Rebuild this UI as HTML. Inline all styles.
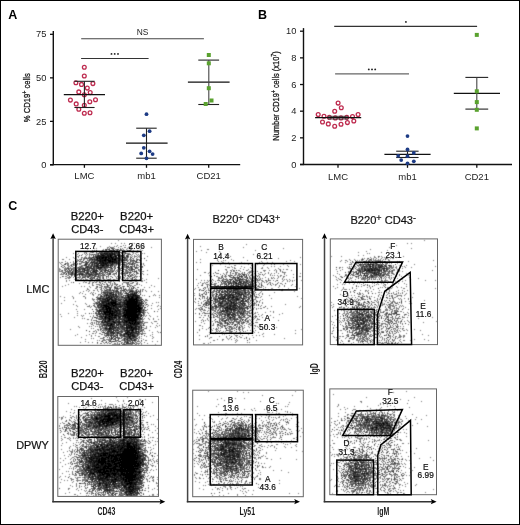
<!DOCTYPE html><html><head><meta charset="utf-8"><style>html,body{margin:0;padding:0;background:#fff;overflow:hidden;}svg{display:block;font-family:"Liberation Sans",sans-serif;will-change:transform;}</style></head><body><svg width="520" height="525" viewBox="0 0 520 525" font-family='"Liberation Sans", sans-serif'>
<rect x="0" y="0" width="520" height="525" fill="#fff"/>
<defs><filter id="bl" filterUnits="userSpaceOnUse" x="0" y="0" width="520" height="525"><feConvolveMatrix order="3" kernelMatrix="0.0192 0.1001 0.0192 0.1001 0.5228 0.1001 0.0192 0.1001 0.0192" divisor="1" preserveAlpha="false"/></filter></defs>
<g filter="url(#bl)"><path d="M118 240h1M111 243h1M115 243h1M121 243h1M124 243h1M132 243h1M134 243h1M88 245h1M117 245h1M123 245h1M125 245h1M131 245h2M100 246h1M109 246h1M114 246h1M116 246h1M120 246h2M129 246h1M131 246h1M107 247h2M111 247h3M118 247h1M124 247h2M128 247h4M142 247h1M151 247h1M94 248h1M96 248h1M107 248h1M109 248h1M113 248h2M120 248h1M122 248h1M127 248h1M134 248h1M141 248h1M87 249h1M103 249h1M107 249h1M112 249h1M115 249h2M121 249h1M123 249h1M126 249h1M130 249h1M140 249h1M92 250h1M94 250h1M103 250h1M105 250h1M112 250h1M116 250h1M123 250h2M128 250h1M133 250h1M137 250h1M142 250h1M92 251h3M96 251h4M101 251h1M104 251h1M106 251h1M108 251h3M126 251h1M129 251h1M131 251h2M84 252h3M90 252h2M93 252h1M103 252h1M113 252h1M119 252h1M122 252h2M132 252h2M136 252h2M73 253h1M78 253h1M84 253h1M89 253h1M96 253h2M99 253h1M118 253h1M121 253h1M124 253h1M126 253h4M133 253h1M135 253h1M142 253h1M144 253h1M77 254h1M82 254h1M85 254h1M87 254h1M89 254h3M93 254h1M95 254h3M116 254h1M120 254h1M122 254h1M127 254h1M129 254h1M132 254h1M136 254h1M138 254h1M86 255h1M89 255h1M91 255h1M96 255h1M113 255h1M124 255h1M128 255h1M131 255h1M134 255h1M137 255h1M139 255h1M77 256h2M85 256h1M89 256h1M94 256h1M122 256h2M130 256h1M132 256h1M134 256h3M138 256h2M147 256h1M66 257h1M73 257h1M78 257h1M81 257h2M84 257h3M88 257h1M90 257h2M94 257h1M118 257h1M121 257h1M126 257h1M128 257h1M130 257h1M134 257h1M137 257h1M139 257h1M74 258h1M81 258h1M83 258h1M85 258h1M87 258h1M89 258h1M92 258h2M95 258h1M126 258h2M132 258h2M136 258h1M141 258h1M62 259h2M69 259h1M77 259h1M79 259h2M83 259h2M87 259h1M118 259h1M125 259h1M127 259h1M129 259h3M133 259h1M136 259h1M138 259h2M75 260h1M77 260h1M80 260h1M87 260h2M90 260h2M93 260h1M127 260h2M131 260h1M137 260h1M146 260h1M65 261h1M73 261h1M77 261h1M80 261h2M88 261h2M92 261h1M95 261h2M118 261h1M120 261h1M122 261h1M124 261h1M131 261h4M59 262h1M61 262h2M67 262h1M70 262h1M73 262h1M76 262h1M81 262h2M84 262h2M98 262h1M119 262h1M121 262h2M126 262h1M128 262h3M132 262h1M135 262h1M138 262h2M60 263h1M66 263h3M73 263h1M80 263h2M89 263h1M91 263h1M93 263h1M120 263h1M123 263h2M126 263h2M129 263h3M133 263h1M135 263h1M141 263h1M143 263h1M61 264h1M67 264h2M71 264h2M74 264h1M77 264h1M79 264h2M84 264h1M87 264h2M93 264h1M95 264h1M109 264h1M114 264h2M117 264h1M119 264h3M125 264h3M130 264h1M133 264h2M136 264h2M140 264h2M143 264h1M62 265h2M67 265h2M70 265h1M73 265h2M81 265h3M89 265h2M93 265h1M113 265h4M118 265h3M123 265h1M125 265h1M128 265h1M132 265h1M136 265h3M144 265h1M68 266h2M71 266h2M76 266h1M79 266h2M82 266h1M85 266h1M89 266h1M92 266h1M99 266h1M111 266h1M115 266h1M121 266h1M124 266h2M132 266h2M136 266h1M139 266h1M141 266h1M62 267h2M65 267h1M67 267h2M70 267h1M73 267h1M76 267h2M79 267h1M81 267h3M95 267h1M113 267h3M119 267h1M121 267h1M123 267h3M127 267h1M129 267h2M132 267h1M134 267h1M137 267h2M141 267h2M59 268h1M64 268h3M69 268h6M76 268h3M80 268h1M86 268h1M88 268h1M95 268h1M102 268h2M106 268h2M110 268h1M114 268h1M118 268h3M123 268h1M126 268h1M129 268h2M136 268h2M59 269h2M64 269h2M69 269h1M72 269h3M81 269h1M85 269h2M91 269h1M95 269h1M98 269h1M101 269h1M103 269h2M106 269h1M109 269h4M117 269h1M119 269h2M124 269h3M129 269h2M139 269h1M59 270h1M61 270h1M64 270h1M70 270h1M74 270h1M78 270h1M80 270h1M83 270h1M89 270h2M92 270h1M99 270h2M102 270h2M111 270h4M116 270h2M120 270h1M122 270h1M125 270h1M127 270h1M130 270h1M132 270h1M134 270h1M136 270h1M138 270h2M147 270h1M59 271h4M65 271h1M67 271h1M69 271h1M73 271h2M77 271h1M86 271h1M89 271h1M98 271h1M102 271h1M107 271h1M110 271h2M115 271h1M119 271h1M122 271h1M125 271h4M130 271h1M133 271h1M139 271h1M142 271h2M62 272h3M67 272h1M69 272h2M73 272h3M78 272h2M81 272h3M85 272h1M100 272h1M103 272h3M109 272h4M124 272h3M128 272h1M131 272h1M134 272h1M137 272h1M61 273h1M63 273h1M69 273h2M73 273h1M76 273h1M78 273h1M83 273h1M90 273h1M92 273h1M94 273h1M98 273h1M100 273h1M102 273h2M105 273h1M107 273h2M113 273h2M116 273h1M120 273h1M125 273h1M129 273h2M133 273h1M136 273h1M138 273h1M140 273h1M142 273h1M60 274h4M65 274h1M68 274h2M73 274h1M76 274h1M85 274h1M87 274h1M93 274h1M99 274h2M103 274h1M106 274h3M112 274h3M116 274h1M121 274h2M124 274h2M131 274h1M136 274h1M140 274h1M143 274h1M147 274h1M67 275h2M72 275h1M77 275h1M81 275h1M83 275h2M86 275h3M91 275h1M94 275h1M96 275h1M99 275h2M102 275h1M104 275h2M114 275h1M118 275h1M125 275h1M131 275h3M135 275h1M63 276h1M65 276h2M71 276h1M79 276h2M82 276h3M86 276h1M90 276h3M96 276h1M99 276h2M102 276h2M107 276h2M110 276h2M115 276h1M117 276h2M122 276h1M125 276h1M129 276h1M131 276h1M134 276h4M139 276h1M60 277h1M67 277h3M73 277h1M76 277h2M79 277h2M85 277h1M90 277h1M92 277h1M97 277h2M100 277h1M102 277h1M106 277h1M108 277h1M116 277h1M118 277h3M122 277h3M127 277h1M129 277h1M133 277h1M136 277h1M65 278h2M68 278h2M75 278h1M79 278h1M81 278h2M85 278h1M89 278h1M91 278h1M93 278h1M96 278h1M99 278h2M102 278h1M106 278h1M110 278h1M116 278h5M122 278h1M124 278h1M126 278h3M130 278h2M135 278h1M142 278h1M158 278h1M74 279h1M77 279h2M80 279h2M83 279h1M85 279h3M90 279h1M92 279h1M95 279h2M100 279h1M103 279h2M107 279h1M109 279h2M113 279h2M118 279h1M121 279h2M125 279h1M127 279h1M131 279h1M135 279h1M139 279h1M146 279h1M66 280h1M69 280h1M83 280h1M86 280h1M91 280h2M98 280h4M105 280h2M109 280h2M113 280h1M115 280h1M117 280h3M122 280h4M132 280h2M137 280h1M142 280h1M144 280h1M66 281h1M84 281h1M89 281h2M94 281h1M96 281h2M99 281h1M101 281h1M103 281h1M105 281h1M108 281h1M110 281h2M113 281h1M119 281h1M129 281h3M135 281h2M141 281h2M71 282h1M83 282h1M85 282h2M89 282h1M92 282h1M95 282h2M100 282h1M104 282h2M108 282h3M123 282h5M132 282h1M137 282h1M146 282h1M79 283h1M88 283h2M92 283h1M100 283h1M106 283h1M110 283h1M112 283h1M114 283h2M122 283h1M126 283h3M130 283h3M136 283h2M68 284h1M92 284h1M96 284h4M101 284h1M103 284h2M106 284h1M110 284h1M112 284h1M114 284h3M122 284h1M128 284h2M136 284h2M139 284h1M65 285h1M92 285h2M99 285h3M108 285h2M111 285h2M119 285h2M127 285h1M129 285h3M134 285h2M141 285h1M151 285h1M62 286h1M81 286h1M84 286h1M89 286h1M96 286h1M101 286h2M105 286h2M108 286h1M111 286h1M114 286h2M117 286h3M122 286h1M124 286h1M130 286h1M133 286h1M154 286h1M90 287h1M96 287h2M99 287h3M104 287h5M110 287h2M116 287h2M121 287h1M123 287h1M129 287h1M131 287h1M134 287h1M137 287h2M144 287h1M149 287h1M87 288h1M95 288h2M103 288h1M105 288h2M109 288h1M114 288h1M118 288h3M125 288h1M129 288h1M132 288h1M135 288h1M87 289h2M97 289h1M100 289h2M104 289h1M106 289h1M108 289h1M112 289h1M114 289h1M116 289h3M121 289h1M123 289h1M126 289h1M128 289h5M136 289h2M140 289h1M142 289h2M86 290h1M89 290h1M93 290h2M97 290h1M101 290h2M104 290h1M107 290h2M111 290h1M114 290h2M121 290h1M127 290h3M133 290h1M135 290h1M138 290h1M142 290h1M145 290h1M83 291h1M88 291h1M98 291h1M101 291h1M103 291h4M108 291h4M114 291h1M120 291h2M123 291h2M127 291h1M134 291h2M137 291h1M139 291h1M142 291h1M146 291h1M151 291h1M158 291h1M80 292h1M91 292h1M93 292h1M101 292h2M114 292h2M117 292h1M119 292h1M121 292h1M123 292h1M125 292h1M128 292h1M130 292h2M133 292h1M139 292h2M79 293h1M82 293h1M90 293h1M92 293h1M95 293h1M103 293h1M106 293h1M108 293h1M112 293h1M116 293h2M119 293h1M121 293h2M124 293h1M138 293h1M140 293h1M85 294h1M92 294h2M98 294h3M102 294h3M108 294h1M119 294h2M122 294h1M126 294h1M137 294h1M154 294h1M93 295h1M98 295h1M100 295h1M103 295h1M114 295h1M117 295h5M124 295h1M142 295h1M144 295h1M153 295h1M155 295h1M159 295h1M60 296h1M72 296h1M83 296h2M97 296h1M103 296h1M105 296h1M107 296h1M119 296h2M123 296h1M126 296h1M64 297h1M73 297h1M85 297h1M97 297h3M101 297h2M104 297h2M115 297h1M118 297h1M120 297h1M141 297h1M159 297h1M73 298h1M85 298h1M92 298h1M113 298h1M117 298h1M119 298h5M140 298h2M92 299h3M96 299h2M101 299h1M122 299h1M124 299h1M139 299h1M145 299h2M64 300h1M93 300h1M97 300h1M99 300h1M110 300h1M117 300h1M121 300h2M145 300h3M75 301h1M94 301h1M97 301h2M100 301h1M118 301h2M122 301h1M140 301h1M95 302h1M97 302h1M117 302h1M142 302h2M145 302h2M156 302h1M158 302h1M61 303h1M85 303h1M93 303h3M98 303h1M121 303h1M145 303h1M152 303h1M73 304h1M86 304h1M94 304h1M96 304h2M142 304h1M144 304h1M147 304h1M76 305h1M89 305h1M94 305h1M142 305h1M145 305h1M148 305h1M151 305h1M158 305h1M77 306h1M87 306h3M91 306h1M95 306h1M99 306h1M141 306h2M147 306h1M157 306h1M160 306h1M90 307h1M95 307h3M122 307h1M96 308h1M98 308h3M121 308h1M144 308h1M151 308h1M160 308h1M76 309h1M84 309h1M95 309h1M97 309h1M142 309h1M144 309h1M147 309h1M158 309h1M96 310h1M121 310h1M144 310h1M146 310h1M77 311h1M96 311h1M142 311h1M144 311h1M157 311h1M95 312h2M102 312h1M121 312h1M144 312h2M147 312h1M68 313h1M77 313h1M85 313h1M91 313h1M93 313h1M97 313h1M142 313h1M144 313h1M148 313h1M60 314h1M96 314h2M101 314h1M122 314h1M144 314h1M77 315h1M81 315h1M83 315h1M93 315h1M99 315h1M102 315h1M104 315h1M143 315h2M146 315h1M149 315h1M61 316h1M82 316h1M90 316h1M93 316h1M97 316h2M139 316h1M143 316h1M145 316h1M150 316h1M157 316h1M74 317h1M92 317h1M96 317h2M99 317h1M103 317h1M117 317h1M82 318h1M84 318h1M92 318h1M97 318h4M117 318h1M142 318h1M144 318h1M148 318h1M153 318h1M87 319h2M91 319h1M98 319h1M102 319h1M115 319h1M142 319h2M149 319h1M153 319h1M158 319h1M91 320h1M93 320h3M106 320h1M114 320h1M117 320h1M121 320h1M138 320h1M140 320h1M142 320h1M96 321h1M98 321h3M103 321h1M141 321h1M143 321h1M154 321h3M91 322h2M94 322h1M96 322h1M98 322h2M142 322h1M144 322h4M151 322h1M87 323h1M90 323h1M92 323h1M94 323h1M96 323h1M98 323h1M100 323h3M104 323h2M117 323h1M121 323h2M140 323h5M152 323h1M157 323h1M91 324h2M96 324h7M122 324h1M140 324h2M93 325h1M99 325h1M101 325h1M115 325h1M119 325h1M138 325h2M141 325h2M144 325h1M156 325h1M159 325h1M78 326h1M89 326h1M91 326h1M95 326h1M97 326h1M99 326h3M104 326h2M107 326h1M115 326h1M119 326h1M124 326h1M140 326h1M146 326h1M150 326h1M157 326h1M79 327h1M99 327h2M102 327h3M107 327h1M119 327h1M137 327h1M140 327h1M142 327h2M146 327h1M155 327h1M91 328h1M93 328h1M100 328h4M116 328h1M120 328h1M140 328h1M144 328h3M70 329h1M97 329h2M101 329h1M103 329h2M114 329h2M118 329h1M120 329h2M125 329h1M128 329h1M140 329h3M95 330h1M98 330h1M100 330h1M103 330h3M107 330h1M120 330h1M122 330h2M134 330h1M139 330h2M142 330h2M149 330h1M93 331h2M96 331h1M101 331h1M103 331h1M105 331h1M116 331h3M123 331h1M130 331h1M134 331h1M139 331h1M141 331h2M144 331h1M157 331h1M96 332h1M106 332h1M109 332h1M115 332h1M119 332h2M137 332h1M142 332h1M152 332h1M158 332h1M92 333h2M95 333h1M99 333h2M104 333h1M109 333h1M115 333h2M121 333h1M123 333h1M139 333h7M77 334h1M89 334h1M101 334h2M104 334h1M106 334h1M109 334h2M112 334h1M115 334h2M119 334h1M122 334h1M135 334h2M139 334h1M142 334h1M152 334h1M75 335h1M86 335h1M91 335h1M95 335h1M104 335h2M109 335h1M113 335h1M115 335h1M119 335h1M125 335h2M136 335h1M138 335h1M150 335h1M91 336h1M98 336h2M105 336h2M108 336h1M110 336h1M120 336h3M137 336h1M139 336h1M141 336h1M146 336h1M152 336h1M81 337h1M104 337h1M112 337h1M115 337h1M118 337h2M122 337h1M124 337h2M131 337h1M136 337h1M138 337h2M153 337h1M91 338h1M93 338h1M100 338h4M109 338h2M117 338h1M120 338h2M123 338h1M126 338h1M134 338h2M139 338h1M141 338h1M152 338h1M85 339h1M103 339h2M106 339h5M114 339h1M122 339h2M125 339h1M128 339h2M132 339h2M136 339h1M138 339h1M143 339h1M97 340h1M99 340h1M102 340h4M108 340h2M116 340h1M118 340h1M121 340h3M125 340h2M130 340h1M136 340h1M138 340h1M145 340h2M85 341h1M101 341h1M106 341h1M111 341h1M115 341h2M118 341h1M124 341h1M126 341h1M128 341h2M134 341h2M138 341h2M141 341h1M152 341h1M157 341h1M80 342h1M88 342h1M92 342h1M103 342h1M105 342h1M108 342h1M111 342h1M117 342h1M121 342h2M125 342h1M130 342h2M135 342h2M140 342h1M144 342h1M97 343h1M100 343h2M104 343h1M107 343h1M109 343h2M114 343h2M117 343h1M119 343h1M123 343h2M131 343h1M133 343h1M136 343h4M141 343h1M147 343h1M112 344h7M126 344h5M132 344h1M136 344h1M138 344h1M141 344h1M155 344h1" stroke="#7c7c7c" stroke-width="1" fill="none" transform="translate(0,0.5)" shape-rendering="crispEdges"/><path d="M110 247h1M111 248h2M105 249h2M108 249h2M117 249h2M120 249h1M131 249h1M96 250h1M102 250h1M106 250h1M109 250h3M113 250h2M117 250h1M119 250h4M127 250h1M129 250h1M103 251h1M105 251h1M112 251h6M123 251h2M138 251h1M92 252h1M96 252h1M99 252h2M105 252h1M109 252h2M115 252h1M117 252h2M120 252h2M124 252h2M86 253h1M101 253h2M108 253h1M115 253h2M119 253h1M92 254h1M94 254h1M98 254h1M104 254h1M118 254h1M124 254h1M128 254h1M130 254h1M79 255h1M81 255h1M93 255h1M95 255h1M100 255h1M105 255h2M120 255h1M122 255h2M126 255h2M93 256h1M95 256h1M112 256h1M120 256h1M124 256h1M126 256h1M128 256h1M89 257h1M95 257h1M114 257h1M119 257h2M124 257h2M127 257h1M131 257h1M84 258h1M88 258h1M90 258h1M107 258h1M120 258h2M125 258h1M130 258h1M144 258h1M81 259h1M89 259h3M93 259h1M95 259h1M98 259h1M117 259h1M120 259h1M123 259h2M78 260h1M83 260h1M89 260h1M92 260h1M94 260h2M117 260h1M120 260h1M122 260h2M125 260h2M130 260h1M132 260h3M136 260h1M139 260h2M76 261h1M79 261h1M82 261h1M85 261h2M93 261h1M98 261h1M107 261h1M119 261h1M121 261h1M130 261h1M135 261h2M75 262h1M83 262h1M86 262h3M90 262h1M94 262h2M117 262h1M120 262h1M125 262h1M133 262h1M136 262h2M65 263h1M74 263h1M77 263h1M79 263h1M85 263h3M90 263h1M97 263h1M108 263h1M111 263h1M113 263h1M115 263h1M118 263h2M134 263h1M64 264h2M73 264h1M76 264h1M91 264h1M96 264h1M107 264h1M110 264h1M113 264h1M116 264h1M118 264h1M122 264h1M129 264h1M132 264h1M71 265h1M76 265h1M85 265h2M88 265h1M91 265h2M95 265h1M98 265h1M105 265h1M109 265h1M112 265h1M124 265h1M126 265h1M64 266h1M81 266h1M86 266h1M88 266h1M90 266h1M94 266h2M100 266h2M104 266h2M107 266h2M112 266h1M118 266h1M123 266h1M126 266h1M128 266h1M131 266h1M134 266h1M142 266h1M74 267h1M78 267h1M85 267h1M87 267h5M94 267h1M97 267h1M103 267h1M105 267h4M110 267h2M117 267h2M126 267h1M135 267h2M67 268h2M75 268h1M81 268h2M85 268h1M89 268h2M93 268h2M96 268h1M99 268h1M104 268h2M112 268h1M115 268h1M122 268h1M127 268h1M131 268h2M66 269h1M68 269h1M79 269h2M82 269h2M88 269h2M92 269h2M100 269h1M102 269h1M108 269h1M114 269h1M123 269h1M131 269h4M138 269h1M141 269h1M62 270h1M65 270h1M67 270h1M71 270h1M73 270h1M76 270h1M79 270h1M82 270h1M87 270h2M91 270h1M94 270h1M101 270h1M104 270h2M107 270h2M110 270h1M126 270h1M129 270h1M131 270h1M66 271h1M68 271h1M70 271h1M75 271h2M79 271h2M82 271h1M87 271h2M92 271h1M95 271h3M104 271h1M108 271h1M112 271h2M117 271h1M123 271h1M132 271h1M134 271h3M65 272h1M68 272h1M71 272h1M76 272h2M80 272h1M86 272h1M88 272h1M90 272h5M99 272h1M102 272h1M106 272h2M116 272h1M121 272h1M127 272h1M129 272h2M64 273h1M68 273h1M71 273h1M74 273h1M79 273h3M85 273h2M88 273h2M91 273h1M93 273h1M95 273h2M109 273h1M115 273h1M121 273h1M123 273h2M126 273h2M137 273h1M66 274h1M70 274h3M75 274h1M78 274h1M80 274h1M83 274h2M89 274h1M92 274h1M94 274h2M97 274h2M102 274h1M104 274h1M110 274h1M129 274h1M132 274h1M134 274h1M71 275h1M76 275h1M82 275h1M85 275h1M90 275h1M92 275h1M98 275h1M101 275h1M103 275h1M108 275h1M124 275h1M127 275h2M62 276h1M69 276h1M74 276h2M85 276h1M87 276h3M94 276h2M97 276h2M120 276h1M128 276h1M130 276h1M70 277h1M78 277h1M82 277h3M87 277h1M91 277h1M93 277h2M99 277h1M103 277h1M112 277h1M132 277h1M134 277h1M76 278h1M92 278h1M94 278h1M97 278h1M103 278h1M132 278h1M76 279h1M91 279h1M97 279h3M108 279h1M132 279h1M134 279h1M136 279h1M134 280h1M102 281h1M73 282h1M93 282h1M99 282h1M114 282h1M128 282h1M133 282h1M102 283h1M107 284h1M117 284h1M127 284h1M107 285h1M116 285h1M97 286h1M104 286h1M107 286h1M123 286h1M127 286h2M132 286h1M109 287h1M114 287h2M120 287h1M133 287h1M101 288h1M115 288h2M121 288h1M123 288h1M131 288h1M107 289h1M109 289h2M124 289h2M106 290h1M109 290h2M112 290h1M116 290h1M120 290h1M123 290h2M126 290h1M130 290h3M140 290h1M107 291h1M113 291h1M115 291h4M125 291h1M129 291h1M133 291h1M136 291h1M138 291h1M140 291h1M104 292h7M113 292h1M116 292h1M120 292h1M126 292h1M132 292h1M135 292h1M137 292h1M101 293h1M104 293h2M115 293h1M118 293h1M120 293h1M125 293h1M128 293h1M130 293h2M133 293h1M135 293h1M105 294h1M109 294h3M114 294h2M121 294h1M127 294h1M136 294h1M101 295h1M105 295h1M109 295h1M111 295h2M123 295h1M125 295h2M129 295h1M131 295h1M139 295h1M100 296h1M102 296h1M110 296h1M112 296h1M114 296h1M116 296h1M118 296h1M121 296h2M125 296h1M138 296h2M149 296h1M96 297h1M100 297h1M103 297h1M110 297h1M113 297h1M117 297h1M119 297h1M121 297h1M123 297h3M130 297h1M134 297h1M139 297h2M97 298h2M101 298h1M103 298h2M108 298h1M112 298h1M116 298h1M125 298h3M138 298h1M98 299h3M106 299h1M113 299h2M117 299h4M123 299h1M127 299h1M140 299h2M101 300h4M116 300h1M123 300h1M141 300h1M143 300h1M99 301h1M109 301h1M120 301h2M123 301h1M125 301h1M138 301h2M144 301h1M96 302h1M98 302h1M101 302h1M107 302h1M121 302h1M96 303h1M99 303h1M101 303h1M104 303h2M118 303h1M122 303h2M142 303h1M98 304h1M100 304h1M102 304h1M121 304h2M140 304h1M93 305h1M98 305h3M117 305h3M121 305h1M123 305h1M125 305h1M94 306h1M97 306h2M102 306h1M110 306h1M117 306h1M123 306h1M143 306h1M101 307h1M112 307h1M114 307h1M118 307h1M124 307h1M144 307h2M101 308h1M104 308h1M115 308h1M120 308h1M126 308h1M142 308h1M92 309h1M96 309h1M112 309h1M116 309h1M120 309h3M97 310h2M101 310h2M105 310h1M113 310h1M122 310h1M141 310h2M93 311h1M97 311h2M118 311h1M121 311h3M141 311h1M143 311h1M154 311h1M99 312h1M118 312h1M122 312h1M143 312h1M89 313h1M95 313h2M98 313h2M103 313h1M115 313h1M121 313h1M137 313h1M98 314h1M100 314h1M117 314h1M121 314h1M140 314h1M143 314h1M96 315h2M100 315h2M119 315h3M139 315h2M142 315h1M100 316h1M107 316h1M113 316h1M117 316h1M121 316h1M94 317h1M100 317h2M122 317h2M140 317h1M142 317h1M96 318h1M101 318h1M103 318h1M113 318h1M120 318h4M139 318h1M99 319h1M101 319h1M104 319h1M106 319h2M114 319h1M118 319h2M122 319h1M125 319h1M139 319h3M96 320h1M103 320h2M111 320h2M118 320h1M123 320h1M137 320h1M139 320h1M97 321h1M101 321h1M110 321h2M115 321h2M120 321h2M123 321h1M137 321h1M139 321h2M142 321h1M108 322h5M116 322h1M121 322h2M140 322h2M103 323h1M106 323h1M113 323h1M115 323h2M120 323h1M123 323h1M125 323h1M127 323h1M103 324h1M106 324h1M108 324h2M117 324h1M119 324h1M121 324h1M125 324h1M129 324h1M139 324h1M143 324h1M102 325h2M105 325h1M113 325h2M116 325h1M118 325h1M120 325h4M125 325h1M127 325h1M132 325h1M137 325h1M143 325h1M102 326h1M108 326h2M111 326h1M114 326h1M118 326h1M121 326h1M123 326h1M133 326h2M106 327h1M111 327h1M113 327h1M116 327h1M120 327h4M125 327h1M104 328h1M107 328h1M112 328h1M114 328h1M117 328h3M121 328h5M137 328h3M105 329h4M111 329h1M116 329h2M119 329h1M122 329h2M129 329h1M137 329h1M139 329h1M86 330h1M102 330h1M106 330h1M109 330h2M115 330h2M121 330h1M124 330h1M136 330h1M138 330h1M89 331h1M108 331h1M110 331h3M119 331h4M124 331h3M102 332h3M107 332h2M113 332h1M116 332h1M121 332h2M135 332h1M139 332h1M160 332h1M106 333h3M111 333h2M118 333h3M129 333h1M133 333h2M138 333h1M107 334h2M111 334h1M117 334h1M120 334h1M125 334h1M131 334h1M134 334h1M137 334h2M106 335h2M111 335h1M114 335h1M121 335h3M129 335h1M135 335h1M144 335h1M113 336h3M117 336h1M123 336h1M126 336h2M131 336h1M135 336h2M103 337h1M107 337h1M109 337h1M113 337h1M117 337h1M121 337h1M126 337h3M132 337h2M114 338h2M118 338h2M125 338h1M128 338h1M132 338h1M136 338h1M115 339h1M118 339h1M110 340h1M115 340h1M117 340h1M127 340h3M131 340h2M135 340h1M141 340h1M102 341h1M109 341h2M112 341h3M119 341h2M125 341h1M130 341h1M132 341h1M137 341h1M97 342h1M106 342h1M124 342h1M126 342h1M128 342h1M132 342h2M121 343h1M127 343h4M132 343h1M122 344h2M125 344h1M131 344h1M135 344h1" stroke="#404040" stroke-width="1" fill="none" transform="translate(0,0.5)" shape-rendering="crispEdges"/><path d="M113 249h1M130 250h1M111 251h1M118 251h2M101 252h2M104 252h1M106 252h1M108 252h1M111 252h2M116 252h1M98 253h1M100 253h1M103 253h1M105 253h3M110 253h2M113 253h2M117 253h1M125 253h1M100 254h1M102 254h2M106 254h4M111 254h1M115 254h1M117 254h1M119 254h1M97 255h3M101 255h1M108 255h2M112 255h1M115 255h3M96 256h4M101 256h2M104 256h1M107 256h1M109 256h1M114 256h1M121 256h1M127 256h1M92 257h1M97 257h2M100 257h1M109 257h1M115 257h2M122 257h1M94 258h1M96 258h1M98 258h1M100 258h1M104 258h1M110 258h1M113 258h2M116 258h1M118 258h1M124 258h1M94 259h1M96 259h1M99 259h1M101 259h3M109 259h1M111 259h1M116 259h1M119 259h1M121 259h1M126 259h1M137 259h1M96 260h2M99 260h1M101 260h1M106 260h1M111 260h1M113 260h1M116 260h1M118 260h1M121 260h1M124 260h1M91 261h1M97 261h1M101 261h1M103 261h2M106 261h1M114 261h3M127 261h1M91 262h3M96 262h2M100 262h2M104 262h3M110 262h2M113 262h1M115 262h1M123 262h2M92 263h1M95 263h1M100 263h3M104 263h1M106 263h1M109 263h2M114 263h1M116 263h2M128 263h1M132 263h1M85 264h2M92 264h1M94 264h1M97 264h2M100 264h6M108 264h1M111 264h2M123 264h2M131 264h1M84 265h1M94 265h1M96 265h2M100 265h2M104 265h1M106 265h1M108 265h1M110 265h2M134 265h1M61 266h1M87 266h1M91 266h1M93 266h1M96 266h1M98 266h1M102 266h2M106 266h1M110 266h1M114 266h1M127 266h1M130 266h1M80 267h1M86 267h1M93 267h1M96 267h1M102 267h1M104 267h1M109 267h1M128 267h1M131 267h1M79 268h1M83 268h2M87 268h1M91 268h2M97 268h1M100 268h2M111 268h1M121 268h1M135 268h1M71 269h1M75 269h2M78 269h1M87 269h1M94 269h1M96 269h1M99 269h1M128 269h1M69 270h1M75 270h1M84 270h3M95 270h3M106 270h1M121 270h1M72 271h1M78 271h1M81 271h1M83 271h2M90 271h1M93 271h2M100 271h2M105 271h1M109 271h1M72 272h1M84 272h1M87 272h1M95 272h2M136 272h1M66 273h1M72 273h1M75 273h1M82 273h1M87 273h1M97 273h1M101 273h1M110 273h1M74 274h1M77 274h1M79 274h1M81 274h2M86 274h1M88 274h1M91 274h1M96 274h1M109 274h1M79 275h1M89 275h1M93 275h1M95 275h1M130 275h1M106 276h1M88 277h1M90 278h1M110 288h1M117 288h1M133 288h1M105 290h1M113 290h1M117 290h1M122 290h1M136 290h1M131 291h2M103 292h1M111 292h2M118 292h1M129 292h1M134 292h1M136 292h1M107 293h1M109 293h3M113 293h1M126 293h2M132 293h1M106 294h1M118 294h1M128 294h5M134 294h2M140 294h1M104 295h1M107 295h2M110 295h1M113 295h1M115 295h2M128 295h1M130 295h1M132 295h1M134 295h1M138 295h1M101 296h1M106 296h1M108 296h2M111 296h1M113 296h1M115 296h1M117 296h1M127 296h1M129 296h2M133 296h5M107 297h1M109 297h1M112 297h1M114 297h1M122 297h1M126 297h2M135 297h1M99 298h2M102 298h1M105 298h1M107 298h1M109 298h1M111 298h1M114 298h1M118 298h1M124 298h1M128 298h1M134 298h1M137 298h1M139 298h1M102 299h4M108 299h1M110 299h1M115 299h2M121 299h1M128 299h1M137 299h2M142 299h1M100 300h1M105 300h2M109 300h1M114 300h1M119 300h2M127 300h1M135 300h1M138 300h1M140 300h1M101 301h3M105 301h2M110 301h1M112 301h1M114 301h1M116 301h2M124 301h1M141 301h2M99 302h1M103 302h4M109 302h1M116 302h1M118 302h3M122 302h5M138 302h1M140 302h2M97 303h1M102 303h2M110 303h1M116 303h2M119 303h2M125 303h1M137 303h5M99 304h1M103 304h3M107 304h1M110 304h1M113 304h2M120 304h1M123 304h2M137 304h1M141 304h1M146 304h1M97 305h1M101 305h2M108 305h2M111 305h1M116 305h1M120 305h1M122 305h1M124 305h1M139 305h3M143 305h1M100 306h1M103 306h1M112 306h1M115 306h1M118 306h2M121 306h2M126 306h1M139 306h2M98 307h3M104 307h1M107 307h1M116 307h2M119 307h3M123 307h1M125 307h1M137 307h1M141 307h2M102 308h1M105 308h1M114 308h1M116 308h1M118 308h1M123 308h1M99 309h3M103 309h2M108 309h1M111 309h1M114 309h1M117 309h3M124 309h1M140 309h1M143 309h1M99 310h2M103 310h2M108 310h1M111 310h1M114 310h1M117 310h1M119 310h2M123 310h1M137 310h1M143 310h1M145 310h1M99 311h1M101 311h2M114 311h2M117 311h1M119 311h2M125 311h1M98 312h1M101 312h1M111 312h1M113 312h1M116 312h2M119 312h2M125 312h1M138 312h1M140 312h2M100 313h3M106 313h3M114 313h1M116 313h1M118 313h3M122 313h3M139 313h2M143 313h1M99 314h1M102 314h1M110 314h1M113 314h2M118 314h3M141 314h1M106 315h3M110 315h1M118 315h1M122 315h1M99 316h1M101 316h4M111 316h1M115 316h2M119 316h2M122 316h1M126 316h1M140 316h2M95 317h1M102 317h1M106 317h1M108 317h1M110 317h1M112 317h1M119 317h1M124 317h1M130 317h1M104 318h1M106 318h2M110 318h2M114 318h3M119 318h1M124 318h3M136 318h1M138 318h1M140 318h2M100 319h1M108 319h1M117 319h1M121 319h1M124 319h1M126 319h2M137 319h1M102 320h1M107 320h2M110 320h1M113 320h1M115 320h2M119 320h1M122 320h1M126 320h1M106 321h2M117 321h3M124 321h1M128 321h1M130 321h1M134 321h1M138 321h1M101 322h7M117 322h4M124 322h2M127 322h2M131 322h1M133 322h1M136 322h1M138 322h2M107 323h4M112 323h1M114 323h1M118 323h2M124 323h1M126 323h1M128 323h1M133 323h1M136 323h2M104 324h2M112 324h3M123 324h2M126 324h1M128 324h1M131 324h1M135 324h1M137 324h1M104 325h1M106 325h2M112 325h1M117 325h1M124 325h1M131 325h1M133 325h4M140 325h1M106 326h1M110 326h1M113 326h1M116 326h1M120 326h1M127 326h3M136 326h2M141 326h1M105 327h1M109 327h1M112 327h1M114 327h1M117 327h2M124 327h1M127 327h2M130 327h1M133 327h1M135 327h1M138 327h2M141 327h1M105 328h1M108 328h1M110 328h1M113 328h1M115 328h1M126 328h1M129 328h2M132 328h1M134 328h2M141 328h1M100 329h1M110 329h1M112 329h2M126 329h1M130 329h2M135 329h1M143 329h1M108 330h1M111 330h1M113 330h2M117 330h1M125 330h1M127 330h1M135 330h1M141 330h1M107 331h1M113 331h1M115 331h1M128 331h2M131 331h3M135 331h3M140 331h1M110 332h3M114 332h1M117 332h1M125 332h2M128 332h1M132 332h1M134 332h1M136 332h1M138 332h1M105 333h1M110 333h1M113 333h2M117 333h1M125 333h1M127 333h2M131 333h2M135 333h3M113 334h1M121 334h1M123 334h2M127 334h1M132 334h2M108 335h1M110 335h1M112 335h1M116 335h2M120 335h1M124 335h1M127 335h1M130 335h2M133 335h2M137 335h1M111 336h1M124 336h2M128 336h1M132 336h1M134 336h1M130 337h1M134 337h2M111 338h1M127 338h1M129 338h2M133 338h1M137 338h1M111 339h1M124 339h1M126 339h1M130 339h1M134 339h2M124 340h1M133 340h1M127 341h1M127 342h1M126 343h1M134 343h1M119 344h1M124 344h1" stroke="#1c1c1c" stroke-width="1" fill="none" transform="translate(0,0.5)" shape-rendering="crispEdges"/><path d="M107 252h1M114 252h1M104 253h1M109 253h1M112 253h1M122 253h1M101 254h1M105 254h1M110 254h1M112 254h3M102 255h3M107 255h1M110 255h2M114 255h1M118 255h2M121 255h1M100 256h1M103 256h1M105 256h2M108 256h1M110 256h2M113 256h1M115 256h2M118 256h2M93 257h1M96 257h1M99 257h1M101 257h8M110 257h4M117 257h1M123 257h1M86 258h1M91 258h1M97 258h1M99 258h1M101 258h3M105 258h2M108 258h2M111 258h2M115 258h1M117 258h1M119 258h1M92 259h1M97 259h1M100 259h1M104 259h5M110 259h1M112 259h4M98 260h1M100 260h1M102 260h4M107 260h4M112 260h1M114 260h2M119 260h1M94 261h1M99 261h2M102 261h1M105 261h1M108 261h6M117 261h1M99 262h1M102 262h2M107 262h3M112 262h1M114 262h1M116 262h1M118 262h1M94 263h1M96 263h1M98 263h2M103 263h1M105 263h1M107 263h1M112 263h1M89 264h1M106 264h1M99 265h1M102 265h2M107 265h1M97 266h1M98 267h4M98 268h1M84 269h1M105 269h1M77 270h1M93 270h1M99 273h1M90 274h1M74 275h1M130 291h1M134 293h1M136 293h1M107 294h1M112 294h2M116 294h1M133 294h1M106 295h1M127 295h1M133 295h1M135 295h3M104 296h1M128 296h1M131 296h2M106 297h1M108 297h1M111 297h1M116 297h1M128 297h2M131 297h3M136 297h3M106 298h1M110 298h1M115 298h1M129 298h5M135 298h2M107 299h1M109 299h1M111 299h2M125 299h2M129 299h8M107 300h2M111 300h3M115 300h1M118 300h1M124 300h3M128 300h7M136 300h2M139 300h1M104 301h1M107 301h2M111 301h1M113 301h1M115 301h1M126 301h12M102 302h1M108 302h1M110 302h6M127 302h11M139 302h1M100 303h1M106 303h4M111 303h5M124 303h1M126 303h11M143 303h1M101 304h1M106 304h1M108 304h2M111 304h2M115 304h5M125 304h12M138 304h2M103 305h5M110 305h1M112 305h4M126 305h13M101 306h1M104 306h6M111 306h1M113 306h2M116 306h1M120 306h1M124 306h2M127 306h12M102 307h2M105 307h2M108 307h4M113 307h1M115 307h1M126 307h11M138 307h3M103 308h1M106 308h8M117 308h1M122 308h1M124 308h2M127 308h15M102 309h1M105 309h3M109 309h2M113 309h1M115 309h1M123 309h1M125 309h15M141 309h1M106 310h2M109 310h2M112 310h1M115 310h2M118 310h1M124 310h13M138 310h3M100 311h1M103 311h11M116 311h1M124 311h1M126 311h15M103 312h8M112 312h1M114 312h2M123 312h2M126 312h12M139 312h1M142 312h1M104 313h2M109 313h5M117 313h1M125 313h12M138 313h1M103 314h7M111 314h2M115 314h2M123 314h17M103 315h1M105 315h1M109 315h1M111 315h7M123 315h16M141 315h1M105 316h2M108 316h3M112 316h1M114 316h1M118 316h1M123 316h3M127 316h12M104 317h2M107 317h1M109 317h1M111 317h1M113 317h4M118 317h1M120 317h1M125 317h5M131 317h9M102 318h1M105 318h1M108 318h2M112 318h1M118 318h1M127 318h9M137 318h1M103 319h1M105 319h1M109 319h5M116 319h1M120 319h1M123 319h1M128 319h9M138 319h1M105 320h1M109 320h1M124 320h2M127 320h10M102 321h1M104 321h2M108 321h2M112 321h3M122 321h1M125 321h3M129 321h1M131 321h3M135 321h2M113 322h3M123 322h1M126 322h1M129 322h2M132 322h1M134 322h2M137 322h1M111 323h1M129 323h4M134 323h2M138 323h2M107 324h1M110 324h2M116 324h1M118 324h1M120 324h1M127 324h1M130 324h1M132 324h3M136 324h1M138 324h1M108 325h4M126 325h1M128 325h3M112 326h1M122 326h1M126 326h1M130 326h3M135 326h1M138 326h2M110 327h1M115 327h1M126 327h1M129 327h1M131 327h2M134 327h1M136 327h1M106 328h1M109 328h1M111 328h1M127 328h2M131 328h1M133 328h1M136 328h1M109 329h1M124 329h1M127 329h1M132 329h3M136 329h1M138 329h1M118 330h1M126 330h1M128 330h6M109 331h1M127 331h1M138 331h1M118 332h1M127 332h1M129 332h3M133 332h1M124 333h1M126 333h1M130 333h1M126 334h1M128 334h3M141 334h1M128 335h1M132 335h1M129 336h2M133 336h1M111 337h1M116 337h1M129 337h1M112 338h1M124 338h1M131 338h1M113 339h1M127 339h1M131 339h1M134 340h1" stroke="#000000" stroke-width="1" fill="none" transform="translate(0,0.5)" shape-rendering="crispEdges"/>
<path d="M246 244h1M200 246h1M266 246h1M243 247h1M283 248h1M207 249h2M201 250h1M255 250h1M196 251h1M219 251h1M206 252h1M220 252h1M225 254h1M253 254h1M228 255h1M230 256h1M226 257h1M243 257h1M300 257h1M278 258h1M200 259h1M217 259h1M231 259h1M266 259h1M217 260h1M223 260h1M225 260h1M233 260h1M247 260h1M290 260h1M218 261h1M221 261h1M261 261h1M286 261h1M294 261h1M196 262h1M200 262h1M222 262h2M228 262h1M241 262h1M259 262h1M262 262h1M267 262h1M272 262h1M225 263h1M239 263h1M244 263h1M266 263h1M220 264h1M229 264h1M248 264h1M257 264h1M264 264h1M271 264h1M283 264h1M300 264h1M212 265h1M234 265h2M251 265h1M263 265h1M287 265h1M225 266h1M231 266h1M241 266h1M271 266h1M274 266h1M280 266h1M288 266h1M227 267h3M232 267h1M234 267h1M244 267h1M250 267h1M262 267h1M267 267h1M234 268h2M240 268h1M251 268h1M261 268h2M268 268h1M278 268h1M197 269h1M225 269h2M232 269h1M243 269h1M248 269h1M275 269h1M279 269h2M283 269h1M286 269h2M226 270h1M230 270h2M234 270h1M238 270h2M246 270h2M251 270h1M263 270h3M269 270h1M274 270h1M276 270h1M291 270h1M227 271h1M231 271h1M233 271h2M240 271h1M249 271h3M253 271h1M255 271h1M257 271h1M264 271h1M276 271h1M280 271h1M282 271h1M204 272h2M209 272h1M226 272h2M236 272h2M242 272h1M248 272h4M260 272h2M268 272h1M276 272h1M282 272h4M208 273h1M213 273h1M216 273h3M223 273h1M226 273h1M230 273h1M232 273h2M235 273h2M238 273h2M241 273h2M244 273h1M247 273h1M249 273h1M254 273h1M258 273h1M265 273h1M268 273h1M271 273h1M274 273h1M278 273h1M284 273h1M300 273h1M220 274h1M224 274h1M226 274h1M230 274h1M235 274h2M238 274h2M245 274h2M248 274h1M251 274h2M259 274h2M264 274h1M270 274h1M284 274h1M293 274h1M200 275h1M209 275h1M229 275h2M232 275h1M234 275h2M237 275h3M248 275h1M250 275h3M256 275h1M258 275h1M263 275h1M270 275h1M272 275h1M274 275h1M277 275h1M280 275h2M286 275h1M210 276h1M216 276h2M221 276h2M224 276h3M230 276h1M237 276h1M244 276h2M253 276h2M259 276h1M278 276h1M280 276h1M283 276h2M299 276h2M218 277h2M221 277h1M225 277h1M230 277h1M232 277h1M235 277h2M239 277h1M242 277h1M244 277h1M246 277h1M249 277h2M252 277h3M259 277h1M265 277h1M271 277h1M273 277h1M278 277h1M283 277h1M293 277h1M218 278h4M226 278h1M232 278h3M239 278h1M242 278h2M246 278h1M249 278h3M253 278h3M258 278h1M260 278h1M262 278h1M268 278h1M271 278h2M274 278h1M277 278h1M282 278h1M196 279h1M218 279h1M222 279h3M226 279h2M234 279h1M236 279h3M243 279h1M245 279h1M248 279h1M250 279h2M254 279h1M256 279h1M259 279h2M268 279h1M282 279h1M284 279h1M286 279h1M289 279h1M296 279h1M201 280h1M204 280h1M207 280h1M209 280h1M211 280h1M213 280h1M217 280h2M221 280h1M223 280h1M226 280h1M228 280h1M231 280h1M240 280h4M245 280h1M248 280h2M252 280h1M254 280h1M256 280h4M261 280h2M265 280h2M269 280h2M273 280h1M276 280h1M283 280h1M287 280h1M290 280h1M292 280h1M294 280h1M301 280h1M208 281h1M211 281h1M215 281h1M220 281h1M223 281h1M227 281h2M232 281h1M235 281h2M242 281h1M245 281h1M248 281h3M252 281h3M257 281h1M262 281h2M266 281h2M275 281h1M282 281h1M287 281h1M289 281h1M292 281h1M200 282h1M204 282h1M206 282h2M212 282h1M218 282h1M223 282h2M229 282h1M231 282h2M247 282h2M250 282h1M252 282h1M254 282h1M256 282h1M258 282h1M261 282h1M264 282h1M266 282h1M269 282h2M278 282h1M198 283h1M202 283h2M205 283h1M210 283h2M214 283h3M221 283h3M225 283h1M232 283h1M234 283h1M239 283h1M244 283h1M246 283h1M251 283h4M259 283h1M261 283h1M268 283h1M270 283h1M272 283h1M280 283h2M202 284h1M206 284h3M212 284h4M220 284h3M224 284h1M229 284h1M234 284h2M237 284h1M241 284h2M244 284h1M253 284h1M256 284h1M259 284h1M273 284h1M275 284h2M282 284h1M292 284h1M296 284h1M197 285h1M201 285h1M207 285h1M209 285h1M215 285h1M217 285h1M224 285h1M228 285h1M230 285h1M243 285h1M247 285h1M253 285h4M258 285h1M262 285h1M271 285h1M275 285h1M279 285h1M284 285h1M291 285h1M211 286h1M215 286h1M217 286h2M220 286h1M222 286h1M229 286h1M232 286h1M235 286h1M240 286h1M242 286h1M248 286h1M250 286h2M254 286h1M257 286h1M259 286h1M261 286h1M263 286h1M279 286h1M284 286h1M295 286h1M198 287h1M204 287h2M207 287h1M211 287h1M214 287h1M219 287h1M222 287h1M225 287h3M234 287h1M236 287h1M239 287h2M249 287h2M253 287h1M259 287h3M265 287h1M278 287h1M195 288h1M205 288h1M208 288h1M210 288h3M215 288h1M218 288h2M221 288h2M224 288h1M227 288h3M231 288h1M234 288h1M239 288h1M242 288h1M245 288h1M248 288h1M251 288h1M255 288h1M257 288h2M263 288h1M271 288h2M288 288h1M299 288h1M194 289h1M199 289h2M204 289h1M208 289h1M211 289h1M214 289h1M216 289h2M219 289h2M222 289h3M232 289h1M241 289h1M247 289h3M254 289h1M256 289h2M268 289h1M279 289h1M282 289h1M201 290h2M206 290h1M208 290h3M213 290h1M216 290h1M218 290h1M229 290h2M232 290h1M239 290h2M246 290h2M252 290h1M254 290h2M281 290h2M212 291h4M218 291h1M223 291h1M228 291h1M232 291h1M234 291h1M236 291h1M241 291h3M247 291h1M249 291h1M251 291h1M253 291h2M261 291h1M294 291h1M204 292h1M210 292h3M216 292h2M224 292h2M228 292h1M231 292h1M243 292h1M248 292h1M250 292h1M253 292h1M260 292h1M274 292h1M194 293h1M199 293h1M203 293h2M206 293h1M212 293h1M215 293h1M219 293h1M221 293h1M232 293h2M240 293h1M243 293h1M246 293h1M251 293h1M253 293h2M259 293h1M262 293h1M199 294h1M201 294h1M206 294h1M210 294h1M212 294h3M224 294h1M236 294h1M244 294h1M246 294h1M249 294h2M253 294h2M256 294h1M258 294h1M262 294h1M194 295h1M200 295h1M202 295h1M210 295h1M213 295h1M215 295h1M218 295h1M220 295h1M234 295h2M237 295h1M245 295h4M252 295h1M259 295h1M269 295h1M200 296h1M202 296h1M204 296h1M207 296h1M212 296h2M217 296h1M220 296h1M226 296h1M231 296h1M239 296h1M241 296h1M248 296h2M251 296h2M254 296h2M261 296h1M297 296h1M202 297h1M204 297h1M209 297h1M213 297h4M238 297h1M244 297h2M247 297h1M249 297h4M255 297h4M260 297h1M195 298h1M202 298h1M204 298h1M206 298h2M211 298h1M214 298h1M216 298h2M230 298h1M234 298h1M240 298h1M245 298h2M255 298h1M271 298h1M301 298h1M195 299h1M200 299h1M207 299h1M209 299h1M213 299h1M224 299h1M229 299h1M240 299h1M244 299h2M249 299h1M251 299h1M253 299h3M262 299h1M204 300h2M208 300h1M214 300h1M216 300h1M218 300h1M220 300h1M231 300h1M239 300h2M247 300h2M251 300h3M256 300h1M260 300h1M194 301h1M198 301h1M203 301h1M206 301h2M209 301h2M213 301h2M216 301h1M220 301h1M227 301h1M232 301h1M238 301h2M247 301h1M250 301h1M252 301h2M256 301h1M259 301h1M195 302h1M201 302h1M207 302h2M211 302h1M213 302h1M217 302h2M223 302h3M229 302h1M235 302h1M237 302h1M244 302h1M248 302h2M251 302h1M254 302h1M256 302h1M259 302h1M262 302h1M198 303h1M201 303h1M204 303h2M208 303h2M215 303h1M223 303h2M238 303h2M252 303h2M255 303h1M262 303h1M204 304h2M212 304h1M214 304h2M217 304h1M219 304h1M222 304h2M228 304h1M232 304h1M240 304h1M243 304h1M245 304h1M248 304h2M251 304h1M253 304h2M256 304h1M285 304h1M198 305h3M203 305h1M205 305h1M207 305h2M214 305h1M226 305h1M241 305h1M246 305h1M248 305h1M250 305h1M252 305h3M256 305h1M261 305h1M211 306h1M213 306h1M217 306h1M219 306h1M224 306h2M236 306h1M240 306h1M242 306h1M244 306h1M246 306h1M249 306h1M252 306h1M260 306h1M271 306h1M300 306h1M200 307h2M205 307h2M208 307h1M210 307h2M218 307h2M221 307h2M231 307h1M237 307h1M243 307h2M249 307h2M252 307h1M254 307h1M263 307h2M299 307h1M196 308h1M198 308h2M201 308h2M208 308h2M212 308h3M216 308h1M220 308h1M223 308h1M238 308h1M245 308h2M250 308h1M252 308h2M256 308h1M258 308h1M260 308h2M267 308h1M195 309h1M199 309h3M204 309h1M212 309h2M215 309h2M218 309h3M222 309h1M236 309h1M238 309h1M241 309h1M243 309h1M251 309h1M253 309h1M256 309h1M200 310h1M203 310h3M208 310h1M210 310h1M212 310h4M217 310h1M221 310h1M229 310h1M232 310h1M237 310h1M239 310h3M243 310h1M249 310h1M251 310h1M201 311h1M207 311h1M214 311h1M217 311h1M219 311h2M225 311h1M230 311h1M235 311h1M240 311h1M242 311h1M245 311h2M248 311h2M270 311h1M273 311h1M203 312h2M213 312h1M216 312h3M223 312h2M228 312h1M233 312h1M235 312h1M238 312h1M242 312h1M244 312h2M247 312h3M251 312h2M255 312h1M257 312h1M265 312h1M273 312h1M195 313h1M202 313h1M204 313h1M206 313h5M212 313h1M214 313h1M217 313h5M223 313h3M235 313h2M238 313h2M244 313h3M250 313h2M254 313h2M282 313h1M199 314h1M211 314h3M218 314h2M221 314h1M223 314h1M226 314h1M238 314h1M241 314h1M244 314h1M246 314h2M253 314h1M258 314h1M262 314h1M279 314h1M201 315h1M204 315h2M213 315h2M220 315h1M224 315h1M226 315h1M234 315h1M236 315h2M241 315h1M243 315h3M247 315h1M249 315h2M255 315h1M261 315h1M270 315h1M208 316h1M213 316h1M215 316h1M217 316h1M219 316h1M221 316h3M225 316h1M229 316h1M235 316h1M238 316h1M240 316h2M252 316h1M254 316h2M259 316h1M268 316h1M199 317h2M203 317h1M209 317h1M211 317h1M214 317h1M217 317h3M221 317h2M224 317h5M233 317h1M235 317h1M241 317h1M243 317h3M247 317h1M251 317h1M253 317h1M262 317h1M273 317h1M207 318h1M219 318h4M225 318h1M228 318h1M231 318h2M235 318h2M239 318h2M247 318h1M252 318h1M254 318h1M257 318h1M202 319h1M207 319h1M219 319h3M223 319h1M227 319h1M229 319h1M231 319h2M238 319h1M240 319h2M246 319h1M249 319h1M251 319h1M253 319h1M257 319h3M201 320h1M203 320h1M205 320h1M208 320h1M214 320h1M223 320h1M227 320h1M230 320h3M235 320h2M239 320h1M244 320h1M247 320h2M250 320h1M256 320h1M264 320h1M278 320h1M195 321h1M203 321h1M210 321h1M212 321h1M215 321h2M219 321h2M222 321h2M228 321h2M231 321h1M233 321h1M235 321h1M237 321h5M243 321h1M245 321h2M248 321h1M251 321h2M201 322h1M215 322h1M217 322h1M219 322h3M224 322h1M226 322h1M231 322h1M236 322h2M241 322h2M247 322h2M251 322h1M255 322h3M204 323h1M213 323h1M219 323h1M222 323h1M224 323h1M226 323h1M230 323h1M232 323h2M237 323h1M239 323h1M242 323h2M246 323h1M249 323h2M252 323h2M213 324h1M220 324h3M228 324h1M231 324h1M234 324h1M236 324h2M242 324h1M248 324h2M251 324h1M259 324h1M199 325h2M212 325h2M217 325h4M222 325h2M225 325h3M237 325h1M240 325h2M244 325h1M250 325h2M254 325h2M202 326h1M217 326h1M220 326h3M225 326h1M228 326h1M231 326h1M233 326h1M236 326h2M241 326h2M248 326h1M255 326h1M257 326h1M260 326h1M265 326h1M218 327h1M221 327h2M225 327h1M227 327h1M229 327h4M234 327h1M238 327h1M240 327h1M242 327h1M244 327h1M249 327h1M258 327h1M276 327h1M202 328h1M208 328h1M213 328h1M218 328h1M220 328h1M228 328h2M232 328h4M238 328h1M242 328h2M254 328h1M199 329h1M206 329h1M211 329h1M215 329h3M226 329h1M229 329h4M238 329h3M242 329h1M262 329h1M301 329h1M199 330h1M212 330h1M216 330h1M218 330h1M220 330h1M228 330h3M234 330h1M242 330h1M247 330h1M250 330h1M255 330h1M295 330h1M216 331h2M223 331h1M225 331h1M229 331h2M232 331h1M240 331h1M245 331h1M253 331h1M197 332h1M209 332h1M215 332h1M221 332h2M229 332h3M235 332h1M239 332h2M254 332h1M258 332h1M213 333h1M215 333h1M226 333h1M231 333h1M233 333h1M236 333h1M238 333h1M263 333h1M295 333h1M209 334h1M222 334h1M224 334h1M234 334h1M240 334h1M248 334h1M262 334h1M274 334h1M199 335h1M207 335h1M229 335h1M235 335h3M242 335h1M252 335h1M256 335h1M259 335h1M207 336h1M219 336h1M226 336h1M236 336h1M239 336h1M263 336h1M210 337h2M226 337h1M237 337h1M240 337h2M253 337h1M209 338h1M227 338h1M229 338h1M234 338h1M244 338h1M246 338h1M249 338h1M284 338h1M199 339h1M217 339h1M222 339h2M228 339h1M231 339h1M236 339h1M249 339h1M213 340h2M222 340h1M235 340h1M237 340h1M256 340h1M236 341h1M210 342h1M235 342h1M247 342h1M249 342h1M203 343h2M208 343h1" stroke="#7c7c7c" stroke-width="1" fill="none" transform="translate(0,0.5)" shape-rendering="crispEdges"/><path d="M274 264h1M218 270h1M233 270h1M236 270h1M280 270h1M215 272h1M230 272h1M235 272h1M244 272h1M240 274h1M242 274h3M262 274h1M214 275h1M222 275h1M225 275h1M228 275h1M231 275h1M241 275h1M243 275h2M211 276h1M229 276h1M233 276h1M240 276h2M249 276h1M257 276h1M222 277h1M231 277h1M233 277h1M237 277h1M241 277h1M245 277h1M247 277h1M223 278h1M237 278h1M240 278h1M256 278h1M212 279h1M225 279h1M230 279h3M240 279h1M244 279h1M246 279h1M257 279h1M219 280h1M222 280h1M227 280h1M230 280h1M235 280h1M237 280h2M247 280h1M251 280h1M253 280h1M268 280h1M277 280h1M222 281h1M224 281h3M229 281h2M237 281h1M240 281h2M243 281h2M246 281h1M251 281h1M225 282h1M227 282h2M233 282h2M238 282h1M241 282h1M244 282h2M251 282h1M255 282h1M224 283h1M226 283h1M228 283h1M230 283h1M237 283h1M240 283h2M245 283h1M248 283h1M250 283h1M277 283h1M285 283h1M211 284h1M225 284h2M231 284h1M236 284h1M243 284h1M245 284h2M248 284h5M255 284h1M261 284h1M267 284h1M270 284h1M202 285h1M214 285h1M218 285h1M226 285h2M231 285h1M233 285h1M235 285h1M237 285h2M241 285h1M246 285h1M249 285h1M251 285h2M261 285h1M207 286h1M216 286h1M224 286h3M228 286h1M231 286h1M234 286h1M236 286h1M241 286h1M244 286h1M246 286h2M249 286h1M258 286h1M210 287h1M216 287h1M224 287h1M228 287h1M231 287h2M241 287h1M245 287h1M247 287h1M251 287h1M254 287h1M256 287h1M203 288h1M214 288h1M216 288h1M220 288h1M233 288h1M240 288h1M243 288h2M249 288h1M252 288h2M256 288h1M226 289h1M228 289h1M230 289h1M238 289h1M243 289h1M245 289h1M250 289h1M265 289h1M199 290h1M214 290h1M217 290h1M219 290h2M222 290h1M224 290h2M228 290h1M235 290h4M241 290h5M250 290h1M205 291h1M222 291h1M224 291h1M227 291h1M231 291h1M235 291h1M238 291h3M244 291h2M248 291h1M252 291h1M206 292h1M208 292h1M213 292h1M218 292h2M221 292h1M223 292h1M226 292h1M229 292h1M237 292h6M244 292h1M246 292h2M251 292h2M255 292h1M220 293h1M227 293h3M237 293h1M241 293h2M244 293h1M248 293h2M252 293h1M205 294h1M219 294h2M222 294h2M227 294h3M232 294h1M234 294h1M238 294h1M245 294h1M247 294h2M252 294h1M199 295h1M212 295h1M216 295h1M221 295h2M225 295h1M227 295h2M231 295h1M239 295h2M244 295h1M203 296h1M215 296h2M218 296h1M222 296h1M227 296h1M229 296h1M235 296h1M238 296h1M240 296h1M243 296h1M246 296h1M250 296h1M256 296h1M207 297h1M211 297h1M219 297h1M221 297h1M223 297h1M225 297h1M228 297h1M235 297h3M239 297h1M241 297h1M246 297h1M248 297h1M209 298h2M213 298h1M221 298h1M225 298h1M227 298h1M229 298h1M231 298h1M238 298h2M243 298h1M248 298h1M251 298h1M208 299h1M214 299h1M216 299h1M219 299h2M222 299h1M225 299h3M230 299h1M232 299h2M235 299h1M239 299h1M242 299h1M248 299h1M207 300h1M210 300h3M215 300h1M217 300h1M219 300h1M222 300h3M227 300h1M233 300h3M237 300h2M243 300h1M250 300h1M208 301h1M215 301h1M217 301h3M221 301h1M223 301h2M226 301h1M228 301h2M233 301h4M240 301h1M242 301h4M248 301h1M257 301h1M205 302h2M209 302h1M216 302h1M221 302h1M226 302h2M230 302h1M238 302h1M242 302h2M247 302h1M206 303h2M210 303h1M213 303h2M219 303h1M225 303h1M228 303h3M232 303h1M234 303h1M236 303h1M240 303h1M242 303h1M245 303h1M248 303h1M250 303h1M254 303h1M206 304h1M208 304h2M218 304h1M221 304h1M225 304h2M230 304h1M233 304h1M235 304h2M238 304h2M241 304h1M258 304h1M206 305h1M211 305h1M215 305h2M218 305h1M221 305h3M225 305h1M227 305h2M231 305h1M237 305h1M239 305h2M242 305h4M251 305h1M258 305h1M202 306h1M204 306h1M212 306h1M214 306h2M218 306h1M220 306h1M228 306h2M232 306h1M234 306h1M238 306h1M241 306h1M247 306h2M265 306h1M212 307h2M215 307h3M223 307h2M228 307h1M235 307h1M239 307h4M246 307h2M211 308h1M215 308h1M219 308h1M226 308h1M232 308h3M240 308h1M242 308h1M244 308h1M248 308h1M202 309h1M211 309h1M223 309h1M226 309h1M228 309h1M235 309h1M237 309h1M240 309h1M247 309h1M218 310h1M223 310h2M228 310h1M230 310h1M234 310h1M236 310h1M242 310h1M244 310h1M250 310h1M215 311h1M228 311h2M234 311h1M237 311h2M241 311h1M243 311h2M247 311h1M210 312h1M219 312h3M225 312h3M229 312h1M231 312h2M234 312h1M236 312h2M239 312h3M199 313h1M205 313h1M215 313h1M226 313h5M232 313h1M234 313h1M237 313h1M243 313h1M247 313h1M249 313h1M216 314h1M220 314h1M222 314h1M230 314h1M232 314h2M235 314h1M237 314h1M242 314h2M208 315h1M219 315h1M221 315h1M228 315h1M232 315h2M238 315h2M242 315h1M248 315h1M216 316h1M230 316h1M232 316h1M239 316h1M243 316h2M249 316h1M256 316h1M213 317h1M232 317h1M238 317h2M242 317h1M248 317h1M255 317h1M223 318h2M227 318h1M229 318h1M233 318h2M237 318h1M241 318h1M246 318h1M222 319h1M228 319h1M230 319h1M233 319h4M242 319h2M219 320h1M221 320h2M224 320h1M228 320h1M234 320h1M240 320h1M245 320h1M217 321h1M224 321h2M234 321h1M236 321h1M247 321h1M218 322h1M227 322h1M229 322h2M232 322h2M238 322h2M244 322h1M220 323h2M225 323h1M227 323h2M238 323h1M241 323h1M217 324h1M229 324h1M232 324h1M239 324h1M224 325h1M234 325h2M224 326h1M229 326h2M239 326h1M209 327h1M239 327h1M216 328h1M225 328h2M231 328h1M239 328h1M226 330h2M239 330h1M219 331h1M231 331h1M236 331h1M243 331h1M205 336h1M231 336h1M230 337h1M246 337h1M247 340h1" stroke="#404040" stroke-width="1" fill="none" transform="translate(0,0.5)" shape-rendering="crispEdges"/><path d="M246 275h1M239 276h1M242 276h1M246 276h1M234 277h1M238 277h1M235 278h1M238 278h1M247 278h1M229 279h1M235 279h1M241 279h2M236 280h1M246 280h1M233 281h1M247 281h1M221 282h1M230 282h1M235 282h1M239 282h2M243 282h1M246 282h1M249 282h1M229 283h1M233 283h1M238 283h1M242 283h2M247 283h1M210 284h1M233 284h1M238 284h2M220 285h1M232 285h1M242 285h1M245 285h1M248 285h1M230 286h1M233 286h1M239 286h1M245 286h1M253 286h1M221 287h1M223 287h1M229 287h2M233 287h1M235 287h1M244 287h1M246 287h1M235 288h4M241 288h1M246 288h1M221 289h1M229 289h1M231 289h1M234 289h4M239 289h2M244 289h1M251 289h2M203 290h1M233 290h2M248 290h1M251 290h1M216 291h1M219 291h1M221 291h1M225 291h2M230 291h1M237 291h1M222 292h1M227 292h1M230 292h1M232 292h1M234 292h2M245 292h1M249 292h1M216 293h1M224 293h2M231 293h1M235 293h2M238 293h2M245 293h1M202 294h1M216 294h2M225 294h2M231 294h1M233 294h1M235 294h1M237 294h1M239 294h5M219 295h1M224 295h1M230 295h1M233 295h1M236 295h1M238 295h1M241 295h1M243 295h1M250 295h2M254 295h1M221 296h1M223 296h3M228 296h1M230 296h1M232 296h3M236 296h1M244 296h2M218 297h1M220 297h1M222 297h1M224 297h1M227 297h1M230 297h3M234 297h1M240 297h1M243 297h1M199 298h1M215 298h1M220 298h1M222 298h1M232 298h2M235 298h2M241 298h2M244 298h1M249 298h1M215 299h1M217 299h1M223 299h1M228 299h1M234 299h1M236 299h1M243 299h1M247 299h1M225 300h1M228 300h2M232 300h1M236 300h1M242 300h1M245 300h2M225 301h1M230 301h1M246 301h1M215 302h1M219 302h2M222 302h1M228 302h1M232 302h3M236 302h1M239 302h2M218 303h1M220 303h2M226 303h2M231 303h1M233 303h1M237 303h1M243 303h2M203 304h1M220 304h1M224 304h1M227 304h1M229 304h1M244 304h1M220 305h1M224 305h1M229 305h1M232 305h5M216 306h1M221 306h1M223 306h1M226 306h2M230 306h1M233 306h1M235 306h1M237 306h1M243 306h1M250 306h1M220 307h1M225 307h1M229 307h1M232 307h3M245 307h1M222 308h1M224 308h2M227 308h5M236 308h2M239 308h1M241 308h1M243 308h1M247 308h1M227 309h1M230 309h4M239 309h1M244 309h1M220 310h1M222 310h1M225 310h3M233 310h1M235 310h1M245 310h1M221 311h1M223 311h1M226 311h2M231 311h1M233 311h1M239 311h1M230 312h1M222 313h1M233 313h1M240 313h3M224 314h2M227 314h3M231 314h1M240 314h1M217 315h1M225 315h1M229 315h1M231 315h1M235 315h1M224 316h1M227 316h2M233 316h2M250 316h1M230 317h2M234 317h1M240 317h1M230 318h1M215 319h1M226 319h1M237 319h1M245 319h1M225 320h2M242 320h1M225 322h1M243 322h1M218 324h1M227 324h1M235 324h1M236 327h1M236 329h1" stroke="#1c1c1c" stroke-width="1" fill="none" transform="translate(0,0.5)" shape-rendering="crispEdges"/><path d="M239 279h1M252 279h1M233 280h1M239 280h1M234 281h1M239 281h1M236 282h1M231 283h1M235 283h2M228 284h1M240 284h1M236 285h1M240 285h1M244 285h1M250 285h1M237 286h2M252 286h1M238 287h1M242 287h2M230 288h1M227 289h1M233 289h1M227 290h1M231 290h1M229 291h1M233 291h1M233 292h1M236 292h1M221 294h1M230 294h1M226 295h1M229 295h1M232 295h1M237 296h1M229 297h1M233 297h1M218 298h2M223 298h2M226 298h1M228 298h1M237 298h1M221 299h1M231 299h1M237 299h2M230 300h1M241 300h1M222 301h1M231 301h1M241 301h1M231 302h1M222 303h1M235 303h1M241 303h1M231 304h1M234 304h1M242 304h1M219 305h1M230 305h1M222 306h1M231 306h1M239 306h1M226 307h2M230 307h1M236 307h1M238 307h1M235 308h1M225 309h1M229 309h1M234 309h1M242 309h1M231 310h1M238 310h1M222 311h1M224 311h1M243 312h1M234 314h1M227 315h1M229 317h1" stroke="#000000" stroke-width="1" fill="none" transform="translate(0,0.5)" shape-rendering="crispEdges"/>
<path d="M424 240h1M407 243h1M411 243h1M396 245h1M389 247h1M411 248h1M370 249h1M387 250h1M366 251h1M398 251h1M358 252h1M381 252h1M367 253h1M369 253h1M358 255h1M363 255h1M331 256h1M341 256h1M374 256h1M379 256h1M381 256h1M403 256h1M370 257h1M374 257h2M378 257h1M382 257h1M384 257h1M386 257h1M393 257h1M396 257h1M362 258h1M364 258h1M367 258h1M371 258h1M373 258h1M376 258h1M381 258h1M385 258h1M387 258h1M390 258h1M392 258h2M349 259h1M354 259h1M361 259h1M363 259h1M367 259h1M369 259h1M371 259h1M373 259h1M375 259h1M378 259h1M380 259h1M383 259h1M388 259h1M341 260h1M345 260h2M350 260h1M357 260h1M359 260h1M361 260h2M368 260h3M373 260h8M382 260h1M388 260h2M433 260h1M340 261h1M347 261h1M356 261h1M363 261h1M365 261h2M375 261h3M379 261h1M381 261h2M385 261h1M389 261h1M397 261h1M399 261h1M408 261h1M345 262h1M350 262h1M352 262h2M355 262h2M360 262h1M364 262h1M367 262h1M370 262h2M373 262h2M377 262h1M385 262h1M387 262h1M399 262h1M351 263h1M355 263h1M357 263h1M360 263h1M364 263h4M371 263h2M374 263h1M377 263h1M380 263h1M385 263h1M389 263h1M391 263h1M397 263h1M401 263h1M349 264h3M354 264h1M356 264h1M362 264h1M366 264h1M374 264h2M380 264h1M382 264h1M385 264h2M414 264h1M354 265h1M358 265h2M361 265h2M365 265h1M367 265h1M374 265h1M377 265h1M386 265h1M391 265h1M393 265h1M399 265h1M406 265h1M349 266h1M351 266h1M354 266h2M358 266h1M360 266h2M368 266h1M374 266h1M376 266h2M384 266h1M390 266h1M393 266h1M396 266h1M402 266h1M404 266h1M435 266h1M339 267h2M342 267h1M347 267h1M349 267h1M354 267h1M356 267h1M359 267h1M363 267h1M365 267h1M367 267h2M374 267h1M377 267h1M382 267h2M387 267h7M395 267h2M405 267h1M411 267h1M339 268h1M348 268h2M351 268h1M353 268h1M358 268h3M363 268h1M366 268h1M378 268h1M380 268h2M388 268h1M391 268h2M396 268h1M402 268h1M336 269h1M342 269h1M350 269h1M353 269h1M356 269h3M360 269h1M363 269h1M380 269h1M382 269h1M388 269h1M390 269h1M393 269h2M397 269h2M340 270h1M350 270h1M361 270h1M363 270h1M385 270h1M387 270h1M391 270h1M393 270h2M397 270h2M432 270h1M337 271h1M348 271h6M355 271h1M358 271h1M361 271h1M373 271h1M376 271h1M380 271h1M383 271h1M386 271h3M390 271h2M397 271h1M399 271h1M402 271h1M351 272h1M353 272h1M355 272h1M359 272h1M361 272h1M365 272h1M367 272h1M381 272h1M384 272h2M389 272h1M391 272h2M396 272h2M337 273h1M368 273h4M377 273h1M383 273h2M388 273h2M391 273h1M393 273h1M396 273h1M406 273h1M339 274h1M345 274h2M348 274h1M352 274h2M355 274h2M358 274h1M366 274h2M370 274h1M379 274h1M381 274h2M385 274h1M387 274h2M393 274h2M399 274h1M333 275h1M346 275h2M350 275h1M352 275h1M354 275h1M358 275h1M360 275h1M373 275h1M377 275h1M381 275h1M384 275h1M386 275h2M389 275h1M391 275h1M396 275h1M399 275h1M408 275h1M335 276h1M340 276h2M344 276h1M346 276h1M357 276h1M361 276h1M363 276h1M366 276h1M370 276h1M374 276h4M380 276h4M389 276h1M395 276h2M401 276h1M336 277h1M341 277h1M348 277h1M350 277h1M352 277h1M356 277h1M358 277h1M360 277h1M362 277h3M369 277h2M373 277h4M378 277h1M384 277h1M386 277h1M388 277h2M391 277h1M393 277h1M409 277h1M338 278h1M347 278h2M350 278h2M361 278h2M364 278h4M371 278h1M373 278h1M375 278h1M379 278h1M383 278h1M385 278h1M389 278h1M391 278h1M394 278h1M397 278h1M418 278h1M336 279h1M339 279h2M349 279h1M355 279h1M361 279h5M367 279h3M373 279h3M377 279h1M381 279h1M385 279h1M390 279h1M402 279h1M410 279h1M337 280h1M341 280h1M348 280h1M351 280h1M364 280h1M382 280h1M384 280h4M405 280h1M425 280h1M435 280h1M348 281h1M352 281h2M355 281h1M358 281h1M360 281h1M365 281h1M367 281h1M369 281h1M372 281h1M380 281h3M384 281h2M388 281h1M390 281h1M395 281h1M397 281h3M402 281h1M340 282h1M348 282h2M352 282h1M374 282h1M378 282h1M380 282h1M382 282h3M343 283h1M345 283h1M349 283h1M354 283h1M357 283h1M359 283h1M372 283h1M374 283h1M377 283h1M381 283h1M383 283h1M387 283h1M393 283h2M398 283h1M404 283h1M337 284h1M342 284h1M344 284h1M353 284h1M361 284h1M365 284h1M367 284h1M376 284h1M378 284h1M384 284h2M392 284h1M406 284h1M356 285h1M363 285h2M369 285h1M374 285h1M383 285h1M385 285h1M391 285h1M333 286h1M358 286h1M361 286h1M369 286h1M384 286h1M396 286h1M406 286h1M337 287h1M343 287h1M352 287h1M367 287h1M370 287h1M380 287h1M382 287h1M387 287h2M392 287h1M397 287h1M401 287h1M335 288h1M343 288h1M352 288h1M356 288h1M370 288h1M387 288h1M390 288h2M403 288h2M435 288h1M342 289h1M344 289h3M349 289h1M373 289h1M388 289h2M341 290h1M355 290h1M360 290h1M365 290h2M368 290h1M379 290h1M389 290h1M398 290h1M402 290h1M407 290h1M345 291h1M350 291h1M353 291h1M365 291h1M367 291h1M371 291h1M386 291h1M389 291h1M396 291h1M404 291h1M350 292h1M359 292h1M368 292h1M378 292h2M381 292h1M386 292h1M388 292h1M393 292h1M398 292h1M402 292h1M346 293h2M359 293h2M362 293h1M375 293h1M388 293h2M393 293h1M396 293h1M398 293h1M400 293h1M402 293h1M406 293h1M413 293h1M340 294h1M358 294h3M363 294h1M379 294h1M387 294h1M394 294h3M405 294h1M342 295h1M348 295h1M351 295h1M354 295h1M362 295h1M366 295h1M378 295h1M381 295h1M386 295h1M389 295h1M391 295h2M397 295h5M404 295h1M347 296h1M359 296h1M362 296h2M366 296h2M369 296h1M371 296h1M378 296h1M383 296h1M389 296h1M391 296h2M396 296h2M401 296h1M348 297h1M352 297h1M355 297h1M360 297h1M362 297h1M367 297h1M369 297h1M374 297h1M380 297h1M382 297h2M387 297h1M394 297h2M412 297h1M346 298h1M349 298h2M357 298h1M362 298h2M370 298h1M377 298h1M380 298h1M387 298h1M389 298h2M392 298h2M398 298h1M400 298h1M404 298h1M408 298h1M344 299h1M346 299h2M351 299h1M354 299h1M356 299h1M358 299h2M361 299h1M363 299h3M367 299h1M370 299h1M377 299h1M379 299h1M381 299h2M393 299h1M399 299h1M401 299h1M408 299h1M343 300h1M345 300h1M348 300h1M352 300h2M355 300h1M360 300h1M374 300h2M377 300h1M381 300h1M384 300h1M386 300h1M393 300h1M401 300h1M424 300h1M345 301h1M347 301h2M351 301h2M355 301h1M357 301h1M364 301h1M376 301h1M378 301h1M385 301h1M390 301h1M392 301h3M405 301h1M409 301h1M331 302h1M343 302h1M348 302h1M356 302h3M363 302h1M365 302h1M369 302h1M372 302h3M377 302h2M382 302h1M387 302h2M391 302h1M394 302h2M397 302h1M342 303h1M350 303h1M356 303h1M359 303h1M361 303h1M363 303h1M366 303h2M369 303h1M371 303h1M378 303h1M382 303h1M384 303h1M390 303h3M395 303h1M397 303h1M401 303h1M409 303h1M411 303h1M333 304h1M344 304h1M350 304h2M357 304h1M360 304h1M364 304h1M368 304h1M374 304h1M378 304h1M382 304h3M386 304h1M388 304h1M390 304h1M393 304h1M398 304h1M331 305h1M345 305h2M356 305h1M359 305h3M363 305h1M365 305h1M367 305h1M370 305h1M372 305h1M376 305h1M378 305h1M381 305h2M387 305h1M389 305h5M395 305h2M400 305h1M402 305h1M333 306h1M341 306h1M346 306h1M354 306h1M356 306h3M362 306h1M367 306h3M374 306h1M377 306h1M379 306h2M385 306h1M388 306h3M392 306h3M399 306h1M401 306h1M403 306h1M332 307h1M340 307h2M343 307h2M348 307h1M353 307h1M361 307h2M364 307h2M369 307h1M373 307h3M377 307h1M385 307h1M389 307h2M394 307h1M396 307h1M399 307h1M405 307h1M343 308h2M347 308h1M351 308h3M358 308h4M366 308h1M368 308h1M370 308h3M386 308h1M389 308h2M393 308h2M396 308h3M403 308h1M338 309h1M345 309h3M357 309h3M366 309h1M369 309h3M373 309h1M376 309h2M385 309h3M390 309h3M396 309h1M398 309h1M408 309h1M334 310h1M337 310h1M341 310h1M343 310h2M348 310h1M350 310h1M355 310h2M360 310h1M362 310h2M365 310h3M375 310h2M380 310h1M385 310h3M389 310h1M392 310h1M395 310h3M344 311h1M346 311h2M350 311h1M353 311h3M359 311h3M365 311h3M371 311h2M376 311h1M380 311h1M383 311h2M391 311h2M394 311h3M398 311h1M400 311h2M344 312h1M347 312h1M351 312h2M354 312h1M361 312h1M363 312h2M370 312h1M372 312h1M376 312h1M380 312h3M386 312h2M394 312h1M403 312h1M407 312h1M339 313h1M343 313h2M346 313h3M351 313h1M353 313h2M356 313h1M358 313h1M368 313h2M371 313h1M373 313h1M375 313h1M378 313h2M385 313h1M389 313h1M391 313h2M408 313h1M342 314h1M345 314h2M348 314h1M350 314h8M364 314h4M369 314h1M371 314h1M378 314h2M384 314h2M393 314h2M396 314h1M404 314h1M406 314h1M335 315h1M350 315h4M355 315h1M358 315h1M369 315h1M375 315h1M379 315h2M382 315h1M385 315h2M388 315h1M391 315h1M404 315h1M408 315h1M332 316h1M340 316h1M343 316h1M346 316h1M349 316h1M354 316h2M358 316h2M361 316h1M363 316h3M370 316h1M374 316h1M376 316h1M379 316h1M381 316h1M384 316h1M386 316h1M388 316h1M395 316h1M402 316h1M338 317h1M345 317h1M347 317h2M350 317h3M362 317h1M366 317h1M371 317h1M373 317h3M386 317h1M388 317h1M390 317h3M395 317h1M398 317h1M402 317h3M407 317h1M432 317h1M340 318h1M344 318h1M346 318h1M348 318h1M354 318h3M358 318h1M361 318h1M367 318h1M369 318h3M374 318h1M376 318h2M379 318h1M383 318h1M385 318h2M388 318h1M392 318h2M395 318h2M398 318h3M418 318h1M336 319h1M344 319h1M347 319h2M350 319h2M356 319h1M359 319h1M364 319h1M368 319h2M373 319h1M390 319h1M394 319h1M397 319h1M402 319h1M339 320h1M342 320h1M346 320h2M349 320h2M354 320h1M364 320h1M368 320h1M371 320h1M373 320h2M378 320h2M390 320h2M396 320h2M401 320h1M407 320h1M331 321h1M340 321h1M343 321h1M347 321h1M351 321h3M370 321h5M382 321h1M385 321h1M387 321h2M390 321h1M392 321h1M395 321h2M398 321h1M400 321h1M404 321h1M408 321h1M436 321h1M333 322h1M339 322h1M341 322h1M345 322h1M349 322h1M354 322h1M359 322h1M362 322h1M365 322h3M370 322h2M377 322h3M387 322h1M389 322h2M396 322h1M398 322h1M400 322h1M409 322h1M423 322h1M345 323h2M349 323h1M351 323h1M353 323h1M355 323h2M359 323h1M368 323h3M374 323h1M377 323h1M379 323h1M381 323h5M388 323h2M393 323h1M395 323h2M400 323h1M402 323h1M332 324h1M340 324h1M345 324h1M348 324h2M351 324h3M364 324h1M367 324h2M371 324h1M374 324h1M378 324h1M381 324h2M385 324h3M393 324h1M402 324h1M408 324h1M334 325h1M342 325h1M348 325h1M352 325h1M356 325h1M360 325h1M362 325h2M367 325h1M371 325h1M377 325h5M387 325h1M390 325h1M392 325h1M395 325h1M397 325h1M345 326h3M351 326h1M353 326h1M356 326h1M366 326h1M369 326h2M374 326h4M379 326h1M381 326h1M383 326h1M387 326h1M393 326h1M397 326h2M400 326h1M403 326h1M333 327h1M336 327h1M345 327h4M352 327h1M355 327h1M359 327h2M364 327h2M367 327h1M369 327h2M372 327h1M376 327h4M383 327h1M386 327h1M389 327h4M396 327h1M333 328h1M344 328h1M346 328h1M352 328h1M354 328h2M364 328h1M371 328h1M375 328h3M381 328h2M386 328h2M393 328h3M398 328h1M400 328h1M402 328h2M337 329h1M343 329h2M347 329h1M351 329h1M353 329h1M358 329h1M368 329h1M370 329h1M373 329h1M378 329h2M381 329h1M386 329h1M388 329h1M393 329h1M395 329h1M397 329h1M402 329h1M406 329h1M414 329h1M333 330h1M338 330h1M340 330h2M345 330h1M352 330h2M355 330h2M360 330h1M363 330h1M371 330h4M376 330h1M379 330h1M385 330h1M387 330h1M390 330h1M394 330h1M396 330h2M399 330h1M403 330h2M407 330h1M420 330h1M332 331h1M349 331h1M352 331h2M356 331h1M358 331h1M360 331h2M363 331h1M365 331h1M369 331h2M372 331h1M374 331h1M376 331h1M381 331h3M386 331h1M389 331h1M391 331h2M394 331h2M397 331h1M400 331h1M337 332h1M347 332h1M349 332h3M357 332h1M359 332h2M362 332h3M366 332h2M370 332h1M374 332h1M381 332h1M386 332h1M392 332h1M398 332h1M331 333h2M342 333h1M352 333h1M355 333h2M362 333h3M373 333h1M375 333h1M380 333h1M387 333h1M389 333h2M392 333h1M394 333h2M406 333h1M347 334h2M353 334h1M360 334h4M365 334h4M370 334h2M374 334h1M376 334h1M378 334h1M380 334h1M386 334h1M393 334h1M399 334h1M422 334h1M346 335h3M352 335h1M355 335h1M357 335h2M360 335h2M363 335h4M369 335h2M373 335h1M377 335h1M379 335h1M385 335h2M389 335h2M393 335h1M399 335h2M403 335h2M428 335h1M333 336h1M339 336h2M342 336h2M347 336h1M357 336h3M364 336h1M366 336h1M369 336h2M374 336h1M379 336h1M381 336h1M389 336h2M392 336h1M395 336h2M399 336h3M403 336h2M334 337h1M336 337h1M346 337h1M350 337h4M358 337h1M360 337h1M362 337h1M366 337h1M368 337h1M375 337h1M380 337h1M382 337h1M390 337h1M393 337h1M395 337h1M398 337h3M403 337h1M339 338h1M345 338h1M350 338h2M353 338h2M357 338h1M359 338h5M365 338h2M382 338h1M384 338h1M390 338h1M397 338h1M336 339h1M352 339h2M356 339h2M359 339h2M362 339h1M364 339h1M366 339h3M371 339h1M382 339h1M384 339h1M387 339h1M389 339h1M394 339h1M400 339h1M414 339h1M424 339h1M336 340h1M341 340h1M348 340h2M356 340h4M361 340h2M365 340h1M367 340h1M369 340h1M372 340h2M377 340h1M379 340h1M381 340h1M384 340h1M386 340h1M392 340h3M399 340h1M403 340h2M410 340h1M428 340h1M342 341h1M349 341h1M358 341h1M360 341h2M365 341h3M370 341h2M373 341h1M386 341h1M388 341h1M390 341h1M393 341h1M400 341h1M340 342h1M353 342h1M358 342h1M360 342h1M362 342h1M367 342h1M372 342h1M377 342h4M382 342h1M384 342h2M388 342h1M391 342h2M398 342h1M401 342h1M343 343h1M351 343h1M363 343h1M368 343h1M373 343h2M381 343h3M388 343h2M394 343h2" stroke="#7c7c7c" stroke-width="1" fill="none" transform="translate(0,0.5)" shape-rendering="crispEdges"/><path d="M378 256h1M368 258h1M386 258h1M362 259h1M370 259h1M385 259h1M355 260h1M366 260h1M371 260h1M352 261h1M364 261h1M368 261h2M372 261h1M378 261h1M384 261h1M359 262h1M365 262h2M368 262h1M375 262h2M378 262h3M382 262h1M391 262h1M356 263h1M358 263h1M362 263h1M373 263h1M386 263h2M359 264h1M361 264h1M363 264h3M371 264h1M376 264h4M381 264h1M383 264h1M395 264h1M357 265h1M360 265h1M363 265h1M368 265h3M375 265h2M379 265h2M382 265h1M385 265h1M388 265h1M390 265h1M362 266h2M365 266h2M371 266h3M379 266h1M381 266h1M383 266h1M389 266h1M391 266h1M400 266h1M336 267h1M362 267h1M364 267h1M366 267h1M369 267h1M384 267h1M386 267h1M350 268h1M355 268h1M361 268h2M365 268h1M368 268h2M372 268h2M376 268h1M385 268h3M359 269h1M361 269h2M366 269h2M370 269h1M373 269h1M375 269h1M381 269h1M383 269h2M387 269h1M357 270h1M359 270h2M362 270h1M366 270h1M370 270h1M376 270h2M380 270h1M384 270h1M386 270h1M389 270h1M392 270h1M399 270h1M356 271h1M359 271h1M362 271h1M364 271h1M367 271h2M370 271h3M374 271h2M377 271h2M384 271h2M389 271h1M392 271h1M345 272h1M348 272h1M354 272h1M356 272h1M358 272h1M360 272h1M362 272h1M366 272h1M368 272h2M372 272h2M375 272h2M378 272h2M382 272h2M388 272h1M349 273h2M353 273h1M356 273h2M360 273h1M362 273h2M365 273h3M373 273h1M375 273h1M379 273h2M385 273h1M387 273h1M392 273h1M351 274h1M357 274h1M368 274h1M371 274h1M373 274h3M383 274h2M386 274h1M345 275h1M353 275h1M359 275h1M361 275h1M363 275h1M365 275h2M370 275h2M374 275h3M378 275h3M388 275h1M355 276h2M358 276h1M367 276h1M371 276h3M379 276h1M385 276h1M342 277h1M365 277h1M368 277h1M371 277h2M380 277h2M358 278h1M363 278h1M369 278h1M381 278h1M371 279h1M379 279h1M367 280h1M381 280h1M394 280h1M377 281h2M363 283h1M392 283h1M367 285h1M392 285h1M356 286h1M372 286h1M385 287h1M378 288h1M354 292h1M357 293h1M368 293h1M372 293h1M391 293h1M344 294h1M383 295h1M358 296h1M364 296h1M361 297h1M392 297h1M351 298h1M361 298h1M369 298h1M362 299h1M358 300h1M389 300h1M354 301h1M367 301h2M371 301h1M401 301h1M346 302h1M359 302h1M364 302h1M368 302h1M392 302h1M399 302h1M401 302h1M358 303h1M396 303h1M352 304h2M358 304h2M361 304h1M363 304h1M371 304h1M375 304h1M389 304h1M355 305h1M358 305h1M362 305h1M352 306h1M363 306h2M352 307h1M354 307h1M356 307h2M359 307h1M368 307h1M371 307h1M388 307h1M350 308h1M354 308h1M356 308h1M367 308h1M354 309h2M360 309h1M362 309h2M368 309h1M380 309h1M402 309h1M351 310h1M361 310h1M368 310h1M372 310h1M394 310h1M351 311h1M356 311h1M368 311h1M370 311h1M377 311h1M349 312h2M353 312h1M356 312h4M362 312h1M375 312h1M383 312h1M391 312h1M395 312h1M352 313h1M355 313h1M357 313h1M360 313h3M364 313h3M372 313h1M386 313h2M393 313h3M359 314h1M361 314h1M370 314h1M375 314h2M386 314h1M388 314h4M398 314h2M405 314h1M345 315h1M347 315h1M356 315h2M361 315h2M366 315h2M370 315h2M376 315h1M396 315h1M347 316h1M352 316h1M356 316h1M360 316h1M366 316h1M368 316h1M378 316h1M387 316h1M392 316h1M399 316h1M349 317h1M353 317h2M356 317h1M358 317h1M360 317h2M363 317h3M368 317h1M370 317h1M378 317h1M381 317h1M387 317h1M343 318h1M350 318h2M357 318h1M359 318h1M364 318h1M372 318h1M381 318h1M397 318h1M352 319h1M354 319h2M358 319h1M361 319h2M365 319h3M370 319h1M372 319h1M376 319h2M385 319h1M387 319h2M392 319h1M344 320h1M351 320h2M356 320h3M360 320h1M363 320h1M366 320h1M376 320h1M384 320h1M388 320h2M348 321h1M356 321h1M362 321h1M365 321h3M377 321h1M386 321h1M391 321h1M401 321h1M348 322h1M352 322h2M356 322h2M361 322h1M368 322h1M372 322h1M376 322h1M388 322h1M392 322h1M350 323h1M352 323h1M357 323h2M360 323h1M362 323h1M366 323h1M371 323h2M375 323h1M394 323h1M405 323h1M355 324h1M359 324h2M362 324h2M366 324h1M372 324h1M375 324h2M389 324h1M397 324h1M346 325h1M349 325h2M354 325h2M365 325h2M369 325h1M343 326h1M352 326h1M355 326h1M362 326h1M364 326h1M367 326h1M372 326h1M390 326h1M396 326h1M349 327h2M353 327h2M357 327h2M361 327h2M368 327h1M371 327h1M397 327h1M347 328h1M350 328h1M353 328h1M356 328h6M363 328h1M365 328h1M367 328h4M373 328h1M378 328h1M388 328h2M346 329h1M356 329h2M361 329h7M369 329h1M391 329h1M349 330h1M359 330h1M362 330h1M364 330h2M367 330h1M375 330h1M347 331h1M366 331h1M368 331h1M378 331h1M387 331h1M352 332h1M358 332h1M365 332h1M379 332h1M382 332h2M389 332h1M396 332h1M357 333h3M361 333h1M365 333h1M367 333h2M377 333h1M352 334h1M356 334h1M358 334h2M375 334h1M388 334h1M351 335h1M353 335h1M356 335h1M372 335h1M388 335h1M348 336h1M354 336h1M360 336h1M362 336h1M365 336h1M371 336h1M354 337h1M363 337h2M376 337h1M387 337h2M349 338h1M367 338h1M369 338h1M374 338h1M386 338h1M395 338h1M363 339h1M373 339h1M392 339h1M364 340h1M370 340h1M388 340h1M348 341h1M362 341h2M370 342h1M386 342h1M395 342h1M387 343h1M391 343h1M397 343h1" stroke="#404040" stroke-width="1" fill="none" transform="translate(0,0.5)" shape-rendering="crispEdges"/><path d="M380 261h1M361 262h1M384 262h1M368 263h1M370 263h1M375 263h2M382 263h1M360 264h1M367 264h4M372 265h2M378 265h1M381 265h1M384 265h1M389 265h1M364 266h1M367 266h1M375 266h1M378 266h1M380 266h1M385 266h2M361 267h1M370 267h1M372 267h1M375 267h2M378 267h2M381 267h1M370 268h1M374 268h2M377 268h1M379 268h1M382 268h3M389 268h1M364 269h2M368 269h2M371 269h2M374 269h1M376 269h4M386 269h1M358 270h1M367 270h1M369 270h1M371 270h1M374 270h2M378 270h2M381 270h1M360 271h1M363 271h1M369 271h1M379 271h1M381 271h1M370 272h2M374 272h1M377 272h1M358 273h1M364 273h1M372 273h1M376 273h1M378 273h1M360 274h1M364 274h1M376 274h3M380 274h1M364 275h1M367 275h1M382 275h2M365 276h1M369 276h1M367 277h1M354 290h1M386 297h1M356 301h1M365 306h1M339 307h1M357 308h1M363 308h2M365 309h1M357 310h1M359 310h1M364 310h1M357 311h1M364 311h1M397 311h1M367 312h2M371 312h1M396 312h1M359 313h1M396 313h1M362 314h2M368 314h1M373 314h1M397 314h1M343 315h1M354 315h1M359 315h1M363 315h1M365 315h1M368 315h1M353 316h1M357 316h1M362 316h1M367 316h1M371 316h2M355 317h1M359 317h1M367 317h1M369 317h1M352 318h2M360 318h1M362 318h2M365 318h1M368 318h1M357 319h1M360 319h1M363 319h1M353 320h1M355 320h1M359 320h1M361 320h2M365 320h1M367 320h1M394 320h1M354 321h2M357 321h1M359 321h1M363 321h1M369 321h1M358 322h1M363 322h2M374 322h1M348 323h1M354 323h1M361 323h1M363 323h2M373 323h1M391 323h1M356 324h2M361 324h1M369 324h1M353 325h1M358 325h2M364 325h1M368 325h1M358 326h1M360 326h1M363 326h1M365 326h1M371 326h1M385 326h1M351 327h1M356 327h1M366 327h1M343 328h1M351 328h1M362 328h1M366 328h1M355 329h1M359 329h1M354 330h1M361 330h1M366 330h1M368 330h1M359 331h1M362 331h1M367 331h1M355 332h2M361 332h1M354 333h1M360 333h1M378 333h1M357 334h1M364 334h1M354 335h1M384 335h1M374 337h1M392 343h1" stroke="#1c1c1c" stroke-width="1" fill="none" transform="translate(0,0.5)" shape-rendering="crispEdges"/><path d="M372 264h2M366 265h1M369 266h2M382 266h1M373 267h1M380 267h1M364 268h1M367 268h1M371 268h1M364 270h2M368 270h1M372 270h2M383 270h1M366 271h1M374 273h1M381 273h1M372 275h1M363 311h1M366 312h1M358 314h1M360 314h1M369 316h1M357 317h1M369 320h2M364 321h1M360 322h1M358 324h1M365 324h1M357 326h1M359 326h1M363 327h1" stroke="#000000" stroke-width="1" fill="none" transform="translate(0,0.5)" shape-rendering="crispEdges"/>
<path d="M116 397h1M127 397h1M91 398h1M139 399h2M145 399h1M101 400h1M117 400h1M123 400h1M140 400h1M118 401h1M123 401h1M128 401h1M152 402h1M68 403h1M105 403h1M124 403h1M99 404h1M101 404h1M109 404h4M115 404h1M122 404h1M126 404h1M85 405h1M89 405h1M92 405h1M98 405h1M105 405h1M113 405h1M119 405h1M122 405h1M132 405h1M136 405h1M74 406h1M76 406h1M88 406h1M96 406h1M100 406h1M102 406h1M104 406h2M110 406h1M113 406h1M115 406h1M122 406h2M126 406h1M128 406h1M130 406h1M132 406h3M137 406h1M142 406h1M79 407h1M83 407h1M86 407h1M93 407h1M100 407h1M103 407h1M105 407h1M108 407h2M113 407h1M115 407h2M118 407h2M122 407h2M128 407h1M133 407h1M144 407h1M85 408h1M95 408h1M104 408h1M108 408h2M112 408h4M117 408h3M121 408h2M124 408h1M127 408h1M130 408h1M133 408h1M138 408h1M140 408h1M71 409h1M83 409h2M94 409h2M100 409h1M104 409h1M109 409h2M113 409h4M122 409h1M125 409h1M130 409h1M133 409h1M136 409h5M142 409h1M74 410h1M84 410h1M86 410h2M94 410h2M102 410h1M104 410h1M106 410h1M113 410h2M117 410h1M119 410h1M121 410h2M126 410h2M135 410h1M137 410h1M66 411h1M81 411h1M89 411h2M96 411h1M98 411h1M104 411h1M122 411h1M124 411h1M126 411h4M131 411h2M135 411h1M137 411h5M146 411h1M70 412h1M74 412h1M79 412h1M85 412h1M87 412h1M91 412h6M100 412h1M104 412h1M107 412h1M117 412h1M119 412h1M121 412h1M127 412h1M129 412h1M131 412h3M135 412h2M138 412h1M143 412h1M145 412h1M73 413h1M83 413h3M90 413h1M92 413h1M96 413h1M98 413h1M100 413h1M106 413h1M127 413h1M135 413h1M138 413h2M142 413h1M148 413h1M82 414h1M86 414h2M90 414h1M92 414h2M96 414h1M121 414h1M131 414h6M139 414h1M141 414h2M70 415h1M76 415h1M80 415h1M85 415h2M89 415h2M92 415h1M95 415h1M127 415h1M130 415h5M138 415h1M143 415h2M146 415h1M153 415h1M63 416h1M72 416h2M76 416h1M80 416h1M84 416h1M88 416h1M90 416h1M98 416h1M111 416h1M124 416h1M126 416h1M131 416h3M135 416h2M150 416h1M59 417h1M61 417h2M65 417h1M70 417h2M74 417h1M76 417h1M82 417h1M86 417h2M90 417h1M93 417h1M121 417h1M133 417h1M135 417h1M137 417h1M139 417h1M142 417h1M144 417h1M61 418h2M71 418h1M76 418h1M79 418h1M82 418h1M86 418h2M90 418h1M121 418h1M124 418h1M128 418h1M130 418h1M133 418h3M139 418h1M142 418h1M61 419h1M69 419h1M74 419h1M77 419h1M79 419h1M83 419h2M91 419h1M131 419h4M138 419h1M157 419h1M69 420h2M75 420h1M77 420h1M80 420h1M83 420h1M87 420h4M92 420h1M98 420h1M125 420h1M128 420h1M133 420h1M141 420h3M65 421h2M71 421h1M73 421h2M78 421h2M84 421h1M86 421h1M91 421h1M93 421h1M120 421h1M122 421h1M124 421h1M126 421h2M129 421h2M134 421h1M136 421h1M139 421h1M62 422h1M68 422h1M72 422h1M74 422h1M79 422h1M93 422h1M123 422h1M130 422h1M133 422h2M137 422h1M141 422h2M146 422h1M60 423h1M63 423h2M75 423h1M79 423h2M83 423h2M86 423h3M96 423h1M101 423h1M114 423h1M119 423h2M129 423h4M135 423h1M139 423h1M141 423h1M66 424h2M69 424h1M75 424h1M79 424h1M82 424h2M87 424h1M90 424h1M92 424h1M94 424h1M97 424h1M105 424h1M117 424h1M125 424h1M130 424h3M134 424h1M137 424h1M139 424h1M141 424h3M147 424h1M151 424h1M153 424h1M59 425h1M64 425h4M69 425h1M71 425h2M79 425h1M81 425h2M84 425h2M87 425h1M92 425h1M115 425h2M118 425h1M120 425h1M122 425h1M124 425h1M126 425h1M129 425h1M138 425h1M142 425h2M59 426h1M64 426h1M67 426h1M72 426h3M77 426h1M82 426h1M84 426h2M91 426h2M110 426h1M112 426h3M117 426h1M119 426h2M122 426h2M128 426h2M135 426h1M138 426h1M140 426h1M143 426h1M148 426h1M155 426h1M62 427h1M65 427h1M71 427h1M73 427h2M77 427h1M81 427h4M87 427h1M89 427h3M100 427h1M104 427h1M107 427h2M110 427h1M114 427h3M118 427h1M120 427h1M123 427h1M125 427h2M135 427h2M138 427h2M141 427h3M145 427h1M147 427h1M59 428h2M62 428h1M67 428h4M72 428h2M75 428h1M79 428h2M82 428h1M87 428h1M89 428h1M91 428h1M94 428h1M97 428h1M100 428h1M104 428h1M108 428h6M115 428h2M120 428h1M122 428h1M125 428h1M127 428h1M130 428h1M134 428h2M137 428h5M144 428h1M157 428h1M63 429h1M66 429h1M69 429h1M72 429h1M77 429h1M79 429h3M83 429h4M89 429h4M95 429h3M103 429h1M106 429h3M110 429h1M112 429h1M114 429h1M117 429h2M120 429h2M124 429h1M126 429h2M129 429h1M135 429h1M140 429h2M143 429h2M146 429h2M66 430h1M69 430h1M75 430h1M77 430h1M82 430h1M86 430h1M88 430h1M94 430h1M96 430h1M99 430h1M104 430h2M109 430h2M112 430h1M116 430h2M119 430h1M121 430h1M123 430h1M126 430h1M128 430h2M131 430h1M138 430h1M142 430h1M149 430h1M155 430h1M61 431h1M64 431h2M67 431h1M70 431h1M73 431h1M77 431h6M86 431h2M90 431h1M93 431h1M96 431h2M99 431h2M102 431h2M107 431h1M114 431h1M116 431h2M119 431h2M123 431h1M128 431h1M130 431h1M137 431h1M60 432h1M68 432h1M75 432h1M78 432h1M80 432h5M87 432h3M92 432h2M95 432h1M102 432h1M104 432h1M106 432h3M112 432h1M114 432h1M119 432h1M121 432h1M127 432h1M130 432h1M134 432h1M137 432h1M139 432h2M144 432h1M152 432h1M68 433h1M70 433h1M73 433h1M76 433h3M80 433h2M83 433h1M86 433h1M88 433h2M93 433h2M96 433h1M103 433h1M107 433h1M109 433h1M112 433h1M120 433h1M122 433h1M126 433h1M130 433h1M133 433h1M135 433h3M157 433h1M68 434h1M70 434h4M79 434h1M81 434h1M86 434h2M90 434h1M94 434h2M99 434h2M104 434h2M107 434h1M110 434h1M113 434h1M119 434h1M126 434h1M130 434h1M135 434h2M140 434h2M143 434h1M148 434h1M64 435h1M71 435h2M74 435h1M76 435h2M86 435h4M93 435h2M98 435h2M102 435h4M108 435h1M111 435h1M113 435h1M115 435h1M117 435h1M119 435h1M121 435h1M124 435h2M127 435h2M131 435h1M136 435h1M139 435h1M148 435h1M61 436h1M80 436h1M84 436h1M87 436h1M92 436h1M94 436h1M96 436h2M101 436h3M109 436h2M112 436h2M122 436h1M132 436h2M136 436h5M144 436h1M64 437h2M69 437h1M73 437h1M76 437h1M78 437h1M84 437h1M90 437h2M96 437h1M101 437h2M105 437h2M108 437h2M112 437h1M116 437h1M118 437h3M124 437h1M128 437h1M132 437h1M134 437h1M142 437h1M144 437h1M150 437h1M152 437h2M61 438h1M67 438h2M70 438h1M73 438h1M75 438h1M77 438h2M89 438h1M94 438h1M98 438h5M104 438h1M106 438h2M111 438h1M116 438h1M119 438h4M128 438h1M137 438h2M148 438h1M157 438h1M62 439h1M69 439h1M80 439h2M88 439h1M94 439h1M98 439h2M101 439h1M103 439h1M105 439h1M116 439h1M118 439h1M127 439h1M139 439h1M141 439h2M61 440h1M70 440h1M76 440h2M82 440h1M84 440h1M87 440h5M98 440h1M100 440h2M106 440h1M108 440h1M113 440h1M115 440h2M135 440h1M139 440h1M143 440h1M145 440h1M148 440h1M152 440h1M81 441h2M90 441h1M94 441h1M96 441h1M98 441h1M102 441h1M104 441h1M108 441h1M111 441h1M115 441h1M125 441h1M139 441h3M144 441h3M155 441h1M157 441h1M66 442h1M76 442h1M78 442h1M80 442h2M84 442h3M88 442h1M92 442h1M95 442h1M100 442h1M103 442h1M107 442h1M117 442h1M138 442h3M145 442h1M147 442h1M150 442h1M62 443h1M73 443h1M80 443h1M85 443h2M89 443h1M92 443h1M95 443h3M99 443h1M106 443h1M139 443h1M141 443h1M143 443h3M148 443h2M75 444h1M79 444h1M82 444h1M86 444h5M93 444h1M97 444h1M114 444h1M143 444h1M155 444h1M61 445h1M73 445h1M77 445h1M81 445h3M86 445h1M88 445h1M90 445h2M94 445h1M103 445h1M140 445h5M153 445h1M70 446h1M75 446h1M80 446h1M83 446h2M87 446h3M92 446h2M109 446h1M140 446h4M69 447h1M76 447h2M79 447h1M81 447h1M84 447h1M88 447h2M92 447h1M100 447h1M141 447h2M148 447h1M150 447h1M69 448h1M77 448h1M83 448h1M88 448h1M93 448h1M141 448h1M143 448h3M153 448h1M61 449h1M72 449h1M75 449h1M79 449h1M82 449h1M87 449h1M144 449h2M151 449h1M69 450h1M72 450h1M74 450h1M78 450h2M83 450h1M85 450h1M89 450h1M140 450h3M145 450h1M150 450h1M67 451h1M70 451h3M74 451h1M77 451h1M81 451h1M83 451h1M87 451h1M89 451h1M98 451h1M142 451h1M144 451h2M63 452h1M71 452h2M75 452h1M77 452h1M79 452h1M87 452h1M141 452h1M143 452h3M147 452h1M150 452h1M152 452h1M71 453h1M74 453h1M79 453h4M85 453h1M89 453h1M92 453h1M154 453h2M69 454h1M71 454h1M74 454h1M77 454h1M81 454h1M83 454h1M86 454h1M88 454h2M141 454h1M145 454h1M149 454h1M64 455h1M70 455h1M79 455h2M151 455h1M157 455h1M68 456h1M74 456h3M79 456h2M86 456h2M146 456h2M154 456h1M72 457h2M76 457h1M79 457h4M84 457h1M141 457h2M145 457h1M147 457h2M60 458h1M65 458h1M71 458h1M74 458h1M77 458h1M80 458h1M83 458h2M87 458h1M148 458h1M153 458h1M70 459h1M73 459h1M78 459h1M83 459h1M88 459h1M148 459h1M150 459h1M152 459h1M157 459h1M63 460h1M73 460h1M75 460h1M78 460h3M84 460h2M145 460h1M149 460h2M153 460h1M156 460h1M71 461h1M73 461h2M77 461h1M83 461h2M148 461h1M151 461h1M154 461h1M156 461h2M60 462h1M70 462h2M76 462h4M82 462h1M145 462h1M147 462h2M154 462h1M68 463h1M70 463h1M75 463h3M82 463h2M86 463h2M145 463h2M152 463h1M157 463h1M65 464h1M71 464h2M77 464h1M79 464h2M82 464h1M84 464h1M89 464h1M146 464h1M148 464h1M150 464h1M75 465h1M77 465h2M84 465h1M86 465h1M146 465h1M151 465h3M62 466h1M70 466h1M74 466h4M79 466h2M146 466h2M152 466h1M155 466h1M73 467h1M76 467h1M79 467h2M84 467h1M91 467h1M144 467h4M69 468h1M71 468h1M73 468h1M75 468h1M79 468h3M85 468h1M141 468h1M143 468h2M146 468h2M59 469h1M73 469h1M77 469h6M142 469h1M147 469h1M151 469h1M156 469h1M77 470h1M79 470h2M83 470h1M141 470h1M144 470h1M146 470h1M150 470h1M153 470h1M66 471h1M68 471h1M72 471h1M76 471h2M79 471h4M84 471h1M144 471h1M146 471h1M72 472h1M76 472h1M78 472h1M81 472h1M83 472h1M85 472h1M145 472h2M149 472h1M62 473h1M72 473h1M78 473h1M80 473h1M84 473h2M95 473h1M141 473h1M144 473h1M147 473h1M69 474h1M72 474h2M75 474h2M79 474h1M81 474h1M83 474h1M87 474h1M96 474h1M141 474h2M144 474h1M74 475h3M81 475h1M86 475h2M91 475h1M93 475h1M96 475h1M143 475h2M148 475h1M60 476h1M65 476h1M69 476h1M84 476h4M90 476h1M145 476h1M147 476h1M153 476h1M59 477h1M75 477h1M77 477h4M82 477h2M85 477h3M142 477h1M144 477h1M150 477h1M152 477h1M157 477h1M70 478h2M76 478h2M84 478h2M87 478h1M110 478h1M144 478h1M146 478h1M149 478h1M152 478h1M61 479h1M71 479h3M77 479h1M82 479h8M94 479h1M142 479h1M146 479h2M153 479h1M157 479h1M64 480h1M67 480h1M71 480h1M76 480h5M82 480h4M147 480h1M152 480h2M73 481h1M77 481h1M82 481h1M86 481h1M88 481h1M90 481h2M95 481h1M100 481h2M138 481h1M142 481h1M147 481h1M153 481h1M60 482h1M72 482h1M89 482h2M92 482h3M96 482h1M98 482h1M117 482h1M119 482h1M142 482h3M156 482h1M76 483h1M81 483h4M91 483h1M94 483h2M137 483h1M156 483h2M76 484h1M85 484h1M87 484h4M92 484h2M96 484h2M101 484h1M103 484h1M117 484h1M120 484h1M143 484h1M70 485h1M76 485h1M79 485h1M87 485h1M91 485h1M101 485h1M110 485h1M112 485h1M137 485h3M141 485h1M148 485h1M157 485h1M72 486h1M76 486h1M79 486h1M81 486h1M84 486h1M97 486h1M100 486h1M102 486h1M111 486h1M120 486h1M127 486h1M139 486h1M141 486h1M143 486h1M157 486h1M79 487h1M85 487h1M95 487h1M99 487h1M102 487h1M111 487h1M113 487h1M117 487h1M121 487h1M140 487h1M148 487h1M68 488h2M77 488h1M85 488h2M92 488h1M101 488h1M110 488h2M115 488h1M118 488h2M123 488h1M140 488h2M145 488h1M148 488h1M154 488h1M68 489h1M76 489h1M81 489h1M89 489h2M92 489h2M96 489h3M101 489h1M103 489h1M112 489h1M117 489h1M122 489h1M124 489h1M152 489h1M157 489h1M78 490h1M84 490h1M86 490h1M89 490h1M95 490h1M97 490h2M114 490h1M116 490h1M118 490h1M125 490h1M140 490h2M144 490h2M85 491h1M88 491h1M90 491h3M97 491h1M105 491h1M108 491h1M110 491h5M118 491h4M124 491h1M136 491h1M139 491h1M148 491h1M69 492h1M87 492h1M91 492h2M96 492h1M98 492h5M108 492h1M112 492h3M119 492h2M141 492h1M65 493h1M80 493h1M86 493h2M89 493h1M91 493h2M97 493h2M101 493h1M103 493h1M105 493h1M110 493h2M117 493h1M119 493h2M122 493h3M127 493h1M134 493h1M141 493h1M143 493h1M74 494h2M91 494h1M95 494h2M100 494h1M103 494h3M108 494h2M120 494h4M125 494h1M132 494h1M135 494h1M139 494h1M152 494h2M157 494h1M77 495h1M86 495h1M88 495h1M93 495h1M95 495h2M98 495h1M101 495h1M104 495h1M108 495h4M118 495h2M123 495h1M125 495h1M137 495h1M140 495h2M149 495h1M152 495h2" stroke="#7c7c7c" stroke-width="1" fill="none" transform="translate(0,0.5)" shape-rendering="crispEdges"/><path d="M135 405h1M108 406h1M116 406h1M98 407h1M107 407h1M110 407h1M124 407h2M130 407h1M103 408h1M105 408h2M111 408h1M116 408h1M120 408h1M126 408h1M129 408h1M131 408h1M103 409h1M108 409h1M119 409h2M127 409h1M129 409h1M132 409h1M97 410h3M101 410h1M105 410h1M110 410h1M116 410h1M118 410h1M120 410h1M129 410h2M91 411h1M95 411h1M100 411h3M105 411h2M108 411h5M116 411h1M118 411h2M125 411h1M136 411h1M88 412h1M97 412h2M101 412h3M108 412h1M118 412h1M122 412h1M128 412h1M130 412h1M86 413h1M97 413h1M101 413h2M115 413h1M119 413h1M122 413h5M129 413h3M79 414h1M91 414h1M94 414h2M100 414h1M102 414h2M106 414h1M118 414h1M125 414h2M129 414h2M81 415h1M88 415h1M91 415h1M94 415h1M96 415h2M102 415h1M120 415h1M122 415h2M125 415h1M135 415h1M83 416h1M85 416h1M91 416h2M97 416h1M100 416h1M127 416h1M130 416h1M137 416h1M78 417h2M83 417h2M89 417h1M94 417h1M98 417h1M103 417h1M115 417h1M123 417h2M126 417h1M132 417h1M83 418h1M85 418h1M92 418h2M102 418h1M120 418h1M122 418h1M127 418h1M131 418h1M136 418h2M80 419h1M86 419h3M94 419h1M99 419h1M119 419h2M123 419h1M125 419h1M128 419h1M130 419h1M136 419h1M66 420h1M84 420h3M91 420h1M93 420h1M95 420h2M104 420h1M120 420h2M132 420h1M135 420h1M137 420h1M139 420h1M81 421h1M85 421h1M88 421h1M92 421h1M94 421h2M118 421h1M131 421h1M133 421h1M137 421h1M75 422h1M80 422h1M85 422h1M87 422h3M94 422h1M97 422h1M116 422h2M119 422h1M124 422h6M131 422h1M135 422h1M147 422h1M68 423h2M74 423h1M77 423h1M82 423h1M89 423h2M92 423h2M109 423h1M118 423h1M121 423h1M123 423h3M127 423h2M133 423h2M136 423h1M70 424h1M72 424h3M80 424h1M85 424h2M88 424h1M91 424h1M95 424h1M118 424h1M120 424h1M123 424h2M126 424h4M133 424h1M68 425h1M74 425h2M78 425h1M83 425h1M89 425h3M95 425h2M98 425h1M102 425h2M112 425h3M121 425h1M125 425h1M131 425h1M135 425h2M70 426h1M78 426h2M81 426h1M86 426h2M90 426h1M95 426h1M98 426h1M101 426h1M103 426h1M108 426h2M118 426h1M124 426h4M132 426h3M136 426h1M139 426h1M64 427h1M66 427h1M68 427h1M72 427h1M75 427h1M78 427h3M86 427h1M93 427h2M97 427h2M103 427h1M111 427h1M117 427h1M121 427h1M124 427h1M131 427h2M134 427h1M66 428h1M71 428h1M74 428h1M77 428h1M81 428h1M84 428h1M86 428h1M92 428h2M95 428h1M98 428h2M102 428h1M105 428h2M119 428h1M123 428h2M129 428h1M148 428h1M65 429h1M74 429h1M82 429h1M88 429h1M98 429h2M101 429h2M104 429h2M109 429h1M111 429h1M115 429h1M128 429h1M130 429h1M133 429h1M60 430h1M65 430h1M70 430h1M79 430h1M81 430h1M83 430h1M85 430h1M90 430h2M95 430h1M98 430h1M103 430h1M106 430h2M114 430h2M120 430h1M124 430h2M130 430h1M132 430h2M135 430h1M72 431h1M76 431h1M83 431h2M92 431h1M94 431h1M108 431h1M115 431h1M118 431h1M121 431h2M124 431h3M129 431h1M131 431h1M134 431h2M138 431h1M142 431h1M73 432h2M79 432h1M85 432h2M94 432h1M97 432h2M100 432h2M113 432h1M117 432h2M120 432h1M124 432h3M128 432h1M132 432h1M135 432h1M67 433h1M74 433h1M79 433h1M84 433h2M92 433h1M95 433h1M99 433h4M105 433h1M111 433h1M115 433h1M117 433h1M124 433h2M129 433h1M131 433h1M134 433h1M138 433h1M63 434h1M74 434h1M76 434h1M78 434h1M82 434h1M85 434h1M88 434h2M91 434h3M96 434h1M102 434h1M106 434h1M112 434h1M118 434h1M121 434h1M123 434h1M127 434h2M131 434h1M133 434h1M137 434h1M73 435h1M81 435h3M100 435h2M106 435h2M109 435h2M114 435h1M118 435h1M120 435h1M123 435h1M129 435h1M134 435h1M138 435h1M77 436h1M88 436h1M91 436h1M98 436h2M104 436h3M117 436h3M121 436h1M124 436h1M126 436h1M130 436h2M134 436h2M80 437h1M85 437h1M88 437h1M92 437h1M94 437h1M98 437h1M100 437h1M103 437h2M110 437h1M114 437h1M121 437h1M123 437h1M126 437h1M136 437h1M138 437h1M83 438h3M87 438h1M103 438h1M105 438h1M109 438h1M112 438h2M115 438h1M132 438h1M136 438h1M89 439h1M91 439h1M97 439h1M100 439h1M102 439h1M109 439h1M113 439h1M115 439h1M117 439h1M119 439h1M121 439h1M125 439h2M129 439h2M133 439h1M135 439h1M137 439h2M83 440h1M86 440h1M94 440h1M97 440h1M99 440h1M104 440h1M109 440h1M111 440h1M118 440h2M126 440h1M128 440h1M130 440h1M132 440h2M136 440h1M138 440h1M141 440h1M144 440h1M83 441h1M88 441h1M91 441h1M95 441h1M97 441h1M101 441h1M105 441h3M113 441h2M116 441h1M118 441h2M121 441h1M129 441h1M133 441h1M137 441h1M142 441h2M149 441h1M83 442h1M89 442h1M96 442h2M101 442h1M106 442h1M108 442h2M112 442h1M120 442h2M132 442h1M137 442h1M91 443h1M101 443h4M109 443h4M115 443h3M119 443h1M134 443h2M137 443h2M142 443h1M83 444h1M94 444h2M98 444h1M102 444h1M105 444h2M108 444h1M112 444h1M118 444h1M120 444h1M122 444h1M125 444h1M131 444h1M137 444h1M139 444h1M142 444h1M76 445h1M96 445h1M98 445h1M105 445h1M110 445h1M132 445h1M138 445h2M145 445h1M82 446h1M85 446h2M90 446h2M99 446h1M101 446h1M105 446h1M114 446h1M116 446h1M137 446h1M139 446h1M85 447h2M90 447h2M93 447h3M98 447h1M107 447h1M112 447h1M125 447h1M137 447h1M140 447h1M145 447h1M80 448h3M86 448h1M90 448h3M94 448h5M105 448h2M108 448h1M116 448h1M77 449h1M80 449h2M83 449h1M89 449h1M91 449h1M93 449h1M101 449h1M140 449h3M77 450h1M81 450h2M87 450h2M92 450h1M94 450h1M98 450h1M102 450h1M110 450h1M117 450h1M137 450h1M143 450h2M146 450h1M76 451h1M79 451h1M86 451h1M88 451h1M90 451h1M94 451h3M102 451h1M106 451h3M141 451h1M147 451h1M80 452h1M82 452h5M88 452h1M91 452h1M93 452h2M99 452h2M121 452h1M140 452h1M86 453h3M91 453h1M94 453h1M112 453h1M115 453h1M139 453h2M143 453h1M150 453h1M76 454h1M85 454h1M91 454h1M96 454h2M140 454h1M142 454h1M144 454h1M78 455h1M82 455h1M86 455h1M88 455h1M91 455h1M93 455h1M96 455h2M142 455h3M146 455h1M152 455h1M82 456h4M142 456h2M145 456h1M152 456h1M77 457h2M85 457h1M100 457h1M143 457h1M81 458h1M141 458h1M143 458h3M75 459h1M77 459h1M81 459h1M84 459h2M87 459h1M94 459h2M140 459h1M143 459h3M81 460h2M87 460h1M90 460h1M106 460h1M141 460h1M143 460h2M146 460h1M148 460h1M80 461h1M82 461h1M85 461h3M92 461h1M141 461h1M143 461h1M81 462h1M87 462h2M142 462h1M72 463h1M74 463h1M79 463h1M84 463h2M89 463h1M91 463h1M95 463h1M142 463h3M148 463h1M81 464h1M83 464h1M85 464h1M88 464h1M91 464h1M99 464h1M141 464h1M144 464h2M76 465h1M83 465h1M85 465h1M89 465h1M91 465h1M141 465h3M145 465h1M147 465h1M81 466h3M85 466h1M87 466h1M90 466h1M142 466h2M82 467h2M85 467h2M93 467h1M148 467h1M90 468h1M139 468h2M145 468h1M83 469h3M87 469h3M140 469h2M146 469h1M81 470h1M84 470h1M86 470h1M92 470h1M137 470h2M140 470h1M143 470h1M145 470h1M147 470h1M75 471h1M78 471h1M83 471h1M86 471h1M89 471h1M92 471h2M142 471h1M82 472h1M84 472h1M86 472h1M89 472h1M119 472h1M141 472h1M143 472h1M79 473h1M81 473h2M86 473h1M98 473h1M137 473h1M85 474h2M91 474h1M98 474h1M139 474h1M143 474h1M79 475h2M82 475h1M84 475h1M89 475h1M105 475h1M111 475h1M117 475h1M138 475h1M140 475h3M88 476h1M94 476h1M96 476h1M101 476h2M113 476h1M122 476h1M137 476h1M139 476h1M142 476h1M151 476h1M68 477h1M88 477h1M91 477h1M93 477h1M95 477h2M99 477h1M104 477h1M115 477h1M119 477h1M143 477h1M153 477h1M90 478h3M96 478h1M108 478h1M112 478h2M117 478h1M139 478h2M142 478h1M91 479h1M95 479h3M119 479h1M140 479h1M143 479h1M86 480h1M91 480h1M94 480h1M96 480h1M105 480h1M109 480h2M121 480h1M136 480h1M138 480h1M141 480h2M85 481h1M87 481h1M92 481h2M98 481h1M106 481h3M110 481h1M118 481h1M120 481h1M123 481h1M134 481h2M139 481h3M149 481h1M84 482h1M91 482h1M95 482h1M101 482h2M104 482h2M107 482h1M109 482h1M112 482h1M118 482h1M120 482h1M123 482h1M139 482h3M85 483h1M87 483h1M89 483h1M93 483h1M96 483h2M107 483h1M109 483h1M114 483h1M118 483h1M120 483h1M123 483h1M138 483h5M91 484h1M94 484h1M98 484h1M104 484h1M108 484h1M111 484h1M115 484h2M118 484h2M124 484h1M138 484h4M85 485h1M93 485h3M98 485h1M104 485h1M108 485h1M113 485h1M115 485h2M119 485h1M121 485h1M128 485h1M134 485h1M136 485h1M142 485h1M91 486h1M95 486h1M99 486h1M101 486h1M104 486h2M107 486h2M112 486h1M116 486h2M136 486h1M138 486h1M87 487h1M93 487h2M98 487h1M103 487h2M109 487h2M112 487h1M114 487h2M118 487h2M122 487h2M134 487h1M136 487h4M141 487h2M59 488h1M91 488h1M93 488h3M97 488h1M99 488h2M103 488h5M112 488h1M114 488h1M117 488h1M122 488h1M125 488h1M127 488h1M131 488h1M94 489h1M99 489h1M104 489h2M108 489h2M111 489h1M113 489h1M119 489h3M136 489h2M139 489h1M142 489h1M92 490h2M99 490h1M106 490h1M110 490h3M121 490h2M124 490h1M127 490h1M134 490h2M142 490h1M89 491h1M95 491h1M103 491h2M106 491h2M117 491h1M122 491h2M133 491h1M107 492h1M110 492h1M121 492h1M127 492h2M131 492h1M135 492h2M138 492h1M93 493h1M95 493h1M107 493h2M115 493h2M121 493h1M129 493h1M133 493h1M136 493h2M139 493h1M98 494h2M102 494h1M111 494h2M114 494h2M128 494h1M130 494h1M136 494h2M143 494h1M100 495h1M103 495h1M112 495h2M115 495h1M120 495h3M128 495h2M132 495h4" stroke="#404040" stroke-width="1" fill="none" transform="translate(0,0.5)" shape-rendering="crispEdges"/><path d="M111 407h1M107 408h1M97 409h1M99 409h1M105 409h1M107 409h1M112 409h1M118 409h1M123 409h1M103 410h1M107 410h1M109 410h1M111 410h2M123 410h1M125 410h1M103 411h1M107 411h1M113 411h2M117 411h1M120 411h2M130 411h1M99 412h1M106 412h1M109 412h2M112 412h1M114 412h3M120 412h1M123 412h2M126 412h1M87 413h1M94 413h1M99 413h1M103 413h1M105 413h1M110 413h1M112 413h2M116 413h1M120 413h2M128 413h1M133 413h1M88 414h1M97 414h2M101 414h1M107 414h1M109 414h2M113 414h1M120 414h1M123 414h2M127 414h2M87 415h1M93 415h1M98 415h4M103 415h2M111 415h1M113 415h1M117 415h2M121 415h1M136 415h1M94 416h3M99 416h1M103 416h1M112 416h1M115 416h1M118 416h1M120 416h1M122 416h1M129 416h1M142 416h1M88 417h1M91 417h2M95 417h1M97 417h1M99 417h1M101 417h2M105 417h3M110 417h1M113 417h2M119 417h2M127 417h2M130 417h1M91 418h1M94 418h2M98 418h4M105 418h2M114 418h1M125 418h2M129 418h1M85 419h1M89 419h2M92 419h2M95 419h1M100 419h2M113 419h1M115 419h4M124 419h1M127 419h1M129 419h1M94 420h1M97 420h1M106 420h1M111 420h5M124 420h1M127 420h1M129 420h3M89 421h2M100 421h2M109 421h1M112 421h2M115 421h1M117 421h1M119 421h1M121 421h1M123 421h1M125 421h1M128 421h1M132 421h1M81 422h1M86 422h1M90 422h3M95 422h2M99 422h1M103 422h1M105 422h1M107 422h1M110 422h1M118 422h1M120 422h1M132 422h1M136 422h1M76 423h1M91 423h1M94 423h1M97 423h2M107 423h1M110 423h2M115 423h1M117 423h1M122 423h1M126 423h1M77 424h2M84 424h1M89 424h1M93 424h1M96 424h1M100 424h1M102 424h1M108 424h2M111 424h1M113 424h1M115 424h1M119 424h1M122 424h1M73 425h1M86 425h1M88 425h1M93 425h2M100 425h2M104 425h1M107 425h5M117 425h1M119 425h1M123 425h1M127 425h1M130 425h1M133 425h1M75 426h1M89 426h1M93 426h2M96 426h2M99 426h2M102 426h1M105 426h1M107 426h1M115 426h2M121 426h1M137 426h1M88 427h1M92 427h1M95 427h2M99 427h1M102 427h1M105 427h2M109 427h1M112 427h2M127 427h4M76 428h1M78 428h1M85 428h1M90 428h1M96 428h1M101 428h1M107 428h1M114 428h1M126 428h1M136 428h1M73 429h1M87 429h1M94 429h1M100 429h1M123 429h1M134 429h1M136 429h2M80 430h1M97 430h1M100 430h1M108 430h1M111 430h1M127 430h1M134 430h1M88 431h1M91 431h1M95 431h1M98 431h1M105 431h1M109 431h1M111 431h1M96 432h1M99 432h1M103 432h1M105 432h1M109 432h1M111 432h1M115 432h1M123 432h1M131 432h1M98 433h1M108 433h1M123 433h1M127 433h2M97 434h2M101 434h1M103 434h1M108 434h1M115 434h3M124 434h2M129 434h1M134 434h1M138 434h1M97 435h1M132 435h2M95 436h1M107 436h2M111 436h1M116 436h1M120 436h1M127 436h1M141 436h1M93 437h1M115 437h1M117 437h1M127 437h1M129 437h3M135 437h1M137 437h1M96 438h2M108 438h1M110 438h1M114 438h1M118 438h1M124 438h3M130 438h2M133 438h3M90 439h1M104 439h1M110 439h2M120 439h1M128 439h1M131 439h1M134 439h1M136 439h1M144 439h1M102 440h1M110 440h1M112 440h1M114 440h1M120 440h1M122 440h1M124 440h1M127 440h1M131 440h1M137 440h1M140 440h1M87 441h1M99 441h2M110 441h1M122 441h2M126 441h1M130 441h3M136 441h1M90 442h2M93 442h2M102 442h1M104 442h2M111 442h1M113 442h1M115 442h2M118 442h1M122 442h2M125 442h2M128 442h2M131 442h1M134 442h2M93 443h2M107 443h2M113 443h1M118 443h1M120 443h1M124 443h3M131 443h1M96 444h1M99 444h1M103 444h2M109 444h1M113 444h1M115 444h1M117 444h1M121 444h1M130 444h1M134 444h1M138 444h1M140 444h2M92 445h2M95 445h1M102 445h1M104 445h1M108 445h2M113 445h1M115 445h4M120 445h2M124 445h1M126 445h1M135 445h1M137 445h1M94 446h1M100 446h1M102 446h2M108 446h1M110 446h1M115 446h1M119 446h3M123 446h1M135 446h1M138 446h1M96 447h1M99 447h1M103 447h2M106 447h1M108 447h4M113 447h1M116 447h1M118 447h3M124 447h1M126 447h1M133 447h1M138 447h1M89 448h1M99 448h1M101 448h1M103 448h2M107 448h1M110 448h1M113 448h1M115 448h1M117 448h3M123 448h1M129 448h1M135 448h1M139 448h2M88 449h1M92 449h1M94 449h1M96 449h1M100 449h1M104 449h2M110 449h1M112 449h1M114 449h4M119 449h1M122 449h2M135 449h1M137 449h2M84 450h1M86 450h1M90 450h2M93 450h1M96 450h1M104 450h3M111 450h1M116 450h1M119 450h1M121 450h2M84 451h1M91 451h1M93 451h1M99 451h3M103 451h1M105 451h1M110 451h2M119 451h1M137 451h1M139 451h2M89 452h1M95 452h3M101 452h2M104 452h1M108 452h1M115 452h1M118 452h2M137 452h1M139 452h1M142 452h1M83 453h2M90 453h1M95 453h2M99 453h1M108 453h1M110 453h1M113 453h1M116 453h1M118 453h2M134 453h1M138 453h1M141 453h2M90 454h1M92 454h2M99 454h1M101 454h2M106 454h1M108 454h1M111 454h1M114 454h1M136 454h1M138 454h2M143 454h1M81 455h1M83 455h3M87 455h1M90 455h1M92 455h1M95 455h1M99 455h1M107 455h1M114 455h1M138 455h1M140 455h1M145 455h1M88 456h1M90 456h5M102 456h4M107 456h1M110 456h1M117 456h1M119 456h1M136 456h1M139 456h1M83 457h1M87 457h4M92 457h8M104 457h1M110 457h1M113 457h1M118 457h1M139 457h1M144 457h1M82 458h1M85 458h1M88 458h1M90 458h3M95 458h1M98 458h1M106 458h1M109 458h1M112 458h1M120 458h1M138 458h1M140 458h1M142 458h1M79 459h1M86 459h1M89 459h1M92 459h2M97 459h1M100 459h1M107 459h1M109 459h2M112 459h1M118 459h1M138 459h2M141 459h1M88 460h2M93 460h3M97 460h1M100 460h1M110 460h1M114 460h1M121 460h1M135 460h1M137 460h3M79 461h1M81 461h1M88 461h2M94 461h1M117 461h1M119 461h1M138 461h1M140 461h1M80 462h1M83 462h1M85 462h2M89 462h5M95 462h3M106 462h2M109 462h2M115 462h2M137 462h1M139 462h1M143 462h1M88 463h1M92 463h2M96 463h1M99 463h1M104 463h1M111 463h1M113 463h1M120 463h1M139 463h1M141 463h1M90 464h1M92 464h4M100 464h1M104 464h1M106 464h1M112 464h1M117 464h2M136 464h1M140 464h1M82 465h1M87 465h1M90 465h1M92 465h2M95 465h1M97 465h1M100 465h1M103 465h1M107 465h1M112 465h3M118 465h1M133 465h1M140 465h1M78 466h1M89 466h1M91 466h1M96 466h2M99 466h1M101 466h2M112 466h1M120 466h1M139 466h1M89 467h2M92 467h1M94 467h1M101 467h2M106 467h1M109 467h3M116 467h3M134 467h1M136 467h1M138 467h1M141 467h1M83 468h1M86 468h2M91 468h3M95 468h1M98 468h2M101 468h1M116 468h4M123 468h1M86 469h1M90 469h1M93 469h1M96 469h3M105 469h1M107 469h2M112 469h1M126 469h1M135 469h1M138 469h2M143 469h1M82 470h1M85 470h1M87 470h5M94 470h3M102 470h1M105 470h1M109 470h1M115 470h1M136 470h1M139 470h1M142 470h1M85 471h1M88 471h1M91 471h1M95 471h1M97 471h1M101 471h2M112 471h1M115 471h2M137 471h1M141 471h1M77 472h1M87 472h2M91 472h4M96 472h1M106 472h2M109 472h1M111 472h1M113 472h1M115 472h1M118 472h1M123 472h1M125 472h1M128 472h1M134 472h1M136 472h1M140 472h1M144 472h1M75 473h1M83 473h1M87 473h1M90 473h1M96 473h2M100 473h1M103 473h1M110 473h1M117 473h1M119 473h2M125 473h1M134 473h2M138 473h1M140 473h1M82 474h1M88 474h3M92 474h1M95 474h1M101 474h1M105 474h1M110 474h1M112 474h1M116 474h1M119 474h1M133 474h1M140 474h1M85 475h1M88 475h1M90 475h1M95 475h1M97 475h1M104 475h1M112 475h1M116 475h1M121 475h1M136 475h1M91 476h2M97 476h4M108 476h1M115 476h2M118 476h2M124 476h1M136 476h1M138 476h1M141 476h1M143 476h1M84 477h1M89 477h2M92 477h1M97 477h1M101 477h2M108 477h4M118 477h1M122 477h1M136 477h6M93 478h1M95 478h1M97 478h3M103 478h1M106 478h2M109 478h1M111 478h1M119 478h3M124 478h2M133 478h1M135 478h1M137 478h1M141 478h1M90 479h1M92 479h2M98 479h1M100 479h7M109 479h1M111 479h1M113 479h1M117 479h2M120 479h1M122 479h1M127 479h1M136 479h4M87 480h1M92 480h1M95 480h1M98 480h3M103 480h2M106 480h1M113 480h6M120 480h1M122 480h1M124 480h1M127 480h1M134 480h1M137 480h1M140 480h1M94 481h1M96 481h2M99 481h1M103 481h2M112 481h1M114 481h1M116 481h2M119 481h1M121 481h2M130 481h1M132 481h2M88 482h1M97 482h1M100 482h1M111 482h1M122 482h1M125 482h4M133 482h1M136 482h2M79 483h2M98 483h1M101 483h2M104 483h3M108 483h1M110 483h1M113 483h1M115 483h1M117 483h1M121 483h2M124 483h2M133 483h1M135 483h2M95 484h1M99 484h1M102 484h1M106 484h1M110 484h1M113 484h1M122 484h2M125 484h1M129 484h1M132 484h2M136 484h2M97 485h1M99 485h1M102 485h2M105 485h1M107 485h1M111 485h1M114 485h1M117 485h2M120 485h1M122 485h2M125 485h2M129 485h1M131 485h2M135 485h1M92 486h2M96 486h1M109 486h1M114 486h2M118 486h2M121 486h1M123 486h1M126 486h1M132 486h1M134 486h2M137 486h1M140 486h1M100 487h2M105 487h1M107 487h2M116 487h1M120 487h1M125 487h2M130 487h1M135 487h1M98 488h1M102 488h1M109 488h1M113 488h1M116 488h1M121 488h1M130 488h1M132 488h1M134 488h6M100 489h1M106 489h2M110 489h1M123 489h1M125 489h1M127 489h3M133 489h2M138 489h1M101 490h1M104 490h2M107 490h3M113 490h1M120 490h1M123 490h1M126 490h1M128 490h3M132 490h1M136 490h1M139 490h1M109 491h1M115 491h2M125 491h4M135 491h1M103 492h1M105 492h1M109 492h1M124 492h3M129 492h1M132 492h3M137 492h1M140 492h1M112 493h2M125 493h2M128 493h1M132 493h1M138 493h1M119 494h1M124 494h1M126 494h1M129 494h1M131 494h1M133 494h2M126 495h1M130 495h1M136 495h1" stroke="#1c1c1c" stroke-width="1" fill="none" transform="translate(0,0.5)" shape-rendering="crispEdges"/><path d="M108 410h1M115 410h1M115 411h1M123 411h1M105 412h1M111 412h1M113 412h1M104 413h1M107 413h3M111 413h1M114 413h1M117 413h2M99 414h1M104 414h2M108 414h1M111 414h2M114 414h4M119 414h1M122 414h1M105 415h6M112 415h1M114 415h3M119 415h1M124 415h1M126 415h1M128 415h1M101 416h2M104 416h7M113 416h2M116 416h2M119 416h1M121 416h1M123 416h1M125 416h1M128 416h1M96 417h1M100 417h1M104 417h1M108 417h2M111 417h2M116 417h3M122 417h1M125 417h1M129 417h1M131 417h1M96 418h2M103 418h2M107 418h7M115 418h5M123 418h1M132 418h1M96 419h3M102 419h11M114 419h1M121 419h2M126 419h1M99 420h5M105 420h1M107 420h4M116 420h4M122 420h2M126 420h1M96 421h4M102 421h7M110 421h2M114 421h1M116 421h1M98 422h1M100 422h3M104 422h1M106 422h1M108 422h2M111 422h5M121 422h2M95 423h1M99 423h2M102 423h5M108 423h1M112 423h2M116 423h1M98 424h2M101 424h1M103 424h2M106 424h2M110 424h1M112 424h1M114 424h1M116 424h1M121 424h1M97 425h1M99 425h1M105 425h2M88 426h1M104 426h1M106 426h1M111 426h1M103 428h1M121 428h1M131 429h1M101 430h1M104 431h1M129 432h1M106 433h1M122 435h1M125 436h1M128 436h2M111 437h1M113 437h1M125 437h1M133 437h1M123 438h1M127 438h1M129 438h1M122 439h3M132 439h1M103 440h1M105 440h1M107 440h1M121 440h1M123 440h1M125 440h1M129 440h1M134 440h1M109 441h1M112 441h1M117 441h1M120 441h1M124 441h1M127 441h2M134 441h2M138 441h1M99 442h1M110 442h1M114 442h1M119 442h1M124 442h1M127 442h1M130 442h1M133 442h1M136 442h1M98 443h1M114 443h1M121 443h3M127 443h4M132 443h2M136 443h1M140 443h1M100 444h2M107 444h1M110 444h2M116 444h1M119 444h1M123 444h2M126 444h4M132 444h2M135 444h2M97 445h1M100 445h2M106 445h2M111 445h2M114 445h1M119 445h1M122 445h2M125 445h1M127 445h5M133 445h2M136 445h1M96 446h3M104 446h1M106 446h2M111 446h3M117 446h2M122 446h1M124 446h11M136 446h1M97 447h1M101 447h2M105 447h1M114 447h2M117 447h1M121 447h3M127 447h6M134 447h3M139 447h1M100 448h1M102 448h1M109 448h1M111 448h2M114 448h1M120 448h3M124 448h5M130 448h5M136 448h3M90 449h1M95 449h1M97 449h3M102 449h2M106 449h4M111 449h1M113 449h1M118 449h1M120 449h2M124 449h11M136 449h1M139 449h1M95 450h1M97 450h1M99 450h3M103 450h1M107 450h3M112 450h4M118 450h1M120 450h1M123 450h14M138 450h1M92 451h1M97 451h1M104 451h1M109 451h1M112 451h7M120 451h17M138 451h1M90 452h1M92 452h1M98 452h1M103 452h1M105 452h3M109 452h6M116 452h2M120 452h1M122 452h15M138 452h1M93 453h1M97 453h2M100 453h8M109 453h1M111 453h1M114 453h1M117 453h1M120 453h14M135 453h3M82 454h1M84 454h1M87 454h1M94 454h2M98 454h1M100 454h1M103 454h3M107 454h1M109 454h2M112 454h2M115 454h21M137 454h1M89 455h1M94 455h1M98 455h1M100 455h7M108 455h6M115 455h23M139 455h1M141 455h1M95 456h7M106 456h1M108 456h2M111 456h6M118 456h1M120 456h16M137 456h2M140 456h2M86 457h1M91 457h1M101 457h3M105 457h5M111 457h2M114 457h4M119 457h20M140 457h1M86 458h1M89 458h1M93 458h2M96 458h2M99 458h7M107 458h2M110 458h2M113 458h7M121 458h17M139 458h1M90 459h2M96 459h1M98 459h2M101 459h6M108 459h1M111 459h1M113 459h5M119 459h19M142 459h1M86 460h1M91 460h2M96 460h1M98 460h2M101 460h5M107 460h3M111 460h3M115 460h6M122 460h13M136 460h1M140 460h1M142 460h1M90 461h2M93 461h1M95 461h22M118 461h1M120 461h18M139 461h1M142 461h1M94 462h1M98 462h8M108 462h1M111 462h4M117 462h20M138 462h1M140 462h2M90 463h1M94 463h1M97 463h2M100 463h4M105 463h6M112 463h1M114 463h6M121 463h18M140 463h1M86 464h2M96 464h3M101 464h3M105 464h1M107 464h5M113 464h4M119 464h17M137 464h3M142 464h2M88 465h1M94 465h1M96 465h1M98 465h2M101 465h2M104 465h3M108 465h4M115 465h3M119 465h14M134 465h6M86 466h1M88 466h1M92 466h4M98 466h1M100 466h1M103 466h9M113 466h7M121 466h18M140 466h1M87 467h2M95 467h6M103 467h3M107 467h2M112 467h4M119 467h15M135 467h1M137 467h1M139 467h2M84 468h1M88 468h2M94 468h1M96 468h2M100 468h1M102 468h14M120 468h3M124 468h15M142 468h1M91 469h2M94 469h2M99 469h6M106 469h1M109 469h3M113 469h13M127 469h8M136 469h2M93 470h1M97 470h5M103 470h2M106 470h3M110 470h5M116 470h20M90 471h1M94 471h1M96 471h1M98 471h3M103 471h9M113 471h2M117 471h20M138 471h3M90 472h1M95 472h1M97 472h9M108 472h1M110 472h1M112 472h1M114 472h1M116 472h2M120 472h3M124 472h1M126 472h2M129 472h5M135 472h1M137 472h3M89 473h1M91 473h4M99 473h1M101 473h2M104 473h6M111 473h6M118 473h1M121 473h4M126 473h8M136 473h1M139 473h1M84 474h1M93 474h2M97 474h1M99 474h2M102 474h3M106 474h4M111 474h1M113 474h3M117 474h2M120 474h13M134 474h5M92 475h1M94 475h1M98 475h6M106 475h5M113 475h3M118 475h3M122 475h14M137 475h1M139 475h1M89 476h1M93 476h1M95 476h1M103 476h5M109 476h4M114 476h1M117 476h1M120 476h2M123 476h1M125 476h11M140 476h1M98 477h1M100 477h1M103 477h1M105 477h3M112 477h3M116 477h2M120 477h2M123 477h13M88 478h1M94 478h1M100 478h3M104 478h2M114 478h3M118 478h1M122 478h2M126 478h7M134 478h1M136 478h1M138 478h1M99 479h1M107 479h2M110 479h1M112 479h1M114 479h3M121 479h1M123 479h4M128 479h8M101 480h2M107 480h2M111 480h2M119 480h1M123 480h1M125 480h2M128 480h6M135 480h1M139 480h1M89 481h1M102 481h1M105 481h1M109 481h1M111 481h1M113 481h1M115 481h1M124 481h6M131 481h1M136 481h2M99 482h1M103 482h1M106 482h1M108 482h1M110 482h1M113 482h3M121 482h1M124 482h1M129 482h4M134 482h2M138 482h1M99 483h2M103 483h1M112 483h1M116 483h1M119 483h1M126 483h7M134 483h1M100 484h1M105 484h1M107 484h1M109 484h1M112 484h1M114 484h1M121 484h1M126 484h3M130 484h2M134 484h2M100 485h1M106 485h1M109 485h1M124 485h1M127 485h1M130 485h1M133 485h1M143 485h1M98 486h1M103 486h1M106 486h1M110 486h1M113 486h1M124 486h2M128 486h4M133 486h1M106 487h1M124 487h1M127 487h3M131 487h3M124 488h1M126 488h1M128 488h2M133 488h1M126 489h1M130 489h3M135 489h1M131 490h1M133 490h1M137 490h1M129 491h4M134 491h1M137 491h1M130 492h1M130 493h2M135 493h1M127 494h1M127 495h1M131 495h1" stroke="#000000" stroke-width="1" fill="none" transform="translate(0,0.5)" shape-rendering="crispEdges"/>
<path d="M208 391h1M237 391h1M295 391h1M243 392h1M248 392h1M262 395h1M292 395h1M221 398h1M235 398h1M244 398h1M217 399h1M224 400h1M260 401h1M289 402h1M228 403h1M276 403h1M278 403h1M218 404h1M288 404h1M197 406h1M216 406h1M223 406h1M285 406h1M287 406h1M273 407h1M254 408h1M244 409h1M251 409h1M264 409h1M267 409h1M277 409h1M281 409h1M252 410h1M255 410h1M267 411h1M276 411h1M285 411h1M287 411h1M218 412h1M267 412h3M272 412h1M287 412h1M290 412h1M197 413h1M225 413h2M237 413h1M241 413h1M276 413h1M278 413h2M292 413h1M221 414h1M223 414h1M232 414h1M254 414h1M260 414h1M271 414h1M275 414h1M199 415h1M204 415h1M225 415h1M250 415h1M266 415h1M269 415h1M285 415h1M292 415h1M218 416h1M237 416h1M244 416h1M246 416h1M256 416h1M261 416h1M268 416h2M279 416h1M283 416h1M209 417h1M227 417h1M241 417h1M249 417h2M265 417h1M268 417h1M271 417h1M273 417h1M275 417h1M278 417h2M296 417h1M211 418h1M222 418h1M226 418h1M232 418h1M236 418h1M252 418h1M256 418h1M259 418h1M268 418h1M276 418h1M286 418h1M291 418h1M194 419h1M202 419h1M212 419h1M221 419h1M234 419h2M241 419h2M248 419h1M255 419h1M269 419h1M273 419h1M281 419h1M283 419h1M285 419h1M287 419h1M232 420h1M239 420h2M244 420h1M248 420h2M261 420h1M266 420h1M272 420h1M280 420h1M283 420h1M289 420h1M212 421h1M214 421h1M219 421h1M229 421h1M231 421h1M234 421h1M246 421h1M248 421h1M252 421h1M263 421h1M269 421h1M285 421h1M297 421h1M213 422h2M223 422h1M227 422h1M233 422h1M237 422h1M239 422h1M242 422h1M247 422h1M256 422h1M262 422h1M268 422h2M275 422h1M287 422h2M298 422h1M204 423h1M219 423h1M225 423h2M228 423h1M231 423h1M234 423h5M240 423h2M243 423h1M245 423h1M254 423h1M262 423h1M268 423h1M270 423h1M273 423h1M276 423h1M278 423h1M288 423h1M196 424h1M205 424h1M216 424h1M218 424h1M222 424h1M227 424h2M230 424h2M234 424h2M237 424h2M240 424h4M246 424h1M248 424h1M252 424h1M255 424h1M259 424h1M264 424h1M266 424h1M268 424h1M270 424h1M274 424h1M279 424h1M286 424h1M296 424h1M195 425h1M209 425h1M214 425h1M216 425h1M220 425h1M230 425h1M232 425h1M235 425h1M242 425h3M250 425h1M253 425h1M258 425h3M262 425h2M265 425h2M270 425h1M273 425h1M275 425h1M282 425h1M202 426h1M204 426h3M208 426h2M214 426h1M217 426h2M228 426h2M232 426h1M235 426h2M239 426h1M241 426h1M243 426h1M245 426h1M249 426h3M254 426h2M258 426h1M262 426h2M265 426h1M268 426h1M270 426h1M272 426h1M277 426h1M282 426h1M296 426h1M298 426h1M203 427h1M206 427h1M217 427h1M219 427h2M225 427h1M227 427h1M231 427h1M237 427h1M246 427h2M249 427h4M254 427h1M256 427h1M259 427h2M266 427h1M268 427h2M274 427h1M280 427h1M283 427h1M203 428h1M216 428h2M221 428h1M226 428h1M228 428h2M232 428h1M244 428h1M250 428h2M259 428h3M271 428h3M275 428h1M277 428h2M280 428h1M282 428h1M284 428h1M288 428h1M301 428h1M194 429h1M200 429h1M209 429h3M221 429h1M223 429h1M226 429h2M231 429h4M240 429h1M248 429h3M256 429h2M266 429h1M269 429h1M273 429h2M277 429h1M281 429h1M283 429h3M289 429h2M201 430h1M206 430h1M210 430h1M213 430h3M218 430h4M237 430h1M240 430h1M244 430h2M249 430h3M253 430h7M262 430h1M267 430h1M274 430h1M276 430h1M286 430h1M296 430h1M299 430h1M198 431h1M206 431h1M209 431h1M218 431h1M222 431h5M228 431h1M234 431h1M239 431h2M242 431h2M246 431h1M249 431h1M251 431h1M255 431h5M264 431h1M266 431h1M269 431h2M273 431h1M275 431h1M279 431h1M281 431h2M291 431h1M298 431h1M194 432h1M202 432h1M206 432h1M212 432h5M219 432h1M221 432h1M224 432h4M230 432h3M234 432h1M240 432h2M243 432h4M249 432h1M253 432h2M256 432h2M259 432h1M261 432h1M264 432h1M266 432h3M271 432h1M273 432h3M280 432h1M289 432h1M302 432h1M196 433h1M202 433h1M206 433h3M214 433h1M216 433h3M222 433h1M225 433h1M227 433h2M241 433h1M246 433h2M249 433h1M252 433h1M254 433h1M265 433h1M269 433h2M275 433h2M279 433h2M282 433h2M287 433h1M290 433h3M200 434h1M206 434h1M208 434h1M216 434h3M220 434h2M224 434h1M227 434h2M234 434h1M236 434h1M240 434h1M243 434h1M249 434h1M252 434h1M254 434h1M256 434h1M258 434h1M263 434h1M266 434h1M271 434h3M276 434h1M287 434h2M290 434h1M203 435h2M206 435h1M208 435h1M213 435h1M216 435h4M224 435h2M228 435h1M230 435h1M243 435h1M246 435h1M252 435h2M257 435h1M268 435h1M270 435h1M276 435h1M280 435h1M202 436h1M205 436h1M207 436h1M209 436h4M216 436h2M219 436h4M224 436h1M228 436h1M235 436h1M246 436h1M251 436h1M254 436h1M258 436h1M261 436h1M264 436h2M267 436h1M273 436h1M280 436h1M300 436h1M197 437h1M200 437h3M205 437h2M211 437h1M213 437h2M217 437h1M221 437h2M229 437h1M232 437h1M248 437h2M251 437h1M253 437h1M255 437h1M257 437h1M259 437h1M267 437h1M270 437h1M272 437h4M280 437h2M296 437h1M200 438h1M202 438h1M204 438h4M209 438h1M211 438h2M220 438h2M224 438h1M230 438h1M237 438h1M241 438h1M244 438h1M253 438h2M256 438h2M260 438h1M263 438h2M266 438h1M271 438h1M279 438h1M293 438h2M196 439h1M198 439h2M201 439h1M203 439h1M207 439h2M212 439h1M216 439h1M233 439h1M242 439h1M244 439h1M248 439h3M252 439h1M254 439h1M256 439h1M258 439h1M261 439h2M267 439h1M296 439h1M194 440h1M198 440h1M202 440h2M208 440h2M212 440h2M215 440h1M219 440h1M229 440h2M241 440h1M247 440h1M249 440h2M252 440h3M267 440h1M291 440h1M193 441h1M196 441h2M203 441h1M205 441h1M209 441h1M212 441h2M215 441h2M222 441h2M230 441h2M235 441h1M237 441h2M240 441h1M251 441h1M254 441h3M258 441h2M270 441h1M275 441h2M286 441h1M293 441h1M297 441h1M195 442h1M202 442h1M205 442h3M209 442h2M212 442h1M214 442h1M216 442h2M219 442h1M237 442h1M239 442h1M246 442h1M250 442h1M256 442h2M266 442h2M281 442h1M194 443h1M196 443h4M203 443h3M208 443h1M210 443h1M212 443h2M216 443h3M237 443h1M242 443h1M245 443h1M247 443h7M283 443h1M290 443h1M193 444h1M199 444h4M205 444h1M209 444h1M211 444h1M215 444h2M218 444h1M224 444h1M242 444h1M246 444h1M249 444h1M251 444h3M261 444h1M276 444h2M285 444h1M287 444h1M296 444h1M199 445h3M205 445h1M215 445h2M219 445h1M224 445h1M230 445h1M236 445h1M245 445h3M249 445h1M254 445h2M259 445h2M268 445h1M271 445h2M295 445h1M198 446h1M219 446h1M229 446h1M232 446h1M234 446h1M236 446h1M245 446h5M252 446h3M261 446h2M264 446h1M270 446h1M274 446h1M284 446h1M296 446h1M197 447h2M205 447h1M207 447h2M212 447h1M215 447h1M218 447h1M227 447h1M235 447h2M238 447h3M242 447h1M247 447h1M249 447h1M251 447h1M258 447h2M267 447h1M274 447h1M285 447h1M291 447h1M201 448h1M206 448h1M208 448h3M213 448h2M219 448h1M225 448h2M231 448h1M242 448h2M246 448h1M250 448h2M256 448h1M260 448h1M276 448h1M193 449h1M200 449h1M205 449h1M207 449h6M214 449h1M216 449h1M236 449h1M240 449h1M243 449h1M250 449h2M253 449h1M262 449h1M199 450h5M205 450h2M209 450h1M212 450h1M234 450h1M243 450h2M246 450h3M252 450h2M256 450h1M259 450h2M275 450h1M296 450h1M196 451h1M201 451h1M207 451h1M209 451h1M213 451h1M216 451h1M218 451h2M227 451h1M243 451h3M250 451h1M253 451h1M255 451h1M258 451h1M302 451h1M199 452h1M204 452h1M206 452h1M208 452h1M211 452h1M213 452h5M236 452h1M241 452h2M244 452h1M248 452h1M251 452h1M253 452h1M257 452h1M259 452h1M266 452h1M193 453h1M206 453h1M217 453h1M219 453h1M228 453h1M240 453h1M247 453h2M251 453h1M253 453h2M259 453h1M266 453h1M199 454h2M208 454h1M210 454h1M212 454h1M214 454h2M219 454h1M227 454h1M235 454h1M240 454h2M246 454h1M251 454h1M255 454h1M257 454h1M195 455h1M199 455h3M203 455h4M209 455h6M225 455h1M243 455h1M248 455h1M250 455h1M254 455h1M256 455h1M258 455h1M263 455h1M199 456h1M201 456h1M203 456h1M205 456h2M211 456h4M219 456h1M231 456h1M245 456h2M249 456h1M251 456h2M261 456h2M265 456h1M202 457h1M204 457h1M211 457h1M213 457h2M220 457h1M222 457h2M235 457h1M240 457h2M244 457h1M246 457h2M249 457h2M252 457h4M258 457h3M194 458h2M198 458h2M207 458h1M209 458h1M212 458h2M215 458h1M218 458h2M221 458h1M224 458h1M228 458h1M231 458h1M238 458h1M240 458h3M245 458h1M247 458h2M250 458h1M254 458h2M258 458h1M260 458h1M266 458h2M280 458h1M193 459h1M199 459h1M201 459h1M205 459h1M208 459h1M212 459h2M215 459h1M222 459h1M242 459h2M245 459h3M256 459h1M271 459h1M296 459h1M199 460h1M201 460h2M206 460h1M211 460h1M217 460h1M220 460h1M222 460h2M225 460h1M233 460h1M237 460h1M241 460h3M246 460h2M250 460h2M253 460h1M196 461h1M198 461h1M200 461h1M206 461h1M213 461h1M215 461h1M218 461h1M228 461h1M234 461h1M238 461h1M240 461h1M246 461h2M256 461h1M199 462h1M202 462h1M204 462h1M206 462h1M211 462h1M217 462h2M222 462h1M240 462h4M245 462h3M250 462h2M253 462h1M258 462h1M194 463h1M197 463h1M203 463h1M208 463h2M213 463h3M223 463h3M229 463h1M236 463h1M241 463h1M248 463h1M253 463h1M258 463h1M261 463h1M264 463h1M198 464h1M201 464h1M203 464h1M205 464h1M208 464h1M210 464h1M212 464h1M214 464h1M218 464h2M222 464h2M227 464h1M230 464h1M232 464h1M235 464h2M244 464h2M247 464h3M251 464h1M201 465h2M204 465h2M209 465h1M211 465h1M215 465h2M222 465h1M230 465h2M233 465h1M245 465h1M248 465h1M251 465h1M257 465h1M259 465h1M194 466h1M200 466h1M203 466h2M207 466h1M209 466h1M216 466h3M224 466h2M237 466h1M239 466h1M241 466h3M247 466h1M249 466h1M252 466h1M257 466h2M270 466h1M200 467h1M202 467h1M204 467h3M211 467h1M215 467h2M219 467h2M222 467h1M225 467h1M228 467h1M232 467h2M235 467h1M237 467h3M242 467h1M244 467h1M247 467h1M253 467h1M257 467h1M262 467h2M265 467h1M269 467h1M201 468h1M209 468h2M217 468h1M221 468h2M224 468h1M232 468h1M238 468h1M240 468h3M244 468h3M249 468h1M251 468h1M255 468h1M207 469h1M209 469h2M218 469h2M221 469h1M225 469h1M228 469h2M234 469h2M237 469h3M241 469h1M243 469h2M247 469h1M251 469h1M255 469h1M205 470h1M207 470h1M210 470h1M213 470h2M220 470h2M223 470h2M226 470h2M229 470h1M231 470h1M233 470h1M237 470h1M249 470h2M256 470h1M259 470h1M273 470h1M281 470h1M201 471h1M205 471h2M210 471h1M213 471h2M216 471h1M221 471h3M234 471h4M240 471h1M249 471h2M195 472h1M204 472h2M207 472h1M211 472h1M213 472h2M216 472h7M227 472h1M235 472h1M239 472h1M243 472h1M247 472h1M253 472h1M260 472h1M288 472h1M197 473h1M212 473h1M219 473h1M223 473h2M231 473h2M234 473h1M239 473h1M241 473h1M244 473h2M249 473h1M253 473h1M258 473h1M194 474h1M200 474h1M202 474h1M205 474h1M208 474h1M214 474h1M216 474h2M219 474h3M223 474h1M225 474h3M231 474h1M235 474h1M237 474h1M240 474h1M247 474h2M251 474h1M260 474h1M194 475h1M202 475h1M216 475h1M218 475h1M220 475h1M226 475h1M228 475h1M230 475h2M233 475h1M236 475h1M238 475h1M242 475h1M246 475h1M248 475h1M250 475h1M257 475h1M206 476h1M211 476h1M215 476h2M222 476h3M229 476h2M233 476h2M240 476h1M242 476h1M246 476h3M251 476h2M256 476h2M195 477h1M199 477h1M214 477h1M216 477h2M219 477h3M225 477h1M231 477h2M234 477h1M236 477h2M239 477h6M246 477h1M251 477h3M255 477h1M196 478h1M199 478h2M203 478h1M208 478h1M212 478h1M217 478h1M219 478h2M222 478h1M224 478h2M237 478h1M241 478h1M254 478h1M259 478h2M212 479h2M219 479h3M223 479h1M225 479h1M230 479h1M235 479h1M242 479h1M251 479h1M254 479h1M259 479h2M268 479h1M220 480h1M223 480h1M225 480h1M227 480h1M231 480h1M233 480h1M246 480h1M267 480h1M279 480h1M195 481h1M207 481h1M209 481h1M212 481h1M216 481h1M218 481h1M229 481h4M235 481h1M237 481h1M239 481h1M241 481h1M245 481h1M252 481h1M199 482h1M205 482h1M221 482h1M224 482h1M228 482h1M237 482h1M241 482h1M245 482h1M249 482h3M211 483h1M219 483h1M223 483h2M227 483h1M232 483h1M236 483h3M244 483h2M247 483h1M249 483h1M279 483h1M208 484h1M214 484h1M216 484h1M229 484h1M232 484h1M236 484h1M240 484h1M258 484h1M203 485h1M205 485h1M211 485h1M230 485h1M234 485h1M236 485h1M238 485h1M223 486h3M229 486h2M240 486h1M242 486h1M267 486h1M215 487h1M220 487h1M225 487h1M230 487h2M237 487h1M258 487h1M199 488h1M217 488h2M222 488h1M227 488h1M230 488h1M235 488h1M242 488h1M244 488h2M203 489h1M212 489h1M217 489h1M219 489h1M227 489h1M231 489h1M243 489h1M262 489h1M222 490h1M240 490h1M248 490h1M253 490h1M242 491h1M245 491h1M246 492h1M214 493h1M228 493h1M243 493h1M289 493h1M298 493h1M237 494h1M252 494h1M212 495h1M219 495h1M223 495h1M237 495h1M245 495h1" stroke="#7c7c7c" stroke-width="1" fill="none" transform="translate(0,0.5)" shape-rendering="crispEdges"/><path d="M233 418h1M240 418h1M231 420h1M238 420h1M225 421h1M230 421h1M241 421h1M243 421h1M287 421h1M204 422h1M232 422h1M234 422h1M238 422h1M241 422h1M244 422h1M267 422h1M279 422h1M286 422h1M220 423h1M224 423h1M242 423h1M250 423h1M271 423h1M274 423h1M223 424h1M233 424h1M239 424h1M245 424h1M249 424h1M276 424h1M204 425h1M222 425h1M225 425h1M233 425h2M236 425h1M238 425h2M245 425h2M248 425h1M251 425h1M272 425h1M276 425h1M212 426h1M219 426h1M226 426h1M230 426h1M234 426h1M240 426h1M242 426h1M246 426h1M248 426h1M252 426h1M267 426h1M281 426h1M211 427h1M236 427h1M240 427h1M248 427h1M255 427h1M275 427h1M282 427h1M218 428h1M227 428h1M230 428h2M237 428h2M240 428h1M242 428h2M245 428h1M247 428h2M252 428h1M256 428h2M262 428h1M267 428h1M203 429h1M213 429h1M219 429h1M225 429h1M229 429h2M235 429h4M242 429h1M246 429h1M255 429h1M268 429h1M216 430h1M225 430h5M233 430h1M235 430h2M238 430h1M243 430h1M246 430h2M252 430h1M260 430h1M270 430h1M205 431h1M215 431h1M217 431h1M230 431h1M232 431h2M236 431h2M241 431h1M244 431h1M248 431h1M254 431h1M228 432h1M236 432h2M239 432h1M242 432h1M247 432h1M252 432h1M255 432h1M199 433h1M205 433h1M211 433h1M221 433h1M224 433h1M226 433h1M229 433h3M233 433h2M236 433h1M240 433h1M243 433h1M245 433h1M248 433h1M253 433h1M257 433h1M272 433h1M209 434h1M213 434h1M215 434h1M222 434h1M225 434h1M230 434h3M235 434h1M237 434h2M241 434h1M245 434h1M251 434h1M285 434h1M214 435h1M220 435h1M223 435h1M226 435h2M232 435h6M239 435h2M242 435h1M250 435h1M254 435h2M282 435h1M213 436h1M218 436h1M223 436h1M225 436h3M231 436h3M236 436h2M239 436h2M244 436h1M249 436h1M256 436h1M218 437h1M220 437h1M224 437h1M226 437h1M228 437h1M230 437h2M236 437h1M240 437h1M242 437h4M250 437h1M252 437h1M203 438h1M213 438h1M217 438h3M226 438h1M231 438h1M233 438h1M242 438h2M245 438h3M249 438h1M202 439h1M214 439h2M217 439h1M219 439h3M225 439h3M229 439h1M231 439h1M234 439h2M237 439h1M239 439h2M246 439h2M253 439h1M257 439h1M270 439h1M281 439h1M199 440h1M214 440h1M218 440h1M220 440h3M227 440h2M233 440h1M235 440h2M240 440h1M243 440h1M245 440h1M248 440h1M258 440h1M202 441h1M206 441h1M210 441h2M217 441h2M220 441h1M226 441h2M229 441h1M232 441h3M236 441h1M239 441h1M241 441h4M249 441h1M278 441h1M208 442h1M213 442h1M218 442h1M220 442h1M222 442h1M224 442h1M227 442h1M229 442h1M231 442h3M235 442h1M238 442h1M241 442h1M244 442h2M253 442h1M271 442h1M209 443h1M214 443h1M221 443h1M223 443h2M231 443h1M235 443h1M238 443h2M244 443h1M246 443h1M257 443h1M210 444h1M213 444h1M219 444h2M222 444h1M225 444h1M228 444h1M230 444h2M237 444h3M241 444h1M243 444h1M247 444h2M250 444h1M208 445h2M212 445h1M214 445h1M218 445h1M221 445h1M223 445h1M227 445h1M231 445h1M233 445h3M239 445h2M242 445h3M248 445h1M203 446h1M208 446h1M211 446h4M218 446h1M224 446h1M227 446h1M231 446h1M235 446h1M238 446h2M242 446h3M250 446h1M203 447h1M206 447h1M209 447h2M214 447h1M219 447h3M224 447h1M232 447h1M234 447h1M243 447h3M248 447h1M199 448h1M216 448h3M224 448h1M228 448h1M230 448h1M241 448h1M244 448h1M248 448h2M202 449h1M215 449h1M218 449h2M224 449h1M228 449h1M237 449h1M244 449h1M247 449h1M256 449h1M211 450h1M213 450h5M222 450h2M227 450h1M230 450h1M237 450h4M245 450h1M254 450h1M205 451h1M211 451h1M221 451h4M228 451h1M235 451h1M239 451h1M241 451h2M246 451h1M200 452h1M207 452h1M223 452h1M228 452h1M230 452h2M234 452h2M237 452h3M243 452h1M249 452h1M204 453h2M207 453h1M211 453h2M215 453h2M218 453h1M220 453h1M225 453h3M230 453h3M234 453h1M238 453h1M243 453h1M245 453h1M249 453h1M211 454h1M213 454h1M222 454h1M226 454h1M230 454h2M233 454h1M242 454h2M245 454h1M252 454h2M207 455h1M217 455h1M219 455h2M223 455h1M226 455h1M228 455h1M235 455h1M237 455h1M239 455h2M242 455h1M244 455h1M246 455h2M249 455h1M200 456h1M207 456h1M215 456h2M220 456h1M222 456h2M232 456h1M236 456h1M239 456h2M242 456h1M244 456h1M250 456h1M196 457h1M205 457h1M208 457h3M216 457h3M225 457h2M229 457h1M233 457h1M236 457h1M243 457h1M205 458h1M208 458h1M220 458h1M226 458h2M229 458h1M237 458h1M239 458h1M243 458h2M246 458h1M203 459h1M210 459h2M214 459h1M216 459h1M219 459h2M223 459h2M226 459h1M228 459h1M235 459h1M238 459h2M241 459h1M244 459h1M194 460h1M208 460h1M212 460h1M214 460h2M221 460h1M224 460h1M227 460h6M234 460h1M236 460h1M238 460h3M248 460h2M211 461h2M214 461h1M221 461h2M224 461h2M230 461h2M233 461h1M241 461h1M244 461h1M248 461h2M252 461h2M213 462h3M219 462h1M223 462h1M227 462h2M230 462h1M236 462h1M248 462h2M255 462h1M204 463h1M216 463h3M221 463h1M226 463h1M230 463h1M232 463h2M235 463h1M238 463h3M242 463h2M246 463h2M249 463h1M216 464h2M220 464h2M229 464h1M231 464h1M234 464h1M237 464h6M246 464h1M250 464h1M218 465h2M221 465h1M223 465h3M227 465h2M232 465h1M238 465h3M242 465h1M244 465h1M246 465h1M255 465h1M206 466h1M208 466h1M214 466h2M223 466h1M230 466h1M234 466h1M236 466h1M244 466h1M262 466h1M221 467h1M223 467h1M226 467h2M229 467h3M236 467h1M241 467h1M243 467h1M246 467h1M249 467h1M251 467h1M211 468h1M214 468h1M216 468h1M218 468h1M220 468h1M223 468h1M227 468h1M229 468h1M231 468h1M233 468h2M243 468h1M213 469h1M215 469h1M224 469h1M227 469h1M230 469h1M232 469h1M240 469h1M242 469h1M246 469h1M248 469h1M216 470h1M219 470h1M225 470h1M232 470h1M235 470h1M238 470h1M241 470h1M244 470h1M207 471h1M211 471h1M220 471h1M224 471h2M228 471h1M230 471h3M238 471h1M242 471h1M244 471h3M248 471h1M215 472h1M224 472h1M229 472h1M231 472h2M236 472h1M238 472h1M242 472h1M244 472h1M196 473h1M213 473h2M216 473h1M220 473h3M233 473h1M235 473h2M243 473h1M207 474h1M210 474h1M224 474h1M229 474h1M232 474h1M238 474h1M242 474h1M217 475h1M221 475h1M224 475h1M232 475h1M234 475h1M243 475h2M231 476h1M237 476h2M209 477h1M228 477h1M245 477h1M226 478h1M233 478h1M238 479h1M226 480h1M229 480h1M241 480h1M220 481h2M246 481h1M218 483h1M230 483h1M256 483h1M213 484h1M233 484h1M219 492h1M211 493h1" stroke="#404040" stroke-width="1" fill="none" transform="translate(0,0.5)" shape-rendering="crispEdges"/><path d="M240 425h1M225 426h1M237 426h1M234 427h1M238 427h2M241 427h1M243 427h1M253 427h1M236 428h1M239 428h1M239 429h1M243 429h3M247 429h1M253 429h1M230 430h1M232 430h1M241 430h2M248 430h1M238 431h1M245 431h1M247 431h1M252 431h1M222 432h1M233 432h1M235 432h1M238 432h1M248 432h1M285 432h1M235 433h1M237 433h3M242 433h1M250 433h1M219 434h1M223 434h1M229 434h1M233 434h1M239 434h1M242 434h1M244 434h1M246 434h1M229 435h1M231 435h1M238 435h1M241 435h1M244 435h1M247 435h3M215 436h1M229 436h2M238 436h1M241 436h3M245 436h1M247 436h2M223 437h1M225 437h1M233 437h2M237 437h2M246 437h1M210 438h1M223 438h1M227 438h2M232 438h1M238 438h1M240 438h1M222 439h2M228 439h1M230 439h1M236 439h1M238 439h1M243 439h1M217 440h1M224 440h2M231 440h1M234 440h1M237 440h3M244 440h1M246 440h1M259 440h1M214 441h1M221 441h1M224 441h2M228 441h1M225 442h2M234 442h1M236 442h1M240 442h1M243 442h1M211 443h1M215 443h1M226 443h5M233 443h2M236 443h1M240 443h2M217 444h1M223 444h1M227 444h1M229 444h1M232 444h1M234 444h3M240 444h1M217 445h1M220 445h1M222 445h1M226 445h1M228 445h2M232 445h1M237 445h2M241 445h1M210 446h1M215 446h1M220 446h2M223 446h1M226 446h1M228 446h1M230 446h1M233 446h1M237 446h1M240 446h2M216 447h2M222 447h2M225 447h2M228 447h2M231 447h1M237 447h1M241 447h1M211 448h1M215 448h1M221 448h2M227 448h1M229 448h1M232 448h2M236 448h5M245 448h1M217 449h1M220 449h1M222 449h1M225 449h2M229 449h2M232 449h4M239 449h1M241 449h1M218 450h4M224 450h3M231 450h1M233 450h1M235 450h2M249 450h1M198 451h1M214 451h1M225 451h2M231 451h2M236 451h3M240 451h1M220 452h2M225 452h2M233 452h1M240 452h1M246 452h1M213 453h2M221 453h2M224 453h1M229 453h1M233 453h1M235 453h3M239 453h1M207 454h1M216 454h3M220 454h2M224 454h1M228 454h2M232 454h1M237 454h3M249 454h1M198 455h1M218 455h1M221 455h2M224 455h1M227 455h1M229 455h3M233 455h2M236 455h1M238 455h1M208 456h1M218 456h1M224 456h2M227 456h1M229 456h2M234 456h2M237 456h2M215 457h1M219 457h1M221 457h1M224 457h1M227 457h2M230 457h1M234 457h1M237 457h1M239 457h1M242 457h1M216 458h2M222 458h2M232 458h2M249 458h1M218 459h1M221 459h1M227 459h1M230 459h1M232 459h3M236 459h2M240 459h1M226 460h1M244 460h1M210 461h1M217 461h1M220 461h1M223 461h1M226 461h2M229 461h1M235 461h3M242 461h1M212 462h1M220 462h1M224 462h2M231 462h1M234 462h2M238 462h2M219 463h2M222 463h1M228 463h1M231 463h1M234 463h1M237 463h1M213 464h1M225 464h1M228 464h1M233 464h1M252 464h1M235 465h2M241 465h1M250 465h1M222 466h1M226 466h1M228 466h2M231 466h3M235 466h1M240 466h1M224 467h1M226 468h1M228 468h1M235 468h3M216 469h1M223 469h1M226 469h1M231 469h1M233 469h1M217 470h1M228 470h1M230 470h1M234 470h1M236 470h1M240 470h1M226 471h2M247 471h1M223 472h1M226 472h1M225 473h1M227 473h1M244 474h1M225 475h1M219 476h1M247 477h1" stroke="#1c1c1c" stroke-width="1" fill="none" transform="translate(0,0.5)" shape-rendering="crispEdges"/><path d="M241 425h1M232 427h1M245 427h1M235 428h1M241 428h1M241 429h1M234 430h1M239 430h1M235 431h1M212 433h1M232 433h1M244 433h1M248 434h1M245 435h1M234 436h1M235 437h1M239 437h1M241 437h1M225 438h1M229 438h1M234 438h2M239 438h1M232 439h1M232 440h1M223 442h1M228 442h1M230 442h1M248 442h1M225 443h1M232 443h1M221 444h1M226 444h1M233 444h1M225 445h1M222 446h1M225 446h1M230 447h1M233 447h1M220 448h1M223 448h1M234 448h2M221 449h1M223 449h1M231 449h1M228 450h2M232 450h1M242 450h1M229 451h2M233 451h2M218 452h1M224 452h1M227 452h1M229 452h1M232 452h1M223 453h1M241 453h1M246 453h1M223 454h1M225 454h1M234 454h1M236 454h1M232 455h1M226 456h1M228 456h1M233 456h1M231 457h2M238 457h1M225 458h1M230 458h1M234 458h2M225 459h1M229 459h1M231 459h1M219 460h1M235 460h1M232 461h1M239 461h1M226 462h1M229 462h1M232 462h2M227 463h1M226 464h1M214 465h1M217 465h1M220 465h1M226 465h1M227 466h1M240 467h1M225 468h1M230 468h1M236 469h1M237 472h1M248 473h1M230 477h1" stroke="#000000" stroke-width="1" fill="none" transform="translate(0,0.5)" shape-rendering="crispEdges"/>
<path d="M406 391h1M393 392h1M333 394h1M366 397h1M414 397h1M400 399h1M408 400h1M360 401h2M421 401h1M361 402h1M392 402h1M397 402h1M380 403h1M386 403h1M389 403h1M407 403h1M338 404h1M380 404h1M383 404h1M387 404h1M338 405h1M378 405h1M390 405h1M337 406h1M354 406h1M367 406h1M387 406h1M394 406h1M344 407h1M381 407h1M409 407h1M347 408h1M370 408h1M380 408h1M395 408h1M340 409h1M345 409h1M353 409h3M376 409h1M379 409h1M389 409h1M392 409h1M394 409h1M352 410h1M359 410h2M363 410h1M367 410h1M370 410h2M376 410h1M381 410h1M384 410h1M388 410h1M397 410h1M355 411h1M357 411h2M366 411h1M369 411h2M376 411h1M381 411h1M388 411h1M392 411h1M394 411h1M345 412h1M367 412h1M370 412h1M375 412h1M379 412h1M381 412h2M384 412h1M387 412h1M393 412h2M400 412h1M338 413h1M351 413h1M353 413h1M356 413h1M360 413h2M365 413h1M367 413h1M370 413h4M379 413h1M384 413h1M388 413h1M392 413h1M347 414h2M355 414h1M357 414h1M360 414h1M362 414h2M367 414h2M370 414h2M373 414h1M377 414h1M379 414h1M381 414h3M385 414h1M387 414h1M389 414h1M391 414h1M393 414h2M412 414h1M347 415h1M350 415h6M359 415h1M361 415h3M368 415h1M371 415h2M374 415h3M378 415h1M386 415h2M390 415h1M393 415h2M398 415h1M426 415h1M338 416h1M344 416h2M351 416h5M358 416h1M360 416h2M365 416h1M369 416h3M375 416h4M380 416h1M382 416h2M385 416h3M389 416h1M391 416h1M394 416h1M405 416h1M348 417h1M352 417h1M356 417h2M359 417h1M361 417h1M365 417h1M368 417h2M371 417h1M373 417h1M375 417h1M383 417h1M391 417h2M399 417h1M416 417h1M331 418h1M341 418h1M344 418h1M348 418h1M351 418h1M353 418h1M359 418h2M363 418h1M366 418h1M371 418h4M376 418h3M386 418h6M394 418h2M398 418h2M406 418h1M341 419h1M345 419h1M350 419h1M352 419h1M354 419h2M364 419h1M369 419h1M374 419h1M380 419h1M383 419h1M389 419h1M391 419h2M394 419h2M397 419h1M400 419h2M415 419h1M421 419h1M337 420h1M342 420h1M344 420h1M347 420h1M349 420h3M357 420h2M360 420h1M364 420h1M372 420h1M377 420h2M385 420h1M387 420h2M394 420h1M396 420h3M402 420h1M408 420h1M334 421h2M347 421h2M351 421h3M356 421h1M358 421h1M363 421h3M368 421h1M370 421h1M383 421h1M393 421h1M395 421h1M398 421h2M401 421h2M331 422h1M339 422h1M346 422h1M348 422h1M352 422h3M356 422h1M358 422h6M370 422h1M374 422h1M381 422h1M388 422h2M391 422h1M396 422h2M399 422h2M334 423h1M339 423h1M346 423h1M349 423h1M353 423h1M358 423h2M362 423h1M365 423h1M367 423h2M371 423h1M390 423h3M394 423h1M397 423h2M401 423h1M417 423h1M335 424h1M337 424h1M351 424h1M356 424h2M362 424h1M367 424h1M370 424h1M372 424h1M390 424h1M395 424h1M398 424h1M401 424h1M330 425h1M336 425h1M342 425h2M346 425h2M354 425h1M358 425h2M363 425h1M366 425h1M373 425h2M393 425h3M397 425h1M399 425h1M412 425h1M341 426h1M343 426h1M345 426h2M348 426h1M351 426h1M355 426h3M361 426h3M366 426h1M369 426h1M371 426h1M373 426h1M384 426h1M394 426h1M396 426h1M399 426h2M427 426h1M334 427h1M338 427h1M340 427h1M342 427h1M350 427h1M355 427h1M360 427h3M364 427h1M366 427h1M368 427h1M378 427h1M394 427h3M398 427h2M402 427h1M343 428h1M350 428h2M354 428h1M356 428h3M361 428h1M364 428h3M369 428h1M374 428h1M382 428h1M391 428h1M395 428h2M398 428h1M336 429h2M341 429h1M343 429h1M348 429h2M352 429h1M355 429h2M358 429h1M361 429h1M364 429h1M367 429h1M369 429h2M379 429h1M385 429h1M388 429h1M393 429h1M403 429h1M406 429h1M334 430h1M339 430h1M342 430h1M345 430h1M347 430h1M349 430h1M355 430h1M357 430h5M364 430h1M368 430h2M373 430h1M377 430h1M379 430h2M384 430h1M331 431h1M343 431h2M347 431h1M354 431h8M363 431h1M367 431h1M369 431h1M372 431h2M379 431h1M383 431h3M387 431h2M391 431h3M397 431h1M338 432h1M340 432h1M350 432h1M354 432h1M359 432h2M362 432h1M367 432h1M370 432h1M373 432h1M378 432h2M391 432h2M400 432h1M404 432h1M338 433h1M340 433h1M345 433h1M349 433h1M354 433h1M358 433h1M361 433h1M371 433h2M374 433h2M378 433h1M380 433h1M386 433h1M389 433h3M393 433h1M406 433h1M333 434h1M336 434h2M340 434h1M346 434h1M358 434h1M365 434h1M368 434h2M371 434h3M379 434h1M384 434h1M390 434h1M392 434h1M394 434h1M330 435h1M344 435h2M351 435h1M355 435h1M365 435h1M368 435h1M370 435h1M372 435h2M376 435h2M380 435h2M386 435h2M390 435h4M395 435h1M334 436h1M345 436h2M348 436h1M355 436h1M357 436h1M359 436h2M362 436h2M366 436h1M373 436h1M376 436h1M379 436h1M384 436h1M386 436h1M389 436h4M397 436h1M406 436h1M337 437h1M342 437h1M344 437h1M348 437h1M351 437h1M355 437h3M361 437h1M368 437h1M377 437h1M380 437h1M385 437h2M390 437h1M395 437h1M397 437h1M349 438h1M357 438h6M364 438h1M366 438h1M369 438h1M384 438h1M386 438h1M388 438h2M391 438h1M395 438h1M347 439h1M359 439h2M364 439h1M366 439h1M372 439h1M374 439h1M379 439h1M383 439h1M396 439h1M399 439h2M332 440h1M354 440h1M360 440h1M363 440h1M374 440h2M377 440h3M381 440h1M385 440h1M391 440h2M400 440h2M428 440h1M344 441h1M347 441h2M350 441h2M356 441h1M359 441h2M369 441h1M372 441h1M376 441h1M383 441h1M385 441h2M394 441h1M350 442h1M354 442h1M360 442h1M363 442h1M365 442h1M368 442h1M372 442h1M380 442h1M383 442h2M388 442h1M392 442h1M333 443h2M352 443h1M354 443h1M361 443h1M364 443h1M375 443h1M386 443h2M390 443h1M402 443h2M408 443h1M359 444h1M362 444h2M367 444h2M378 444h1M380 444h1M386 444h1M388 444h1M394 444h1M330 445h1M349 445h1M374 445h1M382 445h2M387 445h1M389 445h1M391 445h1M394 445h1M396 445h1M346 446h2M360 446h3M364 446h1M368 446h1M371 446h1M377 446h1M381 446h1M385 446h1M390 446h1M398 446h1M400 446h1M332 447h1M345 447h1M353 447h1M355 447h1M362 447h1M364 447h1M380 447h1M382 447h1M386 447h1M388 447h3M396 447h1M398 447h1M346 448h1M349 448h1M358 448h2M362 448h1M368 448h1M371 448h1M378 448h1M380 448h1M382 448h1M387 448h1M394 448h1M399 448h1M416 448h1M333 449h1M338 449h1M347 449h1M353 449h1M361 449h1M367 449h1M369 449h1M375 449h1M379 449h1M381 449h1M385 449h1M387 449h1M392 449h1M394 449h1M398 449h1M340 450h1M345 450h1M350 450h2M356 450h2M362 450h1M366 450h1M379 450h2M382 450h1M386 450h1M393 450h1M395 450h1M400 450h1M402 450h1M339 451h1M344 451h1M350 451h1M353 451h1M355 451h1M359 451h2M362 451h3M367 451h1M372 451h1M377 451h3M387 451h2M393 451h1M395 451h1M397 451h1M410 451h1M330 452h1M352 452h6M360 452h2M366 452h1M369 452h1M371 452h2M378 452h1M383 452h1M386 452h1M393 452h1M396 452h2M406 452h1M341 453h1M358 453h2M371 453h2M378 453h2M386 453h1M389 453h1M392 453h2M395 453h2M398 453h1M400 453h1M414 453h1M332 454h1M334 454h1M336 454h3M346 454h1M351 454h1M353 454h1M357 454h1M360 454h2M364 454h2M367 454h1M370 454h1M374 454h2M381 454h2M396 454h1M398 454h1M331 455h1M337 455h2M340 455h1M343 455h1M352 455h2M356 455h1M361 455h1M363 455h3M368 455h2M375 455h2M379 455h1M383 455h2M386 455h2M392 455h1M396 455h1M334 456h1M338 456h1M343 456h1M347 456h1M349 456h1M352 456h1M354 456h1M357 456h3M361 456h2M364 456h1M373 456h1M376 456h2M381 456h1M384 456h1M388 456h1M390 456h2M396 456h2M401 456h1M408 456h1M344 457h2M347 457h1M349 457h1M357 457h2M360 457h1M362 457h1M364 457h2M367 457h1M369 457h1M371 457h1M379 457h1M382 457h1M384 457h1M386 457h1M390 457h1M393 457h1M430 457h1M340 458h2M343 458h1M347 458h1M353 458h1M355 458h7M364 458h2M369 458h1M371 458h1M377 458h1M380 458h4M385 458h2M390 458h2M394 458h2M398 458h1M402 458h1M419 458h1M345 459h1M348 459h1M351 459h1M353 459h1M358 459h1M363 459h2M366 459h2M370 459h1M380 459h1M382 459h1M384 459h1M389 459h1M391 459h3M395 459h1M399 459h1M401 459h1M405 459h1M341 460h1M350 460h2M360 460h1M363 460h2M366 460h2M370 460h1M375 460h1M379 460h1M382 460h2M386 460h1M388 460h1M391 460h3M395 460h1M397 460h1M406 460h1M409 460h1M433 460h1M337 461h1M340 461h1M342 461h1M345 461h1M350 461h1M352 461h4M362 461h1M364 461h3M371 461h1M375 461h1M381 461h1M383 461h2M392 461h1M401 461h1M336 462h1M338 462h2M346 462h1M348 462h1M352 462h2M356 462h1M365 462h2M368 462h2M371 462h7M382 462h1M385 462h1M388 462h1M390 462h1M392 462h1M395 462h1M398 462h1M331 463h1M333 463h1M341 463h1M344 463h4M349 463h5M357 463h1M363 463h4M370 463h2M376 463h2M379 463h1M383 463h1M385 463h1M392 463h2M396 463h1M398 463h2M401 463h1M404 463h1M410 463h1M337 464h1M344 464h1M346 464h1M349 464h1M351 464h1M360 464h1M362 464h1M365 464h1M369 464h1M373 464h4M378 464h1M381 464h1M383 464h2M386 464h3M391 464h2M394 464h2M397 464h3M402 464h1M405 464h1M330 465h1M338 465h1M344 465h1M346 465h1M348 465h1M351 465h1M353 465h1M356 465h1M358 465h1M360 465h1M364 465h1M367 465h1M373 465h1M377 465h1M383 465h1M388 465h2M394 465h1M396 465h2M339 466h2M348 466h1M353 466h2M363 466h1M365 466h1M368 466h1M378 466h1M380 466h1M383 466h1M388 466h4M394 466h1M396 466h1M399 466h1M403 466h1M343 467h1M348 467h1M353 467h1M357 467h1M362 467h1M365 467h2M371 467h5M377 467h1M379 467h1M382 467h1M385 467h2M390 467h1M392 467h1M394 467h2M398 467h1M405 467h1M414 467h1M339 468h1M341 468h1M344 468h1M348 468h1M350 468h1M354 468h1M361 468h1M367 468h1M370 468h2M374 468h4M382 468h3M386 468h1M389 468h1M392 468h1M394 468h3M398 468h1M409 468h1M333 469h1M342 469h1M344 469h1M346 469h1M349 469h1M352 469h1M354 469h1M358 469h1M367 469h1M371 469h1M373 469h1M376 469h1M380 469h5M386 469h1M388 469h1M392 469h1M394 469h1M338 470h1M341 470h1M345 470h1M347 470h2M357 470h1M359 470h1M362 470h2M368 470h4M379 470h1M381 470h1M385 470h1M388 470h1M391 470h2M396 470h2M401 470h1M412 470h1M339 471h1M345 471h1M347 471h1M349 471h1M351 471h1M359 471h1M361 471h1M370 471h1M373 471h1M375 471h1M378 471h1M381 471h1M384 471h2M390 471h2M340 472h1M344 472h3M349 472h1M351 472h2M365 472h1M369 472h1M375 472h1M378 472h1M385 472h3M390 472h1M400 472h1M405 472h1M410 472h1M429 472h1M337 473h1M341 473h1M348 473h1M350 473h2M356 473h1M358 473h3M369 473h1M371 473h3M375 473h4M381 473h1M385 473h1M394 473h1M402 473h2M341 474h1M343 474h4M352 474h1M360 474h1M365 474h1M369 474h2M372 474h1M374 474h2M377 474h1M380 474h1M382 474h3M386 474h2M389 474h1M391 474h1M393 474h3M397 474h1M404 474h1M336 475h1M342 475h2M345 475h1M350 475h2M361 475h2M366 475h2M370 475h3M375 475h3M381 475h1M385 475h2M391 475h2M394 475h2M397 475h1M401 475h2M406 475h1M409 475h1M425 475h1M337 476h1M341 476h1M343 476h1M345 476h2M348 476h1M350 476h1M363 476h1M368 476h1M370 476h4M376 476h2M380 476h1M384 476h2M391 476h1M394 476h1M396 476h1M398 476h2M402 476h1M418 476h1M337 477h1M349 477h1M352 477h1M359 477h1M365 477h1M367 477h2M371 477h2M376 477h1M379 477h2M384 477h1M396 477h2M338 478h1M345 478h1M351 478h1M362 478h1M368 478h1M370 478h1M373 478h4M378 478h1M380 478h1M382 478h1M384 478h1M386 478h3M391 478h1M395 478h1M399 478h1M402 478h2M331 479h1M337 479h1M342 479h1M346 479h1M348 479h1M353 479h2M359 479h1M361 479h1M370 479h1M374 479h2M378 479h1M382 479h2M385 479h1M387 479h1M393 479h1M395 479h3M330 480h1M336 480h2M344 480h1M346 480h2M349 480h1M351 480h2M364 480h1M369 480h1M373 480h1M384 480h1M387 480h1M391 480h1M394 480h1M397 480h1M399 480h1M401 480h1M338 481h1M341 481h3M348 481h1M353 481h1M359 481h1M362 481h1M367 481h1M372 481h1M376 481h1M380 481h1M382 481h2M389 481h2M395 481h1M397 481h1M340 482h1M342 482h2M345 482h2M348 482h2M351 482h4M356 482h1M360 482h2M364 482h1M366 482h1M368 482h1M371 482h2M379 482h1M386 482h2M389 482h1M393 482h1M396 482h2M404 482h1M346 483h1M350 483h3M356 483h1M364 483h2M367 483h1M370 483h1M374 483h1M384 483h2M390 483h1M394 483h1M396 483h1M398 483h1M407 483h1M336 484h1M339 484h1M347 484h1M349 484h2M353 484h1M359 484h6M366 484h4M372 484h1M375 484h1M380 484h1M382 484h1M384 484h2M389 484h1M395 484h1M399 484h2M405 484h1M416 484h1M335 485h2M343 485h1M345 485h1M347 485h1M351 485h1M356 485h1M358 485h1M360 485h2M368 485h8M380 485h1M382 485h2M385 485h2M388 485h1M391 485h1M393 485h1M399 485h1M402 485h1M415 485h1M334 486h1M337 486h3M342 486h1M344 486h1M346 486h1M348 486h1M352 486h4M361 486h1M363 486h1M368 486h1M371 486h5M382 486h1M385 486h1M387 486h1M389 486h2M393 486h1M405 486h1M344 487h2M347 487h1M349 487h1M354 487h1M356 487h1M358 487h2M362 487h1M364 487h3M368 487h1M371 487h3M377 487h1M383 487h1M387 487h1M399 487h1M346 488h1M350 488h2M356 488h6M365 488h1M367 488h1M373 488h1M375 488h3M380 488h1M389 488h2M392 488h4M341 489h1M343 489h1M346 489h2M354 489h1M356 489h4M362 489h2M367 489h1M385 489h1M388 489h2M393 489h1M398 489h1M433 489h1M337 490h1M343 490h1M345 490h1M351 490h4M357 490h1M359 490h2M362 490h2M366 490h2M369 490h2M381 490h1M383 490h2M388 490h1M390 490h2M395 490h1M400 490h1M403 490h1M336 491h2M344 491h1M347 491h2M351 491h2M356 491h1M359 491h1M366 491h2M369 491h2M377 491h2M384 491h1M389 491h2M393 491h1M396 491h1M346 492h1M349 492h1M352 492h2M356 492h2M359 492h1M361 492h1M364 492h1M366 492h1M369 492h1M371 492h1M376 492h1M385 492h1M397 492h2M400 492h2M425 492h1M332 493h1M352 493h1M357 493h2M361 493h1M367 493h3M387 493h2M390 493h1M397 493h1M404 493h1" stroke="#7c7c7c" stroke-width="1" fill="none" transform="translate(0,0.5)" shape-rendering="crispEdges"/><path d="M380 411h1M361 412h1M373 412h1M352 413h1M374 413h2M382 413h1M387 413h1M358 414h2M361 414h1M365 414h1M369 414h1M375 414h1M378 414h1M390 414h1M358 415h1M360 415h1M367 415h1M373 415h1M379 415h1M383 415h3M356 416h2M362 416h3M366 416h2M372 416h3M379 416h1M381 416h1M384 416h1M388 416h1M353 417h1M362 417h3M367 417h1M374 417h1M377 417h1M379 417h1M381 417h2M384 417h1M387 417h1M390 417h1M393 417h1M347 418h1M349 418h1M355 418h3M361 418h1M364 418h2M369 418h2M383 418h2M351 419h1M356 419h1M360 419h1M372 419h2M376 419h2M381 419h1M384 419h1M386 419h2M390 419h1M393 419h1M341 420h1M348 420h1M353 420h1M355 420h1M359 420h1M362 420h1M367 420h5M374 420h3M379 420h2M393 420h1M357 421h1M366 421h1M371 421h2M375 421h1M378 421h3M382 421h1M384 421h1M386 421h2M389 421h1M391 421h2M349 422h1M355 422h1M365 422h1M367 422h1M369 422h1M372 422h1M375 422h1M377 422h1M379 422h2M384 422h1M394 422h2M351 423h1M356 423h1M364 423h1M366 423h1M369 423h1M372 423h2M385 423h1M388 423h1M347 424h1M358 424h1M360 424h2M363 424h4M368 424h2M375 424h3M380 424h1M382 424h1M385 424h2M388 424h1M392 424h1M396 424h1M350 425h3M356 425h2M360 425h3M364 425h1M368 425h1M370 425h1M372 425h1M375 425h1M378 425h1M384 425h2M390 425h2M396 425h1M347 426h1M354 426h1M358 426h1M360 426h1M364 426h2M367 426h2M370 426h1M374 426h2M377 426h3M381 426h1M385 426h4M391 426h1M348 427h2M359 427h1M365 427h1M367 427h1M370 427h2M379 427h2M386 427h2M389 427h1M392 427h1M352 428h1M355 428h1M359 428h2M367 428h1M375 428h1M377 428h3M394 428h1M332 429h1M357 429h1M362 429h1M366 429h1M371 429h1M373 429h2M377 429h1M380 429h1M384 429h1M386 429h2M389 429h1M391 429h1M394 429h1M341 430h1M367 430h1M370 430h1M372 430h1M375 430h1M378 430h1M383 430h1M385 430h1M387 430h1M389 430h1M391 430h1M394 430h1M398 430h1M364 431h1M366 431h1M382 431h1M390 431h1M355 432h1M365 432h2M369 432h1M371 432h2M375 432h2M380 432h2M384 432h3M388 432h1M390 432h1M397 432h2M356 433h1M363 433h1M373 433h1M376 433h2M379 433h1M381 433h1M384 433h1M388 433h1M392 433h1M348 434h1M380 434h2M385 434h2M388 434h1M397 434h1M378 435h2M383 435h2M358 436h1M370 436h1M374 436h1M381 436h1M387 436h1M394 437h1M390 438h1M384 439h1M388 439h1M397 439h1M356 440h1M390 440h1M374 441h1M389 441h1M344 442h1M391 442h1M388 443h1M374 444h1M389 444h1M397 444h1M363 445h1M384 445h1M390 445h1M367 446h1M354 447h1M366 447h1M369 447h2M384 447h1M373 448h1M359 449h1M362 449h1M371 449h1M384 449h1M391 449h1M393 449h1M397 449h1M399 449h1M352 450h1M359 450h1M363 450h1M382 451h1M396 451h1M362 452h1M381 452h1M387 452h1M362 453h1M366 453h1M394 453h1M355 454h1M366 454h1M394 454h1M348 455h1M354 455h2M358 455h2M362 455h1M367 455h1M388 455h1M360 456h1M365 456h2M368 456h1M395 456h1M346 457h1M353 457h2M359 457h1M361 457h1M366 457h1M368 457h1M346 458h1M350 458h2M354 458h1M366 458h1M370 458h1M375 458h1M379 458h1M384 458h1M397 458h1M354 459h3M359 459h3M373 459h1M388 459h1M394 459h1M402 459h1M346 460h1M349 460h1M353 460h7M362 460h1M365 460h1M368 460h2M372 460h1M376 460h1M343 461h1M356 461h2M359 461h1M368 461h1M372 461h1M389 461h1M391 461h1M393 461h1M398 461h1M337 462h1M350 462h1M355 462h1M361 462h1M364 462h1M367 462h1M387 462h1M348 463h1M362 463h1M391 463h1M394 463h2M397 463h1M345 464h1M355 464h1M357 464h1M359 464h1M361 464h1M363 464h2M367 464h2M371 464h1M377 464h1M380 464h1M393 464h1M343 465h1M349 465h2M354 465h1M357 465h1M359 465h1M363 465h1M365 465h2M369 465h1M371 465h1M344 466h1M347 466h1M349 466h4M356 466h1M359 466h1M362 466h1M366 466h1M369 466h1M371 466h1M373 466h1M385 466h1M387 466h1M400 466h1M346 467h1M349 467h1M351 467h1M355 467h1M358 467h1M367 467h1M369 467h1M381 467h1M387 467h1M349 468h1M351 468h2M359 468h2M363 468h2M366 468h1M368 468h1M372 468h2M387 468h1M397 468h1M399 468h1M350 469h2M353 469h1M355 469h3M362 469h3M366 469h1M368 469h3M387 469h1M398 469h1M350 470h1M353 470h1M360 470h2M365 470h1M372 470h1M374 470h1M378 470h1M393 470h1M343 471h1M346 471h1M348 471h1M350 471h1M352 471h1M354 471h5M362 471h3M366 471h1M368 471h1M371 471h2M388 471h2M393 471h1M396 471h1M347 472h1M350 472h1M353 472h1M357 472h1M362 472h1M366 472h3M370 472h2M379 472h1M384 472h1M393 472h1M343 473h1M352 473h1M354 473h1M357 473h1M365 473h1M368 473h1M382 473h1M389 473h1M395 473h1M350 474h2M354 474h3M358 474h2M362 474h3M367 474h1M378 474h2M390 474h1M396 474h1M401 474h1M341 475h1M344 475h1M353 475h1M355 475h6M365 475h1M368 475h2M374 475h1M382 475h1M403 475h1M344 476h1M349 476h1M351 476h1M360 476h3M367 476h1M383 476h1M348 477h1M350 477h1M353 477h1M355 477h4M366 477h1M369 477h2M373 477h1M394 477h1M341 478h1M344 478h1M349 478h1M353 478h1M355 478h6M363 478h1M365 478h3M369 478h1M389 478h1M394 478h1M350 479h1M352 479h1M357 479h2M360 479h1M363 479h5M369 479h1M388 479h1M391 479h1M394 479h1M400 479h1M343 480h1M353 480h2M356 480h1M358 480h1M360 480h1M362 480h2M365 480h1M367 480h2M370 480h1M372 480h1M351 481h2M356 481h3M364 481h1M369 481h1M373 481h1M386 481h1M396 481h1M350 482h1M355 482h1M358 482h1M362 482h2M365 482h1M370 482h1M392 482h1M342 483h1M347 483h1M353 483h3M359 483h3M363 483h1M368 483h1M395 483h1M343 484h1M351 484h2M355 484h1M358 484h1M365 484h1M371 484h1M349 485h1M352 485h1M355 485h1M357 485h1M362 485h2M365 485h1M384 485h1M347 486h1M358 486h1M365 486h1M370 486h1M357 487h1M360 487h2M381 487h1M394 487h1M349 488h1M352 488h2M362 488h1M364 488h1M369 488h1M384 488h1M380 489h1M355 490h1M353 491h2M362 492h1M387 492h1M356 493h1M403 493h1" stroke="#404040" stroke-width="1" fill="none" transform="translate(0,0.5)" shape-rendering="crispEdges"/><path d="M381 415h1M368 416h1M347 417h1M366 417h1M376 417h1M378 417h1M380 417h1M388 417h1M362 418h1M367 418h2M375 418h1M381 418h2M362 419h1M365 419h4M371 419h1M375 419h1M382 419h1M385 419h1M352 420h1M356 420h1M361 420h1M365 420h2M381 420h2M384 420h1M386 420h1M361 421h1M367 421h1M381 421h1M388 421h1M364 422h1M368 422h1M376 422h1M378 422h1M382 422h1M385 422h2M390 422h1M392 422h1M398 422h1M360 423h1M363 423h1M374 423h2M378 423h2M381 423h2M384 423h1M389 423h1M395 423h1M359 424h1M371 424h1M373 424h2M378 424h2M384 424h1M387 424h1M389 424h1M391 424h1M365 425h1M371 425h1M376 425h1M381 425h3M386 425h1M392 425h1M372 426h1M376 426h1M382 426h2M389 426h2M352 427h2M372 427h2M382 427h1M388 427h1M390 427h2M368 428h1M370 428h2M373 428h1M380 428h2M383 428h3M387 428h1M389 428h1M392 428h2M360 429h1M368 429h1M372 429h1M375 429h2M381 429h3M371 430h1M374 430h1M376 430h1M381 430h2M386 430h1M388 430h1M390 430h1M371 431h1M374 431h1M378 431h1M380 431h2M386 431h1M389 431h1M374 432h1M377 432h1M383 432h1M387 432h1M369 433h1M382 433h1M385 433h1M387 433h1M357 434h1M376 434h1M389 434h1M382 435h1M387 438h1M350 456h1M363 458h1M349 461h1M360 461h2M363 461h1M351 462h1M357 462h2M360 462h1M362 462h2M370 462h1M394 462h1M354 463h3M358 463h1M361 463h1M368 463h1M347 464h2M354 464h1M356 464h1M366 464h1M390 464h1M352 465h1M355 465h1M361 465h2M368 465h1M355 466h1M357 466h1M360 466h2M364 466h1M350 467h1M354 467h1M356 467h1M359 467h1M361 467h1M364 467h1M368 467h1M370 467h1M353 468h1M356 468h1M358 468h1M362 468h1M365 468h1M378 468h1M393 468h1M343 469h1M348 469h1M359 469h3M365 469h1M351 470h2M358 470h1M366 470h1M353 471h1M365 471h1M369 471h1M392 471h1M398 471h1M342 472h1M354 472h2M358 472h3M364 472h1M372 472h1M347 473h1M353 473h1M361 473h3M366 473h2M370 473h1M374 473h1M347 474h1M349 474h1M353 474h1M361 474h1M366 474h1M368 474h1M346 475h1M348 475h2M352 475h1M354 475h1M363 475h2M353 476h1M356 476h4M364 476h2M342 477h1M345 477h1M354 477h1M361 477h2M364 477h1M350 478h1M354 478h1M361 478h1M364 478h1M347 479h1M351 479h1M355 479h1M362 479h1M348 480h1M355 480h1M357 480h1M359 480h1M350 481h1M354 481h2M360 481h1M366 481h1M375 482h1M357 483h2M362 483h1M356 484h1M359 485h1M351 486h1M355 489h1M360 489h1" stroke="#1c1c1c" stroke-width="1" fill="none" transform="translate(0,0.5)" shape-rendering="crispEdges"/><path d="M382 415h1M372 417h1M354 418h1M380 418h1M370 419h1M378 419h2M390 420h1M359 421h1M369 421h1M373 421h2M376 421h2M385 421h1M366 422h1M373 422h1M383 422h1M387 422h1M376 423h2M380 423h1M383 423h1M386 423h2M381 424h1M383 424h1M367 425h1M369 425h1M377 425h1M379 425h2M387 425h3M380 426h1M363 427h1M374 427h4M381 427h1M383 427h3M363 428h1M372 428h1M376 428h1M386 428h1M388 428h1M390 428h1M378 429h1M390 429h1M376 431h1M382 432h1M366 455h1M358 464h1M355 468h1M357 468h1M355 470h1M360 471h1M356 472h1M355 473h1M364 473h1M357 474h1M354 476h2M351 477h1M352 478h1M356 479h1M361 481h1M363 481h1" stroke="#000000" stroke-width="1" fill="none" transform="translate(0,0.5)" shape-rendering="crispEdges"/></g>
<text x="8.2" y="19.3" font-size="12.5" text-anchor="start" font-weight="bold" fill="#000" >A</text>
<line x1="53.30" y1="31.00" x2="53.30" y2="165.20" stroke="#111" stroke-width="1.40"/>
<line x1="50.00" y1="164.60" x2="240.20" y2="164.60" stroke="#111" stroke-width="1.30"/>
<line x1="50.00" y1="164.90" x2="53.30" y2="164.90" stroke="#111" stroke-width="1.30"/>
<text x="46.4" y="168.0" font-size="9.3" text-anchor="end" font-weight="normal" fill="#222" >0</text>
<line x1="50.00" y1="121.38" x2="53.30" y2="121.38" stroke="#111" stroke-width="1.30"/>
<text x="46.4" y="124.5" font-size="9.3" text-anchor="end" font-weight="normal" fill="#222" >25</text>
<line x1="50.00" y1="77.85" x2="53.30" y2="77.85" stroke="#111" stroke-width="1.30"/>
<text x="46.4" y="80.9" font-size="9.3" text-anchor="end" font-weight="normal" fill="#222" >50</text>
<line x1="50.00" y1="34.32" x2="53.30" y2="34.32" stroke="#111" stroke-width="1.30"/>
<text x="46.4" y="37.4" font-size="9.3" text-anchor="end" font-weight="normal" fill="#222" >75</text>
<line x1="84.40" y1="164.60" x2="84.40" y2="167.80" stroke="#111" stroke-width="1.30"/>
<text x="84.4" y="179.3" font-size="9.5" text-anchor="middle" font-weight="normal" fill="#222" >LMC</text>
<line x1="146.50" y1="164.60" x2="146.50" y2="167.80" stroke="#111" stroke-width="1.30"/>
<text x="146.5" y="179.3" font-size="9.5" text-anchor="middle" font-weight="normal" fill="#222" >mb1</text>
<line x1="208.70" y1="164.60" x2="208.70" y2="167.80" stroke="#111" stroke-width="1.30"/>
<text x="208.7" y="179.3" font-size="9.5" text-anchor="middle" font-weight="normal" fill="#222" >CD21</text>
<text transform="translate(29.8,97.7) rotate(-90) scale(0.82,1)" font-size="9.3" text-anchor="middle" fill="#1a1a1a" stroke="#1a1a1a" stroke-width="0.3">% CD19<tspan font-size="6.5" dy="-3.3">+</tspan><tspan dy="3.3"> cells</tspan></text>
<line x1="81.20" y1="38.80" x2="203.90" y2="38.80" stroke="#444" stroke-width="1.10"/>
<text x="142.6" y="35.4" font-size="8.4" text-anchor="middle" font-weight="normal" fill="#222" >NS</text>
<line x1="81.10" y1="58.50" x2="148.60" y2="58.50" stroke="#333" stroke-width="1.10"/>
<circle cx="111.5" cy="53.9" r="0.95" fill="#222"/>
<circle cx="114.7" cy="53.9" r="0.95" fill="#222"/>
<circle cx="118.0" cy="53.9" r="0.95" fill="#222"/>
<circle cx="84.3" cy="67.3" r="1.9" fill="none" stroke="#be2b4f" stroke-width="1.3"/>
<circle cx="84.3" cy="76.0" r="1.9" fill="none" stroke="#be2b4f" stroke-width="1.3"/>
<circle cx="75.9" cy="82.7" r="1.9" fill="none" stroke="#be2b4f" stroke-width="1.3"/>
<circle cx="81.5" cy="84.4" r="1.9" fill="none" stroke="#be2b4f" stroke-width="1.3"/>
<circle cx="92.9" cy="83.6" r="1.9" fill="none" stroke="#be2b4f" stroke-width="1.3"/>
<circle cx="87.3" cy="88.1" r="1.9" fill="none" stroke="#be2b4f" stroke-width="1.3"/>
<circle cx="78.8" cy="91.9" r="1.9" fill="none" stroke="#be2b4f" stroke-width="1.3"/>
<circle cx="90.2" cy="92.6" r="1.9" fill="none" stroke="#be2b4f" stroke-width="1.3"/>
<circle cx="84.3" cy="94.7" r="1.9" fill="none" stroke="#be2b4f" stroke-width="1.3"/>
<circle cx="70.4" cy="100.1" r="1.9" fill="none" stroke="#be2b4f" stroke-width="1.3"/>
<circle cx="95.5" cy="99.7" r="1.9" fill="none" stroke="#be2b4f" stroke-width="1.3"/>
<circle cx="76.2" cy="103.9" r="1.9" fill="none" stroke="#be2b4f" stroke-width="1.3"/>
<circle cx="89.8" cy="101.7" r="1.9" fill="none" stroke="#be2b4f" stroke-width="1.3"/>
<circle cx="84.3" cy="105.3" r="1.9" fill="none" stroke="#be2b4f" stroke-width="1.3"/>
<circle cx="78.8" cy="109.2" r="1.9" fill="none" stroke="#be2b4f" stroke-width="1.3"/>
<circle cx="84.3" cy="113.3" r="1.9" fill="none" stroke="#be2b4f" stroke-width="1.3"/>
<circle cx="90.0" cy="112.7" r="1.9" fill="none" stroke="#be2b4f" stroke-width="1.3"/>
<line x1="63.80" y1="94.70" x2="105.00" y2="94.70" stroke="#111" stroke-width="1.30"/>
<line x1="74.40" y1="81.30" x2="94.60" y2="81.30" stroke="#222" stroke-width="1.10"/>
<line x1="74.40" y1="107.50" x2="94.60" y2="107.50" stroke="#222" stroke-width="1.10"/>
<line x1="84.40" y1="81.30" x2="84.40" y2="107.50" stroke="#222" stroke-width="1.10"/>
<line x1="126.00" y1="143.20" x2="167.60" y2="143.20" stroke="#111" stroke-width="1.30"/>
<line x1="136.20" y1="128.20" x2="156.70" y2="128.20" stroke="#222" stroke-width="1.10"/>
<line x1="136.20" y1="158.20" x2="156.70" y2="158.20" stroke="#222" stroke-width="1.10"/>
<line x1="146.50" y1="128.20" x2="146.50" y2="158.20" stroke="#222" stroke-width="1.10"/>
<circle cx="146.5" cy="114.2" r="1.9" fill="#1d3b85"/>
<circle cx="149.6" cy="131.2" r="1.9" fill="#1d3b85"/>
<circle cx="143.8" cy="135.3" r="1.9" fill="#1d3b85"/>
<circle cx="143.8" cy="147.8" r="1.9" fill="#1d3b85"/>
<circle cx="149.6" cy="151.3" r="1.9" fill="#1d3b85"/>
<circle cx="141.2" cy="153.4" r="1.9" fill="#1d3b85"/>
<circle cx="152.6" cy="154.1" r="1.9" fill="#1d3b85"/>
<circle cx="146.5" cy="158.3" r="1.9" fill="#1d3b85"/>
<line x1="187.90" y1="82.20" x2="229.60" y2="82.20" stroke="#111" stroke-width="1.30"/>
<line x1="198.30" y1="60.10" x2="219.10" y2="60.10" stroke="#222" stroke-width="1.10"/>
<line x1="198.30" y1="104.50" x2="219.10" y2="104.50" stroke="#222" stroke-width="1.10"/>
<line x1="208.80" y1="60.10" x2="208.80" y2="104.50" stroke="#444" stroke-width="1.10"/>
<rect x="206.8" y="53.0" width="4" height="4" fill="#5aa22f"/>
<rect x="206.8" y="61.3" width="4" height="4" fill="#5aa22f"/>
<rect x="206.8" y="86.2" width="4" height="4" fill="#5aa22f"/>
<rect x="209.5" y="98.5" width="4" height="4" fill="#5aa22f"/>
<rect x="203.7" y="102.0" width="4" height="4" fill="#5aa22f"/>
<text x="258.0" y="19.4" font-size="12.5" text-anchor="start" font-weight="bold" fill="#000" >B</text>
<line x1="303.50" y1="28.10" x2="303.50" y2="165.10" stroke="#111" stroke-width="1.40"/>
<line x1="300.00" y1="164.50" x2="512.00" y2="164.50" stroke="#111" stroke-width="1.30"/>
<line x1="300.00" y1="164.50" x2="303.50" y2="164.50" stroke="#111" stroke-width="1.30"/>
<text x="296.4" y="167.6" font-size="9.3" text-anchor="end" font-weight="normal" fill="#222" >0</text>
<line x1="300.00" y1="137.84" x2="303.50" y2="137.84" stroke="#111" stroke-width="1.30"/>
<text x="296.4" y="140.9" font-size="9.3" text-anchor="end" font-weight="normal" fill="#222" >2</text>
<line x1="300.00" y1="111.18" x2="303.50" y2="111.18" stroke="#111" stroke-width="1.30"/>
<text x="296.4" y="114.3" font-size="9.3" text-anchor="end" font-weight="normal" fill="#222" >4</text>
<line x1="300.00" y1="84.52" x2="303.50" y2="84.52" stroke="#111" stroke-width="1.30"/>
<text x="296.4" y="87.6" font-size="9.3" text-anchor="end" font-weight="normal" fill="#222" >6</text>
<line x1="300.00" y1="57.86" x2="303.50" y2="57.86" stroke="#111" stroke-width="1.30"/>
<text x="296.4" y="61.0" font-size="9.3" text-anchor="end" font-weight="normal" fill="#222" >8</text>
<line x1="300.00" y1="31.20" x2="303.50" y2="31.20" stroke="#111" stroke-width="1.30"/>
<text x="296.4" y="34.3" font-size="9.3" text-anchor="end" font-weight="normal" fill="#222" >10</text>
<line x1="338.00" y1="164.50" x2="338.00" y2="167.80" stroke="#111" stroke-width="1.30"/>
<text x="338.0" y="179.6" font-size="9.5" text-anchor="middle" font-weight="normal" fill="#222" >LMC</text>
<line x1="407.50" y1="164.50" x2="407.50" y2="167.80" stroke="#111" stroke-width="1.30"/>
<text x="407.5" y="179.6" font-size="9.5" text-anchor="middle" font-weight="normal" fill="#222" >mb1</text>
<line x1="476.80" y1="164.50" x2="476.80" y2="167.80" stroke="#111" stroke-width="1.30"/>
<text x="476.8" y="179.6" font-size="9.5" text-anchor="middle" font-weight="normal" fill="#222" >CD21</text>
<text transform="translate(279.2,96) rotate(-90) scale(0.80,1)" font-size="9.3" text-anchor="middle" fill="#1a1a1a" stroke="#1a1a1a" stroke-width="0.3">Number CD19<tspan font-size="6.5" dy="-3.3">+</tspan><tspan dy="3.3"> cells (x10</tspan><tspan font-size="6.5" dy="-3.3">7</tspan><tspan dy="3.3">)</tspan></text>
<line x1="334.20" y1="26.30" x2="477.10" y2="26.30" stroke="#333" stroke-width="1.20"/>
<circle cx="405.9" cy="21.9" r="0.95" fill="#222"/>
<line x1="335.10" y1="73.80" x2="409.00" y2="73.80" stroke="#666" stroke-width="1.30"/>
<circle cx="368.8" cy="69.4" r="0.95" fill="#222"/>
<circle cx="372.0" cy="69.4" r="0.95" fill="#222"/>
<circle cx="375.2" cy="69.4" r="0.95" fill="#222"/>
<circle cx="338.1" cy="103.1" r="1.9" fill="none" stroke="#be2b4f" stroke-width="1.3"/>
<circle cx="341.3" cy="107.8" r="1.9" fill="none" stroke="#be2b4f" stroke-width="1.3"/>
<circle cx="334.7" cy="111.3" r="1.9" fill="none" stroke="#be2b4f" stroke-width="1.3"/>
<circle cx="318.2" cy="114.6" r="1.9" fill="none" stroke="#be2b4f" stroke-width="1.3"/>
<circle cx="358.1" cy="114.6" r="1.9" fill="none" stroke="#be2b4f" stroke-width="1.3"/>
<circle cx="324.0" cy="116.2" r="1.9" fill="none" stroke="#be2b4f" stroke-width="1.3"/>
<circle cx="329.3" cy="117.3" r="1.9" fill="none" stroke="#be2b4f" stroke-width="1.3"/>
<circle cx="335.3" cy="117.9" r="1.9" fill="none" stroke="#be2b4f" stroke-width="1.3"/>
<circle cx="341.0" cy="117.9" r="1.9" fill="none" stroke="#be2b4f" stroke-width="1.3"/>
<circle cx="346.8" cy="117.3" r="1.9" fill="none" stroke="#be2b4f" stroke-width="1.3"/>
<circle cx="352.5" cy="116.6" r="1.9" fill="none" stroke="#be2b4f" stroke-width="1.3"/>
<circle cx="322.5" cy="122.0" r="1.9" fill="none" stroke="#be2b4f" stroke-width="1.3"/>
<circle cx="328.3" cy="123.9" r="1.9" fill="none" stroke="#be2b4f" stroke-width="1.3"/>
<circle cx="334.7" cy="126.3" r="1.9" fill="none" stroke="#be2b4f" stroke-width="1.3"/>
<circle cx="341.0" cy="124.3" r="1.9" fill="none" stroke="#be2b4f" stroke-width="1.3"/>
<circle cx="347.4" cy="122.6" r="1.9" fill="none" stroke="#be2b4f" stroke-width="1.3"/>
<circle cx="353.8" cy="121.0" r="1.9" fill="none" stroke="#be2b4f" stroke-width="1.3"/>
<line x1="315.10" y1="117.60" x2="361.20" y2="117.60" stroke="#111" stroke-width="1.30"/>
<line x1="328.00" y1="116.30" x2="348.00" y2="116.30" stroke="#333" stroke-width="0.90"/>
<line x1="328.00" y1="119.00" x2="348.00" y2="119.00" stroke="#333" stroke-width="0.90"/>
<line x1="384.40" y1="154.30" x2="430.60" y2="154.30" stroke="#111" stroke-width="1.30"/>
<line x1="396.20" y1="151.20" x2="418.60" y2="151.20" stroke="#222" stroke-width="1.10"/>
<line x1="396.20" y1="157.50" x2="418.60" y2="157.50" stroke="#222" stroke-width="1.10"/>
<line x1="407.50" y1="151.20" x2="407.50" y2="157.50" stroke="#222" stroke-width="1.10"/>
<circle cx="407.5" cy="136.1" r="1.9" fill="#1d3b85"/>
<circle cx="407.5" cy="149.5" r="1.9" fill="#1d3b85"/>
<circle cx="413.8" cy="152.9" r="1.9" fill="#1d3b85"/>
<circle cx="398.2" cy="155.8" r="1.9" fill="#1d3b85"/>
<circle cx="407.5" cy="156.2" r="1.9" fill="#1d3b85"/>
<circle cx="401.2" cy="160.1" r="1.9" fill="#1d3b85"/>
<circle cx="413.8" cy="161.3" r="1.9" fill="#1d3b85"/>
<circle cx="407.5" cy="163.3" r="1.9" fill="#1d3b85"/>
<line x1="453.80" y1="93.30" x2="500.00" y2="93.30" stroke="#111" stroke-width="1.30"/>
<line x1="465.40" y1="77.40" x2="488.20" y2="77.40" stroke="#222" stroke-width="1.10"/>
<line x1="465.40" y1="109.10" x2="488.20" y2="109.10" stroke="#222" stroke-width="1.10"/>
<line x1="476.80" y1="77.40" x2="476.80" y2="109.10" stroke="#444" stroke-width="1.10"/>
<rect x="474.8" y="32.9" width="4" height="4" fill="#5aa22f"/>
<rect x="474.8" y="89.3" width="4" height="4" fill="#5aa22f"/>
<rect x="474.8" y="100.1" width="4" height="4" fill="#5aa22f"/>
<rect x="474.8" y="107.8" width="4" height="4" fill="#5aa22f"/>
<rect x="474.8" y="126.4" width="4" height="4" fill="#5aa22f"/>
<text x="8.2" y="210.3" font-size="12.5" text-anchor="start" font-weight="bold" fill="#000" >C</text>
<rect x="58.2" y="239.2" width="103.2" height="106.1" fill="none" stroke="#666" stroke-width="1.00"/>
<rect x="57.8" y="396.5" width="100.7" height="99.9" fill="none" stroke="#666" stroke-width="1.00"/>
<rect x="193.5" y="239.4" width="109.1" height="105.5" fill="none" stroke="#666" stroke-width="1.00"/>
<rect x="192.7" y="390.2" width="110.6" height="106.5" fill="none" stroke="#666" stroke-width="1.00"/>
<rect x="330.3" y="238.9" width="107.2" height="105.7" fill="none" stroke="#666" stroke-width="1.00"/>
<rect x="329.8" y="388.9" width="106.7" height="105.8" fill="none" stroke="#666" stroke-width="1.00"/>
<line x1="53.10" y1="237.30" x2="53.10" y2="502.20" stroke="#444" stroke-width="1.50"/><path d="M53.10 233.30L55.80 239.10L53.10 237.90L50.40 239.10Z" fill="#000"/>
<line x1="52.30" y1="501.70" x2="161.30" y2="501.70" stroke="#333" stroke-width="1.40"/><path d="M165.30 501.70L159.50 504.30L160.70 501.70L159.50 499.10Z" fill="#000"/>
<line x1="187.60" y1="237.70" x2="187.60" y2="502.20" stroke="#444" stroke-width="1.50"/><path d="M187.60 233.70L190.30 239.50L187.60 238.30L184.90 239.50Z" fill="#000"/>
<line x1="186.80" y1="501.70" x2="296.00" y2="501.70" stroke="#333" stroke-width="1.40"/><path d="M300.00 501.70L294.20 504.30L295.40 501.70L294.20 499.10Z" fill="#000"/>
<line x1="324.50" y1="237.20" x2="324.50" y2="502.20" stroke="#444" stroke-width="1.50"/><path d="M324.50 233.20L327.20 239.00L324.50 237.80L321.80 239.00Z" fill="#000"/>
<line x1="323.70" y1="501.70" x2="432.60" y2="501.70" stroke="#333" stroke-width="1.40"/><path d="M436.60 501.70L430.80 504.30L432.00 501.70L430.80 499.10Z" fill="#000"/>
<rect x="75.8" y="251.4" width="43.2" height="29.1" fill="none" stroke="#000" stroke-width="1.50"/>
<rect x="122.7" y="251.4" width="18.2" height="29.1" fill="none" stroke="#000" stroke-width="1.50"/>
<rect x="78.6" y="409.8" width="41.8" height="27.5" fill="none" stroke="#000" stroke-width="1.50"/>
<rect x="123.9" y="409.8" width="16.5" height="27.5" fill="none" stroke="#000" stroke-width="1.50"/>
<rect x="210.6" y="263.5" width="41.9" height="23.5" fill="none" stroke="#000" stroke-width="1.50"/>
<rect x="210.6" y="288.4" width="41.9" height="44.9" fill="none" stroke="#000" stroke-width="1.50"/>
<rect x="255.4" y="263.5" width="41.5" height="26.4" fill="none" stroke="#000" stroke-width="1.50"/>
<rect x="210.2" y="414.6" width="42.1" height="23.8" fill="none" stroke="#000" stroke-width="1.50"/>
<rect x="210.2" y="439.8" width="42.1" height="45.2" fill="none" stroke="#000" stroke-width="1.50"/>
<rect x="255.7" y="414.6" width="41.8" height="27.1" fill="none" stroke="#000" stroke-width="1.50"/>
<polygon points="356.0,262.2 402.6,262.0 393.0,282.2 344.5,282.2" fill="none" stroke="#000" stroke-width="1.50" stroke-linejoin="miter"/>
<polygon points="410.2,272.4 384.8,291.3 377.6,314.0 377.4,344.6 411.6,344.6" fill="none" stroke="#000" stroke-width="1.50" stroke-linejoin="miter"/>
<rect x="337.8" y="309.4" width="36.4" height="35.2" fill="none" stroke="#000" stroke-width="1.50"/>
<polygon points="356.4,411.0 402.4,409.6 390.4,435.4 342.6,435.6" fill="none" stroke="#000" stroke-width="1.50" stroke-linejoin="miter"/>
<polygon points="410.5,420.4 380.8,445.0 377.8,455.0 377.8,494.7 411.2,494.7" fill="none" stroke="#000" stroke-width="1.50" stroke-linejoin="miter"/>
<rect x="336.8" y="460.1" width="36.7" height="34.6" fill="none" stroke="#000" stroke-width="1.50"/>
<text x="87.3" y="220.2" font-size="11.3" text-anchor="middle" font-weight="normal" fill="#111" stroke="#111" stroke-width="0.25">B220+</text>
<text x="87.3" y="232.7" font-size="11.1" text-anchor="middle" font-weight="normal" fill="#111" stroke="#111" stroke-width="0.25">CD43-</text>
<text x="136.6" y="220.2" font-size="11.3" text-anchor="middle" font-weight="normal" fill="#111" stroke="#111" stroke-width="0.25">B220+</text>
<text x="136.6" y="232.7" font-size="11.1" text-anchor="middle" font-weight="normal" fill="#111" stroke="#111" stroke-width="0.25">CD43+</text>
<text x="87.4" y="377.2" font-size="11.3" text-anchor="middle" font-weight="normal" fill="#111" stroke="#111" stroke-width="0.25">B220+</text>
<text x="87.4" y="390.3" font-size="11.1" text-anchor="middle" font-weight="normal" fill="#111" stroke="#111" stroke-width="0.25">CD43-</text>
<text x="136.6" y="377.2" font-size="11.3" text-anchor="middle" font-weight="normal" fill="#111" stroke="#111" stroke-width="0.25">B220+</text>
<text x="136.6" y="390.3" font-size="11.1" text-anchor="middle" font-weight="normal" fill="#111" stroke="#111" stroke-width="0.25">CD43+</text>
<text x="49.4" y="293.4" font-size="11.0" text-anchor="end" font-weight="normal" fill="#111" stroke="#111" stroke-width="0.2">LMC</text>
<text x="48.9" y="449.0" font-size="10.9" text-anchor="end" font-weight="normal" fill="#111" stroke="#111" stroke-width="0.2">DPWY</text>
<text x="212.4" y="223.3" font-size="11.1" fill="#111" stroke="#111" stroke-width="0.2">B220<tspan font-size="9" dy="-2.6">+</tspan><tspan dy="2.6"> CD43</tspan><tspan font-size="9" dy="-2.6">+</tspan></text>
<text x="350.4" y="223.7" font-size="11.1" fill="#111" stroke="#111" stroke-width="0.2">B220<tspan font-size="9" dy="-2.6">+</tspan><tspan dy="2.6"> CD43</tspan><tspan font-size="9" dy="-2.6">-</tspan></text>
<text transform="translate(47.0,369.3) rotate(-90) scale(0.68,1)" font-size="11.0" text-anchor="middle" font-weight="bold" fill="#1a1a1a">B220</text>
<text transform="translate(106.4,514.6) scale(0.62,1)" font-size="11.2" text-anchor="middle" font-weight="bold" fill="#1a1a1a">CD43</text>
<text transform="translate(181.8,369.4) rotate(-90) scale(0.62,1)" font-size="11.2" text-anchor="middle" font-weight="bold" fill="#1a1a1a">CD24</text>
<text transform="translate(247.3,515.0) scale(0.62,1)" font-size="11.2" text-anchor="middle" font-weight="bold" fill="#1a1a1a">Ly51</text>
<text transform="translate(317.9,368.9) rotate(-90) scale(0.62,1)" font-size="11.2" text-anchor="middle" font-weight="bold" fill="#1a1a1a">IgD</text>
<text transform="translate(383.3,515.0) scale(0.62,1)" font-size="11.2" text-anchor="middle" font-weight="bold" fill="#1a1a1a">IgM</text>
<text x="88.0" y="248.8" font-size="8.3" text-anchor="middle" font-weight="normal" fill="#111" stroke="#111" stroke-width="0.2">12.7</text>
<text x="136.7" y="248.8" font-size="8.3" text-anchor="middle" font-weight="normal" fill="#111" stroke="#111" stroke-width="0.2">2.66</text>
<text x="88.5" y="405.6" font-size="8.3" text-anchor="middle" font-weight="normal" fill="#111" stroke="#111" stroke-width="0.2">14.6</text>
<text x="136.0" y="405.6" font-size="8.3" text-anchor="middle" font-weight="normal" fill="#111" stroke="#111" stroke-width="0.2">2.04</text>
<text x="221.0" y="249.9" font-size="8.3" text-anchor="middle" font-weight="normal" fill="#111" stroke="#111" stroke-width="0.2">B</text>
<text x="221.3" y="258.9" font-size="8.3" text-anchor="middle" font-weight="normal" fill="#111" stroke="#111" stroke-width="0.2">14.4</text>
<text x="264.3" y="249.9" font-size="8.3" text-anchor="middle" font-weight="normal" fill="#111" stroke="#111" stroke-width="0.2">C</text>
<text x="264.5" y="258.9" font-size="8.3" text-anchor="middle" font-weight="normal" fill="#111" stroke="#111" stroke-width="0.2">6.21</text>
<text x="267.3" y="321.0" font-size="8.3" text-anchor="middle" font-weight="normal" fill="#111" stroke="#111" stroke-width="0.2">A</text>
<text x="267.2" y="329.5" font-size="8.3" text-anchor="middle" font-weight="normal" fill="#111" stroke="#111" stroke-width="0.2">50.3</text>
<text x="230.6" y="402.8" font-size="8.3" text-anchor="middle" font-weight="normal" fill="#111" stroke="#111" stroke-width="0.2">B</text>
<text x="230.9" y="411.2" font-size="8.3" text-anchor="middle" font-weight="normal" fill="#111" stroke="#111" stroke-width="0.2">13.6</text>
<text x="271.7" y="402.8" font-size="8.3" text-anchor="middle" font-weight="normal" fill="#111" stroke="#111" stroke-width="0.2">C</text>
<text x="271.7" y="411.2" font-size="8.3" text-anchor="middle" font-weight="normal" fill="#111" stroke="#111" stroke-width="0.2">6.5</text>
<text x="267.7" y="481.5" font-size="8.3" text-anchor="middle" font-weight="normal" fill="#111" stroke="#111" stroke-width="0.2">A</text>
<text x="267.7" y="490.0" font-size="8.3" text-anchor="middle" font-weight="normal" fill="#111" stroke="#111" stroke-width="0.2">43.6</text>
<text x="392.9" y="249.3" font-size="8.3" text-anchor="middle" font-weight="normal" fill="#111" stroke="#111" stroke-width="0.2">F</text>
<text x="393.5" y="258.0" font-size="8.3" text-anchor="middle" font-weight="normal" fill="#111" stroke="#111" stroke-width="0.2">23.1</text>
<text x="345.4" y="297.2" font-size="8.3" text-anchor="middle" font-weight="normal" fill="#111" stroke="#111" stroke-width="0.2">D</text>
<text x="345.7" y="305.0" font-size="8.3" text-anchor="middle" font-weight="normal" fill="#111" stroke="#111" stroke-width="0.2">34.9</text>
<text x="423.0" y="309.3" font-size="8.3" text-anchor="middle" font-weight="normal" fill="#111" stroke="#111" stroke-width="0.2">E</text>
<text x="423.6" y="317.0" font-size="8.3" text-anchor="middle" font-weight="normal" fill="#111" stroke="#111" stroke-width="0.2">11.6</text>
<text x="390.4" y="395.2" font-size="8.3" text-anchor="middle" font-weight="normal" fill="#111" stroke="#111" stroke-width="0.2">F</text>
<text x="390.4" y="404.4" font-size="8.3" text-anchor="middle" font-weight="normal" fill="#111" stroke="#111" stroke-width="0.2">32.5</text>
<text x="346.5" y="446.0" font-size="8.3" text-anchor="middle" font-weight="normal" fill="#111" stroke="#111" stroke-width="0.2">D</text>
<text x="346.5" y="455.2" font-size="8.3" text-anchor="middle" font-weight="normal" fill="#111" stroke="#111" stroke-width="0.2">31.3</text>
<text x="425.7" y="470.4" font-size="8.3" text-anchor="middle" font-weight="normal" fill="#111" stroke="#111" stroke-width="0.2">E</text>
<text x="425.7" y="478.0" font-size="8.3" text-anchor="middle" font-weight="normal" fill="#111" stroke="#111" stroke-width="0.2">6.99</text>
<rect x="0.5" y="0.5" width="519" height="524" fill="none" stroke="#000" stroke-width="1"/>
</svg></body></html>
